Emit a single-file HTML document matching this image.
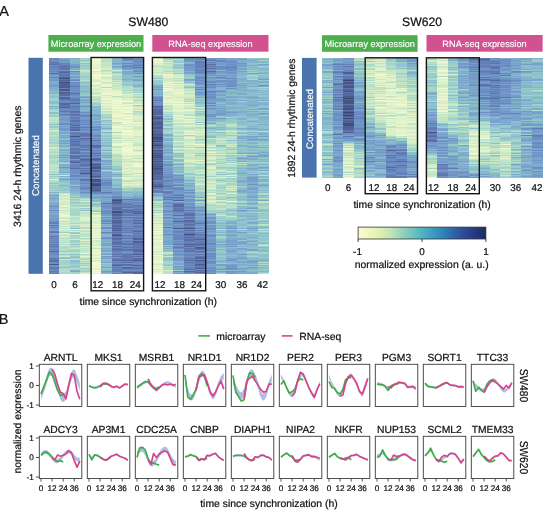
<!DOCTYPE html>
<html><head><meta charset="utf-8">
<style>
html,body{margin:0;padding:0;background:#fff;}
body{width:550px;height:518px;position:relative;overflow:hidden;font-family:"Liberation Sans",sans-serif;text-rendering:geometricPrecision;}
.hm{position:absolute;}
.hmc{position:absolute;filter:blur(0.45px);}
svg{position:absolute;left:0;top:0;filter:blur(0.3px);}
text{font-family:"Liberation Sans",sans-serif;fill:#111;stroke:#111;stroke-width:0.22px;text-rendering:geometricPrecision;}
.gn{font-size:10.3px;text-anchor:middle;}
.tk{font-size:8.2px;}
.ax{font-size:9.9px;text-anchor:middle;}
.ttl{font-size:10.4px;}
.bar{font-size:9.2px;fill:#fff;stroke:#fff;stroke-width:0.15px;text-anchor:middle;}
</style></head><body>
<div class="hmc" style="left:48.80px;top:57.80px;width:94.50px;height:216px">
<div class="hm" style="left:0.00px;top:0;width:10.80px;height:216px;background:linear-gradient(#6683bd 0 1px,#6988c1 0 2px,#6f92c5 0 3px,#6988c1 0 4px,#6079b1 0 5px,#627bb4 0 6px,#5a6fa6 0 7px,#6e91c5 0 8px,#6683bd 0 9px,#637eb7 0 10px,#6d8ec3 0 11px,#6581ba 0 12px,#7093c6 0 13px,#6784be 0 14px,#7094c6 0 15px,#5a6fa6 0 16px,#6e91c5 0 17px,#7aa5cc 0 18px,#769fcb 0 19px,#6581ba 0 20px,#79a3cc 0 21px,#7298c8 0 22px,#7094c6 0 23px,#7ba7cc 0 24px,#84b4cc 0 25px,#79a3cc 0 26px,#7daacc 0 27px,#7196c7 0 28px,#78a2cc 0 29px,#7eabcc 0 31px,#82b1cc 0 32px,#84b5cc 0 33px,#86b8cc 0 34px,#87b9cc 0 35px,#81b0cc 0 36px,#9bcdca 0 37px,#97cbcb 0 38px,#8cc1cc 0 39px,#97cbcb 0 40px,#96cacb 0 41px,#aad8c8 0 42px,#94c8cb 0 43px,#8ec4cc 0 44px,#88bbcc 0 45px,#89bdcc 0 46px,#a1d1c9 0 47px,#abd8c8 0 48px,#80aecc 0 49px,#92c7cb 0 50px,#87b9cc 0 51px,#a8d6c8 0 52px,#a7d6c8 0 53px,#b3dec7 0 54px,#8bc0cc 0 55px,#89bdcc 0 56px,#b3dec6 0 57px,#9ecfca 0 58px,#96cacb 0 59px,#cce9c7 0 60px,#c0e4c6 0 61px,#bde3c6 0 62px,#b4dec6 0 63px,#c9e8c7 0 64px,#addac7 0 65px,#a7d5c8 0 66px,#94c8cb 0 67px,#abd8c8 0 68px,#9accca 0 69px,#94c8cb 0 70px,#b5e0c6 0 71px,#aedbc7 0 72px,#cbe9c7 0 73px,#d1ebc7 0 74px,#a9d7c8 0 75px,#afdbc7 0 76px,#aad8c8 0 77px,#bfe4c6 0 78px,#b8e1c6 0 79px,#aad8c8 0 80px,#addac7 0 81px,#aedac7 0 82px,#a2d2c9 0 83px,#b5dfc6 0 84px,#9dcfca 0 85px,#a3d3c9 0 86px,#bae2c6 0 87px,#b0dbc7 0 88px,#aad7c8 0 89px,#dbefc8 0 90px,#cfeac7 0 91px,#b2ddc7 0 92px,#c2e5c7 0 93px,#b8e1c6 0 94px,#addac7 0 95px,#bfe4c6 0 96px,#bde3c6 0 97px,#a8d6c8 0 98px,#a3d3c9 0 99px,#a6d5c8 0 100px,#aedac7 0 101px,#b9e1c6 0 102px,#b1ddc7 0 103px,#a9d7c8 0 105px,#afdbc7 0 106px,#b6e0c6 0 107px,#cae8c7 0 108px,#bfe4c6 0 109px,#b8e1c6 0 110px,#bbe2c6 0 111px,#b8e1c6 0 112px,#c7e7c7 0 113px,#b3dec6 0 114px,#acd9c7 0 115px,#bee3c6 0 116px,#88bbcc 0 117px,#c3e5c7 0 118px,#9accca 0 119px,#bde3c6 0 120px,#a8d7c8 0 121px,#ddf0c8 0 122px,#bbe2c6 0 123px,#acd9c8 0 124px,#a9d7c8 0 125px,#8ec4cc 0 126px,#aedac7 0 127px,#97cbcb 0 128px,#a1d1c9 0 129px,#97cacb 0 130px,#98cbca 0 131px,#a5d4c9 0 132px,#94c8cb 0 133px,#acd9c7 0 134px,#81afcc 0 135px,#9ed0ca 0 136px,#8abdcc 0 137px,#759dca 0 138px,#86b7cc 0 139px,#7fadcc 0 140px,#79a4cc 0 141px,#81b0cc 0 142px,#82b2cc 0 143px,#89bdcc 0 144px,#80aecc 0 145px,#78a3cc 0 146px,#85b5cc 0 147px,#7094c6 0 148px,#7297c7 0 149px,#7aa4cc 0 150px,#78a2cc 0 151px,#81afcc 0 152px,#6987c1 0 153px,#7eaccc 0 154px,#769eca 0 155px,#7daacc 0 156px,#7fadcc 0 157px,#739ac8 0 158px,#779fcb 0 159px,#79a3cc 0 160px,#78a1cc 0 161px,#7399c8 0 162px,#749bc9 0 163px,#6e90c4 0 164px,#647eb7 0 165px,#637eb7 0 166px,#79a3cc 0 167px,#5f77af 0 168px,#7195c7 0 169px,#6887c0 0 170px,#7094c6 0 171px,#769fcb 0 173px,#647fb8 0 174px,#5e76ae 0 175px,#78a2cc 0 176px,#749bc9 0 177px,#7196c7 0 178px,#5f78b0 0 179px,#6b8cc2 0 180px,#6682bc 0 181px,#6a89c1 0 182px,#6988c1 0 183px,#6b8bc2 0 184px,#647fb8 0 185px,#7398c8 0 186px,#5e75ad 0 187px,#6988c1 0 188px,#6079b1 0 189px,#6a8ac2 0 190px,#6e90c4 0 191px,#647fb8 0 192px,#6b8bc2 0 193px,#5769a0 0 194px,#6784be 0 195px,#6d8fc4 0 196px,#6988c1 0 197px,#6f93c6 0 198px,#7196c7 0 199px,#6f92c5 0 200px,#6079b1 0 202px,#5d73ab 0 203px,#586ca2 0 204px,#6d8ec4 0 205px,#6b8cc2 0 206px,#4b598a 0 207px,#7094c6 0 208px,#6e91c5 0 209px,#6079b1 0 210px,#637db6 0 211px,#6581ba 0 212px,#6f93c5 0 213px,#5f77af 0 214px,#6886c0 0 215px,#637eb7 0 216px)"></div>
<div class="hm" style="left:10.50px;top:0;width:10.80px;height:216px;background:linear-gradient(#7faecc 0 1px,#749bc9 0 2px,#6f92c5 0 3px,#749bc9 0 4px,#749cc9 0 5px,#6580ba 0 6px,#6988c1 0 7px,#6079b1 0 8px,#5c72a9 0 9px,#617bb3 0 10px,#5d73aa 0 11px,#617ab2 0 12px,#6f93c6 0 13px,#5a6fa6 0 14px,#57699f 0 15px,#5f78b0 0 16px,#637eb7 0 17px,#5b6fa6 0 18px,#6581ba 0 19px,#54659a 0 20px,#44517f 0 21px,#5c72a9 0 22px,#536398 0 23px,#5a6ea5 0 24px,#455281 0 25px,#505f93 0 26px,#4e5c90 0 27px,#536297 0 28px,#505f93 0 29px,#4d5b8e 0 30px,#6581ba 0 31px,#475585 0 32px,#4c5b8d 0 33px,#6682bb 0 34px,#4d5b8d 0 35px,#586ba1 0 36px,#56689e 0 37px,#596da3 0 38px,#6987c0 0 39px,#57699f 0 40px,#4f5e92 0 41px,#5f78b0 0 42px,#647fb8 0 43px,#6d8fc4 0 44px,#6886c0 0 45px,#55669b 0 46px,#56689e 0 47px,#5d73aa 0 48px,#5f77af 0 49px,#526196 0 50px,#6886c0 0 51px,#6c8dc3 0 52px,#6887c0 0 53px,#6078b0 0 54px,#6e90c4 0 55px,#6f92c5 0 56px,#6480b9 0 57px,#6b8ac2 0 58px,#78a1cc 0 59px,#769eca 0 60px,#749bc9 0 61px,#7297c7 0 62px,#759dca 0 63px,#78a1cc 0 64px,#79a4cc 0 65px,#6f92c5 0 66px,#6886c0 0 67px,#80afcc 0 68px,#759dca 0 69px,#7daacc 0 70px,#7399c8 0 71px,#7196c7 0 72px,#739ac8 0 73px,#86b7cc 0 74px,#78a2cc 0 75px,#7ba6cc 0 76px,#8dc2cc 0 77px,#78a1cc 0 78px,#7eaccc 0 79px,#79a4cc 0 80px,#88bacc 0 81px,#90c5cc 0 82px,#78a2cc 0 83px,#7aa5cc 0 84px,#82b2cc 0 85px,#769fcb 0 86px,#89bccc 0 87px,#82b1cc 0 88px,#79a4cc 0 89px,#8fc5cc 0 90px,#93c7cb 0 91px,#86b7cc 0 92px,#78a2cc 0 93px,#8cc1cc 0 94px,#81b0cc 0 95px,#86b7cc 0 96px,#86b8cc 0 97px,#7196c7 0 98px,#89bccc 0 99px,#7298c8 0 100px,#8abecc 0 101px,#83b3cc 0 102px,#84b5cc 0 103px,#79a3cc 0 104px,#9bcdca 0 105px,#a8d6c8 0 106px,#7eabcc 0 107px,#80aecc 0 108px,#85b6cc 0 109px,#6f92c5 0 110px,#80afcc 0 111px,#88bacc 0 112px,#85b7cc 0 113px,#86b8cc 0 114px,#7ba6cc 0 115px,#9dcfca 0 116px,#88bbcc 0 117px,#cbe9c7 0 118px,#7fadcc 0 119px,#99ccca 0 120px,#87b9cc 0 121px,#77a0cb 0 122px,#89bccc 0 123px,#8cc1cc 0 124px,#93c8cb 0 125px,#9bcdca 0 126px,#97cbcb 0 127px,#86b8cc 0 128px,#92c7cb 0 129px,#94c8cb 0 130px,#9bcdca 0 131px,#92c6cb 0 132px,#95c9cb 0 133px,#a7d5c8 0 134px,#99ccca 0 135px,#c1e5c7 0 136px,#e4f3c9 0 137px,#bfe4c6 0 138px,#d1ebc7 0 139px,#e3f2c8 0 140px,#c8e7c7 0 141px,#d0ebc7 0 142px,#e5f3ca 0 143px,#d1ebc7 0 144px,#def0c8 0 145px,#c9e8c7 0 146px,#d5edc7 0 147px,#ddf0c8 0 148px,#edf7cf 0 149px,#c6e7c7 0 150px,#dbefc8 0 151px,#e4f3ca 0 152px,#c5e6c7 0 153px,#dbefc8 0 154px,#d8eec8 0 155px,#e5f3ca 0 156px,#e3f2c8 0 157px,#f2f9d3 0 158px,#eef7d0 0 159px,#d9eec8 0 160px,#c1e5c7 0 161px,#e9f5cc 0 162px,#e3f2c9 0 163px,#bce2c6 0 164px,#dff1c8 0 165px,#c5e6c7 0 166px,#cbe9c7 0 167px,#ddf0c8 0 168px,#c4e6c7 0 169px,#dff1c8 0 170px,#c8e7c7 0 171px,#e5f3ca 0 172px,#c6e6c7 0 174px,#9ed0ca 0 175px,#e3f3c9 0 176px,#d5edc7 0 177px,#b9e1c6 0 178px,#e0f1c8 0 179px,#c0e4c6 0 180px,#b8e1c6 0 181px,#cce9c7 0 182px,#bde3c6 0 183px,#d4ecc7 0 184px,#acd9c7 0 185px,#def0c8 0 186px,#b4dfc6 0 187px,#ceeac7 0 188px,#bae1c6 0 189px,#abd8c8 0 190px,#b4dfc6 0 191px,#b8e1c6 0 192px,#abd8c8 0 193px,#97cacb 0 194px,#c1e5c7 0 195px,#bae2c6 0 196px,#9bcdca 0 197px,#b6e0c6 0 198px,#d2ebc7 0 199px,#92c7cb 0 200px,#87bacc 0 201px,#cde9c7 0 202px,#a4d3c9 0 203px,#acd9c7 0 204px,#9bcdca 0 205px,#a7d5c8 0 206px,#a7d6c8 0 207px,#addac7 0 208px,#abd8c8 0 209px,#8bbfcc 0 210px,#afdbc7 0 211px,#b6e0c6 0 212px,#b1ddc7 0 213px,#b9e1c6 0 214px,#a7d6c8 0 215px,#aedac7 0 216px)"></div>
<div class="hm" style="left:21.00px;top:0;width:10.80px;height:216px;background:linear-gradient(#7eabcc 0 1px,#85b6cc 0 2px,#89bccc 0 3px,#84b4cc 0 4px,#82b1cc 0 5px,#84b5cc 0 6px,#78a2cc 0 7px,#759dca 0 8px,#7094c6 0 9px,#6e91c5 0 10px,#80aecc 0 11px,#7da9cc 0 12px,#9dceca 0 13px,#6988c1 0 14px,#7da9cc 0 15px,#769fcb 0 16px,#79a3cc 0 17px,#89bccc 0 18px,#759cca 0 19px,#769eca 0 20px,#82b1cc 0 21px,#7197c7 0 22px,#6a89c1 0 23px,#85b6cc 0 24px,#6c8dc3 0 25px,#6f92c5 0 26px,#6f93c5 0 27px,#6885bf 0 28px,#637eb7 0 29px,#6d8ec3 0 30px,#6a8ac2 0 31px,#7399c8 0 32px,#6988c1 0 33px,#7297c7 0 34px,#6a8ac2 0 35px,#5a6fa6 0 36px,#6886c0 0 37px,#6d8fc4 0 38px,#7398c8 0 39px,#6b8bc2 0 40px,#6989c1 0 41px,#5e75ad 0 42px,#617bb3 0 43px,#6785bf 0 44px,#6683bc 0 45px,#54659a 0 46px,#6f92c5 0 47px,#6b8bc2 0 48px,#5d74ab 0 49px,#6785bf 0 50px,#6581ba 0 51px,#6988c1 0 52px,#6b8bc2 0 53px,#5b6fa6 0 54px,#5e75ac 0 55px,#6a8ac2 0 56px,#5a6ea5 0 57px,#6079b1 0 58px,#6b8bc2 0 59px,#617ab3 0 60px,#637eb7 0 61px,#6886c0 0 62px,#5d73ab 0 63px,#5b70a8 0 64px,#6b8cc2 0 65px,#6079b1 0 66px,#6581ba 0 67px,#54659b 0 68px,#6b8bc2 0 69px,#56679d 0 70px,#627bb4 0 71px,#586aa1 0 72px,#54659b 0 73px,#7da9cc 0 74px,#647fb8 0 75px,#6078b0 0 76px,#6784be 0 77px,#647fb8 0 78px,#485687 0 79px,#6079b1 0 80px,#6e90c4 0 81px,#586ba1 0 82px,#6a8ac2 0 83px,#54659a 0 84px,#6580ba 0 85px,#5e75ad 0 86px,#5c72a9 0 87px,#5b71a8 0 88px,#6a89c1 0 89px,#6d8fc4 0 90px,#5e76ad 0 91px,#5d74ab 0 92px,#6682bb 0 93px,#617ab2 0 94px,#5e75ad 0 95px,#586ba2 0 96px,#77a0cb 0 97px,#6078b0 0 98px,#596da4 0 99px,#5e76ae 0 100px,#5c71a9 0 101px,#759dca 0 102px,#6480b9 0 103px,#5e75ad 0 104px,#526297 0 105px,#6f93c6 0 106px,#6784be 0 107px,#6885bf 0 108px,#647fb8 0 109px,#6988c1 0 110px,#596da4 0 111px,#7095c6 0 112px,#6d8ec4 0 113px,#6f93c5 0 114px,#6b8cc2 0 115px,#7297c7 0 116px,#739ac9 0 117px,#6887c0 0 118px,#6886c0 0 119px,#77a0cb 0 120px,#7399c8 0 121px,#6c8ec3 0 122px,#7ca8cc 0 123px,#78a2cc 0 124px,#769fcb 0 125px,#77a1cb 0 126px,#7fadcc 0 127px,#8fc5cc 0 128px,#759cca 0 129px,#7ba7cc 0 130px,#7eaccc 0 131px,#84b5cc 0 132px,#7daacc 0 133px,#85b5cc 0 135px,#8abecc 0 136px,#8fc5cc 0 137px,#96c9cb 0 138px,#a4d3c9 0 139px,#8abdcc 0 140px,#b6e0c6 0 141px,#93c8cb 0 142px,#a6d5c8 0 143px,#afdbc7 0 144px,#94c8cb 0 145px,#9ed0ca 0 146px,#aedac7 0 147px,#a3d3c9 0 148px,#a8d6c8 0 149px,#c2e5c7 0 150px,#b2ddc7 0 151px,#add9c7 0 152px,#a4d3c9 0 153px,#abd8c8 0 154px,#a8d6c8 0 155px,#a6d4c8 0 156px,#a5d4c8 0 157px,#abd8c8 0 158px,#d0ebc7 0 159px,#bae2c6 0 160px,#b3dec6 0 161px,#c5e6c7 0 162px,#bae2c6 0 163px,#ceeac7 0 164px,#b5dfc6 0 165px,#abd8c8 0 166px,#d4ecc7 0 167px,#b7e1c6 0 168px,#aedac7 0 169px,#b2ddc7 0 170px,#8bbfcc 0 171px,#ebf6ce 0 172px,#addac7 0 173px,#def0c8 0 174px,#9bcdca 0 175px,#8ec4cc 0 176px,#dcefc8 0 177px,#a4d4c9 0 178px,#a7d6c8 0 179px,#b2ddc7 0 180px,#9fd0c9 0 181px,#d6edc7 0 182px,#a0d1c9 0 183px,#9dceca 0 184px,#a6d5c8 0 185px,#bae1c6 0 186px,#8ec4cc 0 187px,#bde3c6 0 188px,#a1d2c9 0 189px,#b5e0c6 0 190px,#d2ebc7 0 191px,#a5d4c9 0 192px,#a3d3c9 0 193px,#96cacb 0 194px,#c1e5c7 0 195px,#b1dcc7 0 196px,#96c9cb 0 197px,#a8d6c8 0 198px,#95c9cb 0 199px,#8cc1cc 0 200px,#a6d5c8 0 201px,#bae2c6 0 202px,#89bccc 0 203px,#8cc1cc 0 204px,#8dc3cc 0 205px,#96c9cb 0 206px,#9fd0c9 0 207px,#9accca 0 208px,#90c5cc 0 209px,#9cceca 0 210px,#afdbc7 0 211px,#a9d7c8 0 212px,#83b4cc 0 213px,#7ba7cc 0 214px,#a2d2c9 0 215px,#a7d5c8 0 216px)"></div>
<div class="hm" style="left:31.50px;top:0;width:10.80px;height:216px;background:linear-gradient(#a0d1c9 0 1px,#abd8c8 0 2px,#8ec3cc 0 3px,#a5d4c9 0 4px,#bae2c6 0 5px,#8dc2cc 0 6px,#a2d2c9 0 7px,#99cbca 0 8px,#98cbcb 0 9px,#a2d2c9 0 10px,#96cacb 0 11px,#a8d6c8 0 12px,#cbe9c7 0 13px,#bde3c6 0 14px,#afdbc7 0 15px,#a6d5c8 0 16px,#a9d7c8 0 17px,#a7d5c8 0 18px,#97cacb 0 19px,#9bcdca 0 20px,#a4d3c9 0 22px,#b7e0c6 0 23px,#9ecfca 0 24px,#8dc2cc 0 25px,#8cc1cc 0 26px,#9cceca 0 27px,#8cc1cc 0 28px,#86b8cc 0 29px,#8bbfcc 0 30px,#8abecc 0 31px,#8bc0cc 0 32px,#8cc1cc 0 33px,#80aecc 0 34px,#8ec3cc 0 35px,#8cc2cc 0 36px,#97cacb 0 37px,#9acdca 0 38px,#7daacc 0 39px,#759cc9 0 40px,#8abfcc 0 41px,#80aecc 0 42px,#78a2cc 0 43px,#82b1cc 0 44px,#77a0cb 0 45px,#87b9cc 0 46px,#8dc2cc 0 47px,#7ba7cc 0 48px,#7298c8 0 49px,#7faccc 0 50px,#82b2cc 0 51px,#7faecc 0 52px,#87b9cc 0 53px,#7faccc 0 54px,#6c8ec3 0 55px,#79a4cc 0 56px,#7297c7 0 57px,#6480b9 0 58px,#6b8cc3 0 59px,#749cc9 0 61px,#7195c7 0 62px,#6886c0 0 63px,#7195c7 0 64px,#6b8cc2 0 65px,#7196c7 0 66px,#6886c0 0 67px,#769eca 0 68px,#6f92c5 0 69px,#617bb3 0 70px,#7196c7 0 71px,#6988c1 0 72px,#6e90c4 0 73px,#749bc9 0 74px,#6989c1 0 75px,#647fb8 0 76px,#5a6ea5 0 77px,#5e76ad 0 78px,#6179b2 0 79px,#7297c7 0 80px,#55669b 0 81px,#6581ba 0 82px,#617bb3 0 83px,#6d8fc4 0 84px,#6581bb 0 85px,#6d8ec4 0 86px,#6b8bc2 0 87px,#5d73aa 0 88px,#627bb4 0 89px,#617ab2 0 90px,#7196c7 0 91px,#5a6fa5 0 92px,#6785be 0 93px,#77a0cb 0 94px,#6683bd 0 95px,#6784bd 0 96px,#6f92c5 0 97px,#6078b0 0 98px,#5e75ad 0 99px,#6c8ec3 0 100px,#627cb5 0 101px,#526196 0 102px,#5b70a7 0 103px,#5f76ae 0 104px,#637eb6 0 105px,#6480b9 0 106px,#5e75ac 0 107px,#5b6fa6 0 108px,#6682bc 0 109px,#7195c6 0 110px,#5c71a8 0 111px,#6a8ac2 0 112px,#6079b1 0 113px,#6784be 0 114px,#6078b0 0 115px,#4d5b8e 0 116px,#647fb8 0 117px,#6c8ec3 0 118px,#6885bf 0 119px,#759eca 0 120px,#7195c6 0 121px,#596da4 0 122px,#617ab2 0 123px,#6e91c5 0 124px,#7196c7 0 125px,#6785bf 0 126px,#749bc9 0 127px,#7195c7 0 128px,#6f92c5 0 129px,#6886c0 0 130px,#6480b9 0 131px,#6f93c6 0 132px,#769eca 0 133px,#78a2cc 0 134px,#6b8cc2 0 135px,#749bc9 0 136px,#87bacc 0 137px,#81afcc 0 138px,#85b6cc 0 139px,#8bc0cc 0 140px,#abd8c8 0 141px,#c0e4c6 0 142px,#aad7c8 0 143px,#def1c8 0 144px,#a3d2c9 0 145px,#a5d4c8 0 146px,#c4e6c7 0 147px,#9acdca 0 148px,#a9d7c8 0 149px,#d5edc7 0 150px,#98cbca 0 151px,#b2ddc7 0 152px,#8cc0cc 0 153px,#d5edc7 0 154px,#bee3c6 0 156px,#c5e6c7 0 157px,#c6e7c7 0 158px,#cce9c7 0 159px,#e6f4ca 0 160px,#dbefc8 0 161px,#e7f4cc 0 162px,#d7edc7 0 163px,#d0eac7 0 164px,#bee3c6 0 165px,#bbe2c6 0 166px,#d9eec8 0 167px,#dbefc8 0 168px,#d6edc7 0 169px,#b5dfc6 0 170px,#b4dfc6 0 171px,#def0c8 0 172px,#c8e7c7 0 173px,#b9e1c6 0 174px,#d0ebc7 0 175px,#cae8c7 0 176px,#b3dec6 0 177px,#c5e6c7 0 178px,#bbe2c6 0 179px,#dcf0c8 0 180px,#b1dcc7 0 181px,#c4e6c7 0 182px,#e4f3c9 0 183px,#b0dcc7 0 184px,#d0ebc7 0 185px,#b3dec6 0 186px,#bfe4c6 0 187px,#d4ecc7 0 188px,#bbe2c6 0 189px,#d0ebc7 0 190px,#c2e5c7 0 191px,#cce9c7 0 192px,#b9e1c6 0 193px,#c2e5c7 0 194px,#cfeac7 0 195px,#f0f8d2 0 196px,#add9c7 0 197px,#cce9c7 0 198px,#e7f4cb 0 199px,#cdeac7 0 200px,#b0dcc7 0 201px,#a9d7c8 0 202px,#c9e8c7 0 203px,#abd8c8 0 204px,#c1e4c6 0 205px,#9cceca 0 206px,#b8e1c6 0 207px,#a3d3c9 0 208px,#c7e7c7 0 209px,#c1e4c6 0 210px,#9ecfca 0 211px,#a9d7c8 0 212px,#abd8c8 0 213px,#9ecfca 0 214px,#c1e5c7 0 215px,#d9efc8 0 216px)"></div>
<div class="hm" style="left:42.00px;top:0;width:10.80px;height:216px;background:linear-gradient(#f4fad4 0 1px,#f2f9d3 0 2px,#f4fad4 0 3px,#ebf6ce 0 4px,#eff8d1 0 5px,#f1f9d2 0 6px,#eaf5cd 0 7px,#eef7d0 0 8px,#e9f5cd 0 9px,#e7f4cb 0 10px,#e4f3ca 0 11px,#f1f9d2 0 12px,#f4fad4 0 13px,#d7eec8 0 14px,#e8f5cc 0 15px,#dff1c8 0 16px,#f4fad4 0 17px,#f2f9d3 0 18px,#ecf6ce 0 19px,#f4fad4 0 20px,#ebf6ce 0 21px,#e2f2c8 0 22px,#d7eec8 0 23px,#d6edc7 0 24px,#ecf6cf 0 25px,#eff8d0 0 26px,#e3f2c8 0 27px,#c7e7c7 0 28px,#dcefc8 0 29px,#e8f5cc 0 30px,#d8eec8 0 31px,#d7eec8 0 32px,#d5edc7 0 33px,#e2f2c8 0 34px,#c9e8c7 0 35px,#bfe4c6 0 36px,#daefc8 0 37px,#eaf6cd 0 38px,#c8e7c7 0 39px,#b4dec6 0 40px,#c7e7c7 0 41px,#aad7c8 0 42px,#bde3c6 0 43px,#bee3c6 0 44px,#b3dec6 0 45px,#9bcdca 0 46px,#9ecfca 0 47px,#aad8c8 0 48px,#83b4cc 0 49px,#88bbcc 0 50px,#89bccc 0 51px,#8cc1cc 0 52px,#84b4cc 0 53px,#8abdcc 0 54px,#86b8cc 0 55px,#8bc0cc 0 56px,#79a4cc 0 57px,#769eca 0 58px,#7daacc 0 59px,#82b2cc 0 60px,#7eaccc 0 61px,#7eabcc 0 62px,#8abdcc 0 63px,#759dca 0 64px,#7eabcc 0 65px,#81b0cc 0 66px,#769fcb 0 67px,#83b3cc 0 68px,#7399c8 0 69px,#6c8cc3 0 70px,#77a1cb 0 71px,#6988c1 0 72px,#6f93c5 0 73px,#7aa6cc 0 74px,#779fcb 0 75px,#749bc9 0 77px,#6785bf 0 78px,#6c8cc3 0 79px,#7aa4cc 0 80px,#6988c1 0 81px,#749bc9 0 82px,#5c72a9 0 83px,#7093c6 0 84px,#6c8dc3 0 86px,#6f93c5 0 87px,#55669b 0 88px,#596ea4 0 89px,#5d73ab 0 90px,#6987c0 0 91px,#7196c7 0 92px,#6581ba 0 93px,#6e90c4 0 94px,#6b8cc3 0 95px,#5a6ea5 0 96px,#6c8dc3 0 97px,#617bb3 0 98px,#6886bf 0 99px,#7094c6 0 100px,#586ba1 0 101px,#4e5d90 0 102px,#5b70a7 0 103px,#617ab2 0 104px,#7399c8 0 105px,#5b70a7 0 106px,#4b598b 0 107px,#586ba1 0 108px,#56679d 0 109px,#485687 0 110px,#495788 0 111px,#6078b0 0 112px,#55669c 0 113px,#526196 0 114px,#6784be 0 115px,#5c73aa 0 116px,#5e76ae 0 117px,#5b71a8 0 118px,#4b598a 0 119px,#647fb8 0 120px,#6a89c1 0 121px,#445180 0 122px,#4b598a 0 123px,#404d7a 0 124px,#5d74ac 0 125px,#475584 0 126px,#3c4974 0 127px,#3b4872 0 128px,#56689e 0 129px,#526196 0 130px,#576aa0 0 131px,#526195 0 132px,#505f92 0 133px,#5a6fa6 0 134px,#6987c1 0 135px,#6886c0 0 136px,#7daacc 0 137px,#7ca9cc 0 138px,#81afcc 0 139px,#739ac9 0 140px,#7daacc 0 141px,#8cc1cc 0 142px,#83b3cc 0 143px,#8bbfcc 0 144px,#aad8c8 0 145px,#95c9cb 0 146px,#8cc1cc 0 147px,#8dc2cc 0 148px,#9fd0ca 0 149px,#bae2c6 0 150px,#c3e5c7 0 151px,#b5dfc6 0 152px,#a4d4c9 0 153px,#96c9cb 0 154px,#e0f1c8 0 155px,#bde3c6 0 156px,#c8e7c7 0 157px,#e9f5cd 0 158px,#ecf6cf 0 159px,#d7eec8 0 160px,#d9eec8 0 161px,#e4f3c9 0 162px,#d4ecc7 0 163px,#e4f3c9 0 164px,#d2ebc7 0 165px,#e3f2c9 0 166px,#eef7d0 0 167px,#e2f2c8 0 168px,#ebf6ce 0 169px,#e2f2c8 0 170px,#c8e7c7 0 171px,#f0f8d1 0 172px,#e5f3ca 0 173px,#e7f4cb 0 174px,#e8f5cc 0 175px,#e4f3c9 0 176px,#f1f9d2 0 177px,#dbefc8 0 178px,#ecf6cf 0 179px,#edf7cf 0 180px,#c9e8c7 0 181px,#eef7d0 0 182px,#d1ebc7 0 183px,#d8eec8 0 184px,#ceeac7 0 185px,#f1f8d2 0 186px,#c6e6c7 0 187px,#e0f1c8 0 188px,#e6f4cb 0 189px,#ebf6ce 0 190px,#c4e6c7 0 191px,#e5f3ca 0 192px,#ecf6ce 0 193px,#ecf6cf 0 194px,#ebf6ce 0 195px,#ecf6cf 0 196px,#e6f4cb 0 197px,#ddf0c8 0 198px,#f0f8d1 0 199px,#ebf6ce 0 200px,#d1ebc7 0 201px,#eff8d1 0 202px,#d7eec8 0 203px,#dcf0c8 0 204px,#f4fad4 0 206px,#f0f8d1 0 207px,#f4fad4 0 208px,#eaf6cd 0 209px,#f4fad4 0 210px,#e4f3c9 0 211px,#def1c8 0 212px,#f4fad4 0 213px,#e9f5cd 0 214px,#f4fad4 0 215px,#e7f4cb 0 216px)"></div>
<div class="hm" style="left:52.50px;top:0;width:10.80px;height:216px;background:linear-gradient(#c6e6c7 0 1px,#b8e1c6 0 2px,#b9e1c6 0 3px,#b3dec6 0 4px,#cae8c7 0 5px,#bfe4c6 0 6px,#c0e4c6 0 7px,#b9e1c6 0 8px,#cdeac7 0 9px,#bfe4c6 0 10px,#e3f3c9 0 11px,#cfeac7 0 12px,#b4dfc6 0 13px,#c3e5c7 0 14px,#dff1c8 0 15px,#c4e6c7 0 16px,#e7f4cb 0 17px,#edf7cf 0 18px,#e4f3ca 0 19px,#cce9c7 0 20px,#ceeac7 0 21px,#dbefc8 0 22px,#e4f3c9 0 23px,#e9f5cd 0 24px,#c0e4c6 0 25px,#d5edc7 0 26px,#eaf5cd 0 27px,#ebf6ce 0 28px,#eaf6cd 0 29px,#acd9c8 0 30px,#edf7cf 0 31px,#e5f3ca 0 32px,#e2f2c8 0 33px,#e5f3ca 0 34px,#e4f3ca 0 35px,#eff8d0 0 36px,#eff8d1 0 37px,#d3ecc7 0 38px,#edf7cf 0 39px,#d1ebc7 0 40px,#f4fad4 0 41px,#e6f4cb 0 42px,#dff1c8 0 43px,#e0f1c8 0 44px,#ecf7cf 0 45px,#d1ebc7 0 46px,#e6f4cb 0 47px,#e7f4cb 0 48px,#d0ebc7 0 49px,#e4f3c9 0 50px,#d4ecc7 0 51px,#c4e6c7 0 52px,#edf7cf 0 53px,#bae2c6 0 54px,#cae8c7 0 55px,#cde9c7 0 56px,#b1ddc7 0 57px,#a0d0c9 0 58px,#b0dcc7 0 59px,#99ccca 0 60px,#b0dcc7 0 61px,#b9e1c6 0 62px,#8abecc 0 63px,#a0d0c9 0 64px,#93c7cb 0 65px,#acd9c8 0 66px,#87b9cc 0 67px,#a0d0c9 0 68px,#93c7cb 0 69px,#8fc5cc 0 70px,#7eabcc 0 71px,#95c9cb 0 72px,#acd9c8 0 73px,#b9e1c6 0 74px,#82b1cc 0 75px,#a0d0c9 0 76px,#a8d6c8 0 77px,#97cacb 0 78px,#8ec4cc 0 79px,#a2d2c9 0 80px,#91c6cc 0 81px,#95c9cb 0 82px,#8dc2cc 0 83px,#99ccca 0 84px,#8bbfcc 0 85px,#90c5cc 0 86px,#94c8cb 0 87px,#84b5cc 0 89px,#a8d6c8 0 90px,#9ecfca 0 91px,#98cbca 0 92px,#7fadcc 0 93px,#addac7 0 94px,#93c7cb 0 95px,#87bacc 0 96px,#93c7cb 0 97px,#78a2cc 0 98px,#89bccc 0 99px,#7eabcc 0 100px,#95c9cb 0 101px,#98cbcb 0 102px,#79a3cc 0 103px,#7ba7cc 0 104px,#82b1cc 0 105px,#84b4cc 0 106px,#7aa6cc 0 107px,#8ec4cc 0 108px,#7eabcc 0 109px,#84b4cc 0 110px,#749cc9 0 111px,#82b2cc 0 112px,#a0d1c9 0 113px,#8cc1cc 0 114px,#759eca 0 115px,#80aecc 0 116px,#7aa5cc 0 117px,#7da9cc 0 118px,#79a3cc 0 119px,#83b3cc 0 120px,#7aa5cc 0 121px,#749bc9 0 122px,#6988c1 0 123px,#7399c8 0 124px,#6885bf 0 125px,#6987c0 0 126px,#6988c1 0 127px,#6c8dc3 0 128px,#749cc9 0 129px,#7399c8 0 130px,#749ac9 0 131px,#79a4cc 0 132px,#7298c8 0 133px,#769fcb 0 134px,#617ab2 0 135px,#6f92c5 0 136px,#77a1cc 0 137px,#85b5cc 0 138px,#749ac9 0 139px,#7399c8 0 140px,#7ca8cc 0 141px,#7aa4cc 0 142px,#7eabcc 0 143px,#769eca 0 145px,#5d73aa 0 146px,#7195c7 0 147px,#7297c7 0 148px,#6988c1 0 149px,#6f92c5 0 150px,#7094c6 0 151px,#769fcb 0 152px,#7093c6 0 153px,#6886c0 0 154px,#6e91c5 0 155px,#6887c0 0 156px,#77a0cb 0 157px,#749bc9 0 158px,#86b8cc 0 159px,#7093c6 0 160px,#7ca9cc 0 161px,#749cc9 0 162px,#6e90c4 0 163px,#6987c1 0 164px,#79a4cc 0 165px,#6a89c1 0 166px,#82b2cc 0 167px,#7eabcc 0 168px,#84b4cc 0 169px,#6d90c4 0 170px,#6988c1 0 171px,#88bbcc 0 172px,#7ba7cc 0 173px,#82b1cc 0 174px,#6682bc 0 175px,#77a1cb 0 176px,#7fadcc 0 177px,#87b9cc 0 178px,#82b2cc 0 179px,#7298c8 0 180px,#6c8dc3 0 181px,#7eaccc 0 182px,#83b3cc 0 183px,#7ba7cc 0 184px,#8abdcc 0 185px,#769fcb 0 186px,#7ca8cc 0 187px,#78a1cc 0 188px,#89bdcc 0 189px,#8abecc 0 190px,#7aa5cc 0 191px,#82b1cc 0 192px,#769fcb 0 193px,#7ca8cc 0 194px,#90c6cc 0 195px,#7fadcc 0 196px,#769eca 0 197px,#9acdca 0 198px,#749bc9 0 199px,#81b0cc 0 200px,#759dca 0 201px,#8fc5cc 0 202px,#82b1cc 0 203px,#88bbcc 0 204px,#78a1cc 0 205px,#98cbca 0 206px,#87b9cc 0 207px,#8fc5cc 0 208px,#88bbcc 0 209px,#79a4cc 0 210px,#8fc4cc 0 211px,#89bccc 0 212px,#86b8cc 0 213px,#7196c7 0 214px,#7daacc 0 215px,#88bbcc 0 216px)"></div>
<div class="hm" style="left:63.00px;top:0;width:10.80px;height:216px;background:linear-gradient(#88bbcc 0 1px,#84b5cc 0 2px,#86b8cc 0 3px,#81b0cc 0 4px,#88bbcc 0 5px,#77a1cc 0 6px,#80aecc 0 7px,#91c6cc 0 8px,#77a0cb 0 9px,#82b2cc 0 10px,#8dc2cc 0 11px,#a2d2c9 0 12px,#cbe8c7 0 13px,#acd9c7 0 14px,#8fc5cc 0 15px,#aedac7 0 16px,#cce9c7 0 17px,#b6e0c6 0 18px,#b4dfc6 0 19px,#b0dcc7 0 20px,#aedac7 0 21px,#a6d5c8 0 22px,#cae8c7 0 23px,#b4dfc6 0 24px,#d4ecc7 0 25px,#b9e1c6 0 26px,#cfeac7 0 27px,#c0e4c6 0 29px,#cfeac7 0 30px,#cae8c7 0 31px,#d0ebc7 0 32px,#def0c8 0 33px,#e6f4cb 0 34px,#e7f4cb 0 35px,#e8f5cc 0 37px,#e9f5cd 0 38px,#b9e1c6 0 39px,#d8eec8 0 40px,#e4f3ca 0 41px,#eef7d0 0 43px,#f2f9d2 0 44px,#e9f5cd 0 45px,#eff8d0 0 46px,#e5f3ca 0 47px,#f0f8d1 0 48px,#e3f2c8 0 49px,#f4fad4 0 50px,#e8f5cc 0 51px,#e8f4cc 0 52px,#edf7cf 0 53px,#e2f2c8 0 54px,#e5f3ca 0 55px,#e4f3c9 0 56px,#f1f9d2 0 57px,#eaf6cd 0 58px,#f4fad4 0 59px,#e3f2c9 0 60px,#d9eec8 0 61px,#e6f4ca 0 62px,#eaf5cd 0 63px,#eaf6ce 0 64px,#c8e7c7 0 65px,#c6e7c7 0 66px,#d9eec8 0 67px,#daefc8 0 68px,#f3f9d3 0 69px,#f0f8d1 0 70px,#dff1c8 0 71px,#e7f4cb 0 72px,#ecf7cf 0 73px,#e9f5cc 0 74px,#a8d6c8 0 75px,#e8f5cc 0 76px,#e4f3c9 0 77px,#d0ebc7 0 78px,#d4ecc7 0 79px,#c8e7c7 0 80px,#b7e0c6 0 81px,#e6f4cb 0 82px,#cae8c7 0 83px,#d9eec8 0 84px,#cde9c7 0 85px,#e7f4cb 0 86px,#eff8d0 0 87px,#e9f5cd 0 88px,#bfe4c6 0 89px,#c7e7c7 0 90px,#dbefc8 0 91px,#edf7cf 0 92px,#cce9c7 0 93px,#e4f3ca 0 94px,#e3f3c9 0 95px,#d1ebc7 0 96px,#c3e5c7 0 97px,#addac7 0 98px,#bce3c6 0 99px,#b5dfc6 0 100px,#c3e5c7 0 101px,#b1ddc7 0 102px,#b3dec6 0 103px,#a1d1c9 0 104px,#b6e0c6 0 105px,#b4dfc6 0 106px,#a9d7c8 0 107px,#b9e1c6 0 108px,#8ec4cc 0 109px,#9dceca 0 110px,#98cbca 0 111px,#89bccc 0 112px,#97cacb 0 113px,#bee3c6 0 114px,#94c8cb 0 115px,#90c5cc 0 116px,#7da9cc 0 117px,#8abecc 0 118px,#85b5cc 0 119px,#aedac7 0 120px,#a3d3c9 0 121px,#89bccc 0 122px,#85b6cc 0 123px,#98cbca 0 124px,#8fc5cc 0 125px,#8fc4cc 0 126px,#88bbcc 0 127px,#83b2cc 0 128px,#8abdcc 0 129px,#90c6cc 0 130px,#77a0cb 0 131px,#759dca 0 132px,#81b0cc 0 133px,#769eca 0 134px,#7297c7 0 135px,#7197c7 0 136px,#7196c7 0 137px,#77a0cb 0 138px,#6c8dc3 0 139px,#627cb5 0 140px,#7094c6 0 141px,#4f5e91 0 142px,#424f7d 0 143px,#56689e 0 144px,#4f5d91 0 145px,#55669b 0 146px,#5e75ad 0 147px,#617ab2 0 148px,#6581ba 0 149px,#576aa0 0 150px,#5a6ea5 0 151px,#56689e 0 152px,#637db6 0 153px,#414e7b 0 154px,#445281 0 155px,#596ca3 0 156px,#526196 0 157px,#536398 0 158px,#5f77af 0 159px,#5a6fa6 0 160px,#546499 0 161px,#637db6 0 162px,#55669c 0 163px,#536398 0 164px,#505f93 0 165px,#596da4 0 166px,#5e75ad 0 167px,#596ca3 0 168px,#54649a 0 169px,#6079b1 0 170px,#516094 0 171px,#5b70a7 0 172px,#505f93 0 173px,#647fb8 0 174px,#5d73ab 0 175px,#647eb7 0 176px,#54659b 0 177px,#485687 0 178px,#5f76ae 0 179px,#627cb4 0 180px,#56689e 0 181px,#5b6fa6 0 182px,#6682bc 0 183px,#5e75ad 0 184px,#5a6ea5 0 185px,#586ca2 0 186px,#5e75ac 0 187px,#6b8bc2 0 188px,#56679d 0 189px,#6a89c1 0 190px,#5d74ab 0 191px,#596da4 0 192px,#6078b0 0 193px,#6784be 0 195px,#6989c1 0 196px,#5c72a9 0 197px,#6c8dc3 0 198px,#5c72aa 0 199px,#749bc9 0 200px,#6079b1 0 201px,#617ab2 0 202px,#56679d 0 203px,#6c8ec3 0 204px,#6079b1 0 205px,#6d8fc4 0 206px,#5c72aa 0 207px,#505f93 0 208px,#6c8ec3 0 209px,#5d73ab 0 210px,#6b8bc2 0 211px,#5f77af 0 212px,#6480b9 0 213px,#627cb5 0 214px,#7094c6 0 215px,#6784bd 0 216px)"></div>
<div class="hm" style="left:73.50px;top:0;width:10.80px;height:216px;background:linear-gradient(#6988c1 0 1px,#6885bf 0 2px,#6c8ec3 0 3px,#82b2cc 0 4px,#7ba7cc 0 5px,#6b8cc2 0 6px,#7aa6cc 0 7px,#6c8dc3 0 8px,#6581ba 0 9px,#7195c6 0 10px,#6f92c5 0 11px,#7ca8cc 0 12px,#8dc2cc 0 13px,#7aa5cc 0 14px,#7ca9cc 0 15px,#7ca8cc 0 16px,#80afcc 0 17px,#8bc0cc 0 18px,#88bbcc 0 19px,#87bacc 0 20px,#8bbfcc 0 21px,#7da9cc 0 22px,#88bbcc 0 23px,#93c8cb 0 24px,#96c9cb 0 25px,#a2d2c9 0 26px,#8ec4cc 0 27px,#97cacb 0 28px,#b9e1c6 0 29px,#aedac7 0 30px,#b5dfc6 0 31px,#bee3c6 0 32px,#a5d4c8 0 33px,#d2ebc7 0 34px,#b4dfc6 0 35px,#c3e5c7 0 36px,#e3f2c9 0 37px,#d3ecc7 0 39px,#bde3c6 0 40px,#e2f2c8 0 41px,#d1ebc7 0 42px,#ebf6ce 0 43px,#eef7d0 0 44px,#d3ecc7 0 45px,#c4e6c7 0 46px,#e9f5cd 0 48px,#d5edc7 0 49px,#f4fad4 0 50px,#ecf6ce 0 51px,#e3f3c9 0 52px,#e9f5cd 0 53px,#eef7d0 0 54px,#f4fad4 0 55px,#d1ebc7 0 56px,#e3f3c9 0 57px,#eff8d1 0 58px,#e8f5cc 0 59px,#e7f4cb 0 60px,#f4fad4 0 61px,#e3f2c9 0 62px,#e5f3ca 0 63px,#f4fad4 0 64px,#e7f4cb 0 65px,#f4fad4 0 66px,#d4ecc7 0 67px,#edf7cf 0 68px,#d6edc7 0 69px,#edf7cf 0 70px,#e4f3ca 0 71px,#dcefc8 0 72px,#f4fad4 0 74px,#ebf6ce 0 75px,#ecf6cf 0 76px,#f4fad4 0 77px,#e1f2c8 0 78px,#dff1c8 0 79px,#e7f4cb 0 80px,#cfeac7 0 81px,#e9f5cc 0 82px,#cae8c7 0 83px,#e9f5cd 0 84px,#dcefc8 0 85px,#f3fad4 0 86px,#eaf6cd 0 87px,#e3f3c9 0 88px,#e7f4cb 0 89px,#e9f5cc 0 90px,#eff8d0 0 91px,#edf7cf 0 92px,#f3fad4 0 93px,#f0f8d1 0 94px,#eaf6cd 0 95px,#e6f4cb 0 96px,#f1f9d2 0 97px,#def0c8 0 98px,#d5edc7 0 99px,#e6f4cb 0 101px,#c7e7c7 0 102px,#d1ebc7 0 103px,#c9e8c7 0 104px,#d3ecc7 0 105px,#e6f4cb 0 106px,#dcf0c8 0 107px,#cde9c7 0 108px,#e9f5cd 0 109px,#dcf0c8 0 110px,#ceeac7 0 111px,#ddf0c8 0 112px,#e8f4cc 0 113px,#ceeac7 0 114px,#e2f2c8 0 115px,#d2ebc7 0 116px,#bde3c6 0 117px,#d7edc7 0 118px,#c2e5c7 0 119px,#ebf6ce 0 120px,#eaf6cd 0 121px,#ddf0c8 0 122px,#c4e6c7 0 123px,#b3dec6 0 124px,#e5f3ca 0 125px,#ceeac7 0 126px,#e2f2c8 0 127px,#d9eec8 0 128px,#cfeac7 0 129px,#b0dcc7 0 130px,#abd8c8 0 131px,#95c9cb 0 132px,#acd9c8 0 133px,#8bbfcc 0 134px,#84b4cc 0 135px,#90c6cc 0 136px,#88bbcc 0 137px,#8bbfcc 0 138px,#88bacc 0 139px,#79a4cc 0 140px,#7fadcc 0 141px,#6078b0 0 142px,#7297c7 0 143px,#6c8dc3 0 144px,#6e91c5 0 145px,#6682bb 0 146px,#5e75ad 0 147px,#6b8bc2 0 148px,#5f77af 0 149px,#6078b0 0 150px,#7094c6 0 151px,#627cb5 0 152px,#576aa0 0 153px,#6079b1 0 154px,#596da4 0 155px,#6989c1 0 156px,#627cb4 0 157px,#5f77af 0 158px,#749cc9 0 159px,#5d73aa 0 160px,#6d8fc4 0 161px,#7398c8 0 162px,#617bb3 0 163px,#6b8bc2 0 164px,#637eb7 0 165px,#6d8fc4 0 166px,#6b8bc2 0 167px,#6f92c5 0 168px,#647fb8 0 169px,#6f92c5 0 170px,#5d73ab 0 171px,#7093c6 0 172px,#6079b1 0 173px,#6b8bc2 0 174px,#617bb3 0 175px,#7399c8 0 176px,#779fcb 0 177px,#6078b0 0 178px,#6c8ec3 0 179px,#6886c0 0 180px,#5d74ac 0 181px,#7298c8 0 182px,#6b8bc2 0 183px,#647fb8 0 184px,#6988c1 0 185px,#627cb5 0 186px,#5a6fa6 0 187px,#6e90c4 0 188px,#6987c1 0 189px,#5d74ab 0 190px,#6987c0 0 191px,#5b70a7 0 192px,#5e75ad 0 193px,#6f93c5 0 194px,#7094c6 0 195px,#6887c0 0 196px,#5d74ab 0 197px,#5f77af 0 199px,#5f76ae 0 200px,#617ab2 0 201px,#617ab3 0 202px,#55669c 0 203px,#6988c1 0 204px,#586ba2 0 205px,#7197c7 0 206px,#596ca3 0 207px,#5d73ab 0 208px,#7399c8 0 209px,#526297 0 210px,#5b70a7 0 211px,#627cb4 0 212px,#7094c6 0 213px,#6079b1 0 214px,#546499 0 215px,#6a8ac2 0 216px)"></div>
<div class="hm" style="left:84.00px;top:0;width:10.80px;height:216px;background:linear-gradient(#7da9cc 0 1px,#6886c0 0 2px,#6e90c4 0 3px,#6987c0 0 4px,#6e90c4 0 5px,#7195c7 0 6px,#6d90c4 0 7px,#617ab3 0 8px,#7399c8 0 9px,#5c72a9 0 10px,#7196c7 0 11px,#77a1cc 0 12px,#7297c7 0 13px,#6d8ec4 0 14px,#79a4cc 0 15px,#6e90c4 0 16px,#8dc2cc 0 17px,#87bacc 0 18px,#759dca 0 19px,#83b2cc 0 20px,#8cc1cc 0 21px,#7eabcc 0 22px,#79a3cc 0 23px,#87b9cc 0 24px,#9dcfca 0 25px,#8cc1cc 0 26px,#8dc2cc 0 27px,#84b4cc 0 28px,#81b0cc 0 29px,#99ccca 0 30px,#abd8c8 0 31px,#a6d5c8 0 32px,#92c7cb 0 33px,#bae2c6 0 34px,#94c8cb 0 35px,#e2f2c8 0 36px,#abd8c8 0 37px,#cae8c7 0 38px,#b3dec6 0 39px,#a4d3c9 0 40px,#d7eec8 0 41px,#bde3c6 0 42px,#b8e1c6 0 43px,#c3e5c7 0 44px,#d4ecc7 0 45px,#cbe9c7 0 46px,#ebf6ce 0 47px,#9bcdca 0 48px,#cbe9c7 0 49px,#d3ecc7 0 50px,#e1f2c8 0 51px,#bae2c6 0 52px,#e1f2c8 0 53px,#acd9c8 0 54px,#b7e0c6 0 55px,#c5e6c7 0 56px,#b5dfc6 0 57px,#e0f1c8 0 58px,#d4ecc7 0 59px,#e3f2c9 0 60px,#e2f2c8 0 61px,#d5edc7 0 62px,#d7edc7 0 63px,#c0e4c6 0 64px,#f4fad4 0 65px,#e2f2c8 0 66px,#d8eec8 0 67px,#e6f4ca 0 68px,#d6edc7 0 69px,#cae8c7 0 70px,#c8e7c7 0 71px,#d9eec8 0 72px,#dbefc8 0 73px,#e2f2c8 0 74px,#eaf6cd 0 75px,#e2f2c8 0 76px,#ecf6ce 0 77px,#e4f3c9 0 78px,#cde9c7 0 79px,#d6edc7 0 80px,#d5edc7 0 81px,#e4f3c9 0 82px,#d0ebc7 0 83px,#e3f3c9 0 84px,#ceeac7 0 85px,#c9e8c7 0 86px,#c6e6c7 0 87px,#b9e1c6 0 88px,#e2f2c8 0 89px,#dff1c8 0 90px,#edf7cf 0 91px,#dbefc8 0 92px,#b2ddc7 0 93px,#def0c8 0 94px,#f1f9d2 0 95px,#e7f4cb 0 96px,#eff8d0 0 97px,#c9e8c7 0 98px,#dbefc8 0 99px,#dcefc8 0 100px,#bde3c6 0 101px,#e6f4ca 0 102px,#e8f5cc 0 103px,#b4dfc6 0 104px,#e1f1c8 0 105px,#e9f5cd 0 106px,#eef7d0 0 107px,#edf7d0 0 108px,#f4fad4 0 109px,#d9eec8 0 110px,#d5ecc7 0 111px,#d1ebc7 0 112px,#e6f4cb 0 115px,#bce2c6 0 116px,#e8f5cc 0 117px,#dff1c8 0 118px,#cfeac7 0 119px,#d7eec8 0 120px,#e3f3c9 0 121px,#c9e8c7 0 122px,#bee3c6 0 123px,#d1ebc7 0 124px,#dbefc8 0 125px,#d7eec8 0 126px,#e3f3c9 0 127px,#cfeac7 0 129px,#b6e0c6 0 130px,#96cacb 0 131px,#90c5cc 0 132px,#9fd0c9 0 133px,#8bc0cc 0 134px,#87bacc 0 135px,#86b8cc 0 136px,#8abdcc 0 137px,#80aecc 0 138px,#7eabcc 0 139px,#78a3cc 0 140px,#7094c6 0 141px,#6a89c1 0 142px,#6784bd 0 143px,#7297c7 0 144px,#6c8cc3 0 145px,#6989c1 0 146px,#7094c6 0 147px,#5d73aa 0 148px,#637eb7 0 149px,#6683bc 0 150px,#6a8ac2 0 151px,#596da4 0 152px,#6988c1 0 153px,#516094 0 154px,#5f76ae 0 155px,#4c5a8d 0 156px,#6988c1 0 157px,#627cb5 0 158px,#6f92c5 0 159px,#627cb5 0 160px,#5f77b0 0 161px,#6c8cc3 0 162px,#586ba1 0 163px,#6581ba 0 164px,#637db6 0 165px,#56689e 0 166px,#6c8cc3 0 167px,#6784be 0 168px,#5f78b0 0 169px,#627cb5 0 170px,#6887c0 0 171px,#6c8cc3 0 172px,#5f77af 0 173px,#576aa0 0 174px,#6987c0 0 175px,#5e76ae 0 176px,#6886c0 0 177px,#6078b1 0 178px,#6581ba 0 179px,#5e75ad 0 180px,#56689e 0 181px,#515f94 0 182px,#6885bf 0 183px,#4f5d91 0 184px,#54649a 0 185px,#5b70a7 0 186px,#5e74ac 0 187px,#5e75ac 0 188px,#5f76ae 0 189px,#5f77af 0 190px,#637eb7 0 191px,#586ca2 0 192px,#56689e 0 193px,#54659b 0 194px,#6988c1 0 195px,#5e75ad 0 196px,#526095 0 197px,#6c8dc3 0 198px,#586ba1 0 199px,#7095c6 0 200px,#576aa0 0 201px,#596da3 0 202px,#4d5c8f 0 203px,#637db6 0 204px,#6682bc 0 205px,#6c8dc3 0 206px,#6988c1 0 207px,#54649a 0 208px,#6785be 0 209px,#627cb4 0 210px,#596ca3 0 211px,#6987c1 0 212px,#6c8dc3 0 213px,#6079b1 0 214px,#526297 0 215px,#56689e 0 216px)"></div>
</div>
<div class="hmc" style="left:152.40px;top:57.80px;width:116.05px;height:216px">
<div class="hm" style="left:0.00px;top:0;width:10.85px;height:216px;background:linear-gradient(#edf7cf 0 1px,#f4fad4 0 2px,#e8f5cc 0 4px,#e6f4cb 0 5px,#ddf0c8 0 7px,#c7e7c7 0 8px,#bee3c6 0 9px,#cce9c7 0 10px,#d3ecc7 0 11px,#d4ecc7 0 12px,#cce9c7 0 13px,#d8eec8 0 14px,#c5e6c7 0 15px,#cbe8c7 0 16px,#e2f2c8 0 17px,#b7e0c6 0 18px,#b5dfc6 0 19px,#acd9c8 0 20px,#94c8cb 0 21px,#bde3c6 0 22px,#9fd0c9 0 23px,#a0d1c9 0 24px,#8dc3cc 0 25px,#a7d6c8 0 26px,#8cc1cc 0 27px,#84b5cc 0 28px,#7ba7cc 0 29px,#78a2cc 0 30px,#82b2cc 0 31px,#749bc9 0 32px,#84b5cc 0 33px,#86b8cc 0 34px,#80aecc 0 35px,#83b4cc 0 36px,#7aa5cc 0 37px,#89bccc 0 38px,#749ac9 0 39px,#6987c0 0 40px,#6887c0 0 41px,#6d8fc4 0 42px,#5e75ad 0 43px,#739ac8 0 44px,#6a8ac2 0 45px,#7195c6 0 46px,#7195c7 0 47px,#6a89c1 0 48px,#526196 0 49px,#5b70a7 0 50px,#627bb4 0 51px,#536398 0 52px,#586ba2 0 53px,#55669c 0 54px,#536399 0 55px,#55669c 0 56px,#55659b 0 57px,#637eb7 0 58px,#55659b 0 59px,#4d5b8e 0 60px,#424f7d 0 61px,#576aa0 0 62px,#5a6fa5 0 63px,#586ba1 0 64px,#4c5a8c 0 65px,#4f5d91 0 66px,#505f93 0 67px,#55659b 0 68px,#576aa0 0 69px,#495789 0 70px,#4d5c8f 0 71px,#5b70a7 0 72px,#57699f 0 73px,#536398 0 74px,#586ca2 0 75px,#546499 0 76px,#4c5a8c 0 77px,#4f5e91 0 78px,#516095 0 79px,#3b4772 0 80px,#475484 0 81px,#445180 0 82px,#526297 0 83px,#3d4a75 0 84px,#5d74ac 0 85px,#536398 0 86px,#505f93 0 87px,#3e4b77 0 88px,#56679d 0 89px,#55679c 0 90px,#586ba1 0 91px,#6682bc 0 92px,#485686 0 93px,#54659b 0 94px,#576aa0 0 95px,#495788 0 96px,#516095 0 97px,#495788 0 98px,#4c5a8c 0 99px,#455382 0 100px,#57699f 0 101px,#505e92 0 102px,#586ba2 0 103px,#455382 0 104px,#5a6fa6 0 105px,#526095 0 106px,#4f5d91 0 107px,#546499 0 108px,#475585 0 109px,#516095 0 110px,#414d7a 0 111px,#4f5d91 0 112px,#4e5d90 0 113px,#576aa0 0 114px,#4d5c8f 0 115px,#505f93 0 116px,#56689e 0 117px,#586ba2 0 118px,#536398 0 119px,#5c73aa 0 120px,#4f5d91 0 121px,#5c71a8 0 122px,#637db6 0 123px,#6480b9 0 124px,#5b70a7 0 125px,#5e75ac 0 126px,#586ba1 0 127px,#516095 0 128px,#4c5b8d 0 129px,#5d74ac 0 130px,#617ab2 0 131px,#6f93c5 0 132px,#6480b9 0 133px,#627bb4 0 134px,#637db6 0 135px,#89bccc 0 136px,#7ba6cc 0 137px,#7ba7cc 0 138px,#86b7cc 0 139px,#a0d0c9 0 140px,#98cbcb 0 141px,#8bbfcc 0 142px,#8abdcc 0 143px,#c0e4c6 0 144px,#bde3c6 0 145px,#99ccca 0 146px,#c1e5c7 0 147px,#95c9cb 0 148px,#b2ddc7 0 149px,#a7d5c8 0 150px,#c8e7c7 0 151px,#c4e6c7 0 152px,#9ccdca 0 153px,#d3ecc7 0 154px,#a1d1c9 0 155px,#ddf0c8 0 157px,#c8e7c7 0 158px,#d8eec8 0 159px,#c3e5c7 0 160px,#cbe8c7 0 161px,#daefc8 0 162px,#d4ecc7 0 164px,#edf7cf 0 165px,#bce2c6 0 166px,#e3f3c9 0 167px,#e0f1c8 0 168px,#e8f5cc 0 169px,#ddf0c8 0 170px,#e1f1c8 0 171px,#eff8d0 0 172px,#cfeac7 0 173px,#f4fad4 0 174px,#e1f2c8 0 175px,#f2f9d3 0 176px,#e7f4cc 0 177px,#c7e7c7 0 178px,#eef7d0 0 179px,#e6f4ca 0 180px,#e7f4cc 0 181px,#d9eec8 0 182px,#edf7cf 0 184px,#d9eec8 0 185px,#e9f5cd 0 186px,#dbefc8 0 187px,#e1f1c8 0 188px,#e9f5cd 0 190px,#e4f3c9 0 191px,#def0c8 0 192px,#e9f5cc 0 193px,#d3ecc7 0 194px,#cfeac7 0 195px,#edf7d0 0 196px,#c5e6c7 0 197px,#f4fad4 0 198px,#daefc8 0 199px,#edf7cf 0 200px,#def1c8 0 201px,#e6f4ca 0 202px,#e5f4ca 0 203px,#f2f9d3 0 204px,#e8f5cc 0 205px,#ddf0c8 0 206px,#d0ebc7 0 207px,#e3f2c9 0 208px,#ecf7cf 0 209px,#e6f4ca 0 210px,#ebf6ce 0 211px,#cce9c7 0 212px,#e7f4cb 0 213px,#def0c8 0 214px,#e9f5cd 0 215px,#eff8d1 0 216px)"></div>
<div class="hm" style="left:10.55px;top:0;width:10.85px;height:216px;background:linear-gradient(#a3d2c9 0 1px,#a6d5c8 0 2px,#cbe9c7 0 3px,#acd9c7 0 4px,#d7eec8 0 5px,#b5e0c6 0 6px,#cae8c7 0 7px,#c9e8c7 0 8px,#b6e0c6 0 9px,#c0e4c6 0 10px,#b6e0c6 0 11px,#d9eec8 0 12px,#bde3c6 0 13px,#afdbc7 0 14px,#cbe9c7 0 15px,#c5e6c7 0 16px,#e8f5cc 0 17px,#e5f3ca 0 18px,#ecf6ce 0 19px,#e0f1c8 0 20px,#daefc8 0 21px,#cae8c7 0 22px,#cde9c7 0 23px,#d9eec8 0 24px,#e4f3c9 0 25px,#e3f3c9 0 26px,#e8f5cc 0 27px,#d5edc7 0 28px,#f1f9d2 0 29px,#d2ebc7 0 30px,#f3f9d3 0 31px,#ecf6ce 0 32px,#e7f4cb 0 33px,#eaf5cd 0 34px,#c8e7c7 0 35px,#e5f3ca 0 36px,#d1ebc7 0 37px,#dbefc8 0 38px,#eaf5cd 0 39px,#d6edc7 0 41px,#e5f4ca 0 42px,#e1f2c8 0 43px,#ecf6cf 0 44px,#e1f2c8 0 45px,#daefc8 0 46px,#e5f3ca 0 47px,#c6e7c7 0 48px,#b9e1c6 0 49px,#d1ebc7 0 50px,#c2e5c7 0 51px,#b9e1c6 0 52px,#d8eec8 0 53px,#d2ebc7 0 54px,#a9d7c8 0 55px,#c4e6c7 0 56px,#9bcdca 0 57px,#bbe2c6 0 58px,#8bc0cc 0 59px,#bde3c6 0 60px,#8cc2cc 0 61px,#8abecc 0 62px,#addac7 0 63px,#8cc1cc 0 64px,#aedac7 0 65px,#b9e1c6 0 66px,#88bbcc 0 67px,#9bcdca 0 68px,#a4d3c9 0 69px,#bde3c6 0 70px,#8cc1cc 0 71px,#94c8cb 0 72px,#a5d4c8 0 73px,#a7d6c8 0 74px,#aad7c8 0 75px,#9dceca 0 76px,#82b1cc 0 77px,#7ba7cc 0 78px,#8bc0cc 0 79px,#95c9cb 0 80px,#87bacc 0 81px,#81afcc 0 82px,#7fadcc 0 83px,#98cbcb 0 84px,#87bacc 0 85px,#86b8cc 0 86px,#82b2cc 0 87px,#78a2cc 0 88px,#7eabcc 0 89px,#78a1cc 0 90px,#8ec4cc 0 91px,#77a0cb 0 92px,#80afcc 0 93px,#82b2cc 0 94px,#77a0cb 0 95px,#81b0cc 0 96px,#88bbcc 0 97px,#86b7cc 0 98px,#79a3cc 0 99px,#7da9cc 0 101px,#759cc9 0 102px,#8cc0cc 0 103px,#759dca 0 104px,#79a3cc 0 105px,#7aa5cc 0 106px,#6e90c4 0 107px,#6a89c1 0 108px,#7ba6cc 0 109px,#77a1cb 0 110px,#739ac8 0 111px,#749bc9 0 112px,#739ac9 0 113px,#79a4cc 0 114px,#6d8fc4 0 115px,#7ba6cc 0 116px,#6988c1 0 117px,#7298c8 0 118px,#6b8bc2 0 119px,#6683bc 0 120px,#749bc9 0 121px,#6f92c5 0 122px,#6987c1 0 123px,#6682bc 0 124px,#759eca 0 125px,#6b8bc2 0 126px,#7196c7 0 127px,#6683bc 0 128px,#627cb4 0 129px,#6a8ac2 0 132px,#7eabcc 0 133px,#637eb7 0 134px,#6078b0 0 135px,#6989c1 0 136px,#6f93c6 0 137px,#7297c7 0 138px,#6d8fc4 0 139px,#6078b0 0 140px,#6e91c5 0 141px,#627bb4 0 142px,#79a4cc 0 143px,#78a3cc 0 144px,#7094c6 0 145px,#6e91c5 0 146px,#79a3cc 0 147px,#7399c8 0 148px,#6988c1 0 149px,#77a0cb 0 150px,#769fcb 0 151px,#7aa6cc 0 152px,#6e91c5 0 153px,#6d8ec3 0 154px,#7094c6 0 155px,#83b3cc 0 156px,#6a89c1 0 157px,#77a0cb 0 158px,#81b0cc 0 159px,#6a89c1 0 160px,#7195c7 0 161px,#81b0cc 0 162px,#78a1cc 0 163px,#759dca 0 164px,#78a2cc 0 165px,#7297c7 0 166px,#749ac9 0 168px,#82b2cc 0 169px,#6079b1 0 170px,#7aa6cc 0 171px,#80afcc 0 172px,#749cc9 0 173px,#77a1cc 0 174px,#79a4cc 0 175px,#7ca8cc 0 176px,#6c8cc3 0 177px,#769fcb 0 178px,#86b7cc 0 179px,#78a2cc 0 180px,#80afcc 0 181px,#7fadcc 0 182px,#7ba7cc 0 183px,#759dca 0 184px,#7ca8cc 0 185px,#79a3cc 0 186px,#78a1cc 0 187px,#96cacb 0 188px,#79a4cc 0 189px,#8bc0cc 0 190px,#7eabcc 0 191px,#8fc5cc 0 192px,#88bacc 0 193px,#8bbfcc 0 194px,#ceeac7 0 195px,#bce2c6 0 196px,#a8d6c8 0 197px,#8dc3cc 0 198px,#c5e6c7 0 199px,#9accca 0 200px,#88bbcc 0 201px,#92c7cb 0 202px,#8cc1cc 0 203px,#b0dcc7 0 204px,#a3d3c9 0 205px,#a9d7c8 0 206px,#9acdca 0 207px,#92c7cb 0 208px,#b4dfc6 0 209px,#acd9c7 0 210px,#b0dcc7 0 211px,#aad8c8 0 212px,#ddf0c8 0 213px,#bce2c6 0 214px,#bae1c6 0 215px,#c0e4c6 0 216px)"></div>
<div class="hm" style="left:21.10px;top:0;width:10.85px;height:216px;background:linear-gradient(#94c8cb 0 1px,#b6e0c6 0 2px,#98cbcb 0 3px,#9accca 0 4px,#90c6cc 0 5px,#bce2c6 0 6px,#9accca 0 7px,#96c9cb 0 8px,#94c8cb 0 9px,#91c6cc 0 10px,#95c9cb 0 11px,#bae1c6 0 12px,#acd9c8 0 13px,#abd8c8 0 14px,#b9e1c6 0 15px,#98cbcb 0 16px,#d3ecc7 0 17px,#def0c8 0 18px,#d5edc7 0 19px,#e0f1c8 0 20px,#bde3c6 0 21px,#ceeac7 0 22px,#b8e1c6 0 23px,#d3ecc7 0 24px,#dff1c8 0 25px,#c2e5c7 0 26px,#e6f4ca 0 27px,#d7edc7 0 28px,#dcf0c8 0 29px,#d5edc7 0 30px,#d1ebc7 0 31px,#e9f5cc 0 32px,#def1c8 0 33px,#e3f2c8 0 34px,#e9f5cd 0 36px,#e5f3ca 0 37px,#e1f2c8 0 38px,#def1c8 0 39px,#cde9c7 0 40px,#e3f2c9 0 42px,#d2ecc7 0 43px,#ecf6cf 0 44px,#e9f5cd 0 45px,#d7eec8 0 46px,#f0f8d1 0 47px,#e4f3c9 0 48px,#e5f3ca 0 50px,#d6edc7 0 51px,#e4f3ca 0 52px,#e6f4cb 0 53px,#e8f5cc 0 54px,#d0ebc7 0 55px,#dff1c8 0 56px,#c2e5c7 0 57px,#eff8d1 0 58px,#def0c8 0 59px,#d5edc7 0 60px,#e9f5cd 0 61px,#d6edc7 0 62px,#cae8c7 0 63px,#cfeac7 0 64px,#e4f3c9 0 65px,#c4e6c7 0 66px,#b6e0c6 0 67px,#e3f2c9 0 68px,#c1e5c7 0 69px,#c2e5c7 0 70px,#b7e0c6 0 71px,#c6e6c7 0 72px,#c7e7c7 0 73px,#d3ecc7 0 74px,#abd8c8 0 75px,#bee3c6 0 76px,#d3ecc7 0 77px,#bbe2c6 0 78px,#a6d5c8 0 79px,#c3e5c7 0 80px,#b4dfc6 0 81px,#b0dcc7 0 82px,#b3dec7 0 83px,#e0f1c8 0 84px,#b5dfc6 0 85px,#b3dec6 0 86px,#c4e6c7 0 87px,#bee3c6 0 88px,#9fd0c9 0 89px,#b6e0c6 0 90px,#d1ebc7 0 91px,#c5e6c7 0 92px,#a5d4c8 0 93px,#d0ebc7 0 94px,#bfe4c6 0 95px,#88bbcc 0 96px,#9ecfca 0 97px,#8ec3cc 0 98px,#8fc5cc 0 99px,#9fd0c9 0 100px,#bfe4c6 0 101px,#8cc0cc 0 102px,#8bc0cc 0 103px,#8cc1cc 0 104px,#bde3c6 0 105px,#88bbcc 0 106px,#80aecc 0 107px,#97cbcb 0 108px,#93c7cb 0 109px,#83b3cc 0 110px,#89bccc 0 111px,#85b6cc 0 112px,#92c7cb 0 113px,#84b5cc 0 114px,#88bbcc 0 115px,#9accca 0 116px,#87bacc 0 117px,#6d8fc4 0 118px,#78a2cc 0 119px,#77a0cb 0 120px,#759cc9 0 121px,#6b8bc2 0 122px,#6f93c6 0 123px,#769fcb 0 124px,#7298c8 0 125px,#81afcc 0 126px,#7297c7 0 127px,#6988c1 0 128px,#81b0cc 0 129px,#6e90c4 0 130px,#6988c1 0 131px,#6784be 0 132px,#739ac9 0 133px,#7297c7 0 134px,#759dca 0 135px,#749bc9 0 136px,#6c8dc3 0 137px,#5f76ae 0 138px,#759cc9 0 139px,#5e76ae 0 140px,#6a8ac2 0 141px,#6e90c4 0 142px,#516095 0 143px,#86b8cc 0 144px,#6e90c4 0 145px,#6785bf 0 146px,#55669c 0 147px,#586ba2 0 148px,#56689e 0 149px,#6580ba 0 150px,#5e76ad 0 151px,#5e75ad 0 152px,#5a6ea5 0 153px,#637eb7 0 154px,#6b8bc2 0 155px,#6b8cc2 0 156px,#7196c7 0 157px,#586ba1 0 158px,#749ac9 0 159px,#78a2cc 0 160px,#647fb8 0 161px,#6d8fc4 0 162px,#6988c1 0 163px,#576aa0 0 164px,#6988c1 0 165px,#6987c1 0 166px,#759eca 0 167px,#6d8fc4 0 168px,#7095c6 0 169px,#6a89c1 0 170px,#4f5d91 0 171px,#7399c8 0 172px,#7095c6 0 173px,#6581bb 0 174px,#6784be 0 175px,#6e90c4 0 176px,#6a8ac2 0 177px,#6683bd 0 178px,#6c8cc3 0 179px,#6581bb 0 180px,#6784be 0 181px,#6683bd 0 182px,#749ac9 0 183px,#6c8cc3 0 184px,#7297c7 0 185px,#6b8bc2 0 186px,#617bb3 0 187px,#77a0cb 0 188px,#6a8ac2 0 189px,#5e75ad 0 190px,#6987c1 0 191px,#77a0cb 0 192px,#7297c7 0 193px,#6c8dc3 0 194px,#77a0cb 0 195px,#759cca 0 196px,#6a89c1 0 197px,#749bc9 0 198px,#80afcc 0 199px,#749bc9 0 200px,#7297c7 0 201px,#7298c8 0 202px,#759cca 0 203px,#85b6cc 0 204px,#80afcc 0 205px,#7daacc 0 206px,#7da9cc 0 207px,#89bccc 0 208px,#7298c8 0 209px,#7ba7cc 0 210px,#7aa5cc 0 211px,#759cca 0 212px,#9bcdca 0 213px,#6b8bc2 0 214px,#7fadcc 0 215px,#759dca 0 216px)"></div>
<div class="hm" style="left:31.65px;top:0;width:10.85px;height:216px;background:linear-gradient(#749bc9 0 1px,#6d8ec4 0 2px,#7195c7 0 3px,#7298c8 0 4px,#84b5cc 0 5px,#80aecc 0 6px,#7196c7 0 7px,#6b8bc2 0 8px,#77a0cb 0 9px,#7399c8 0 10px,#759dca 0 11px,#749bc9 0 12px,#769fcb 0 13px,#83b3cc 0 14px,#77a0cb 0 15px,#7daacc 0 16px,#8abecc 0 17px,#96cacb 0 18px,#95c9cb 0 19px,#9bcdca 0 21px,#77a1cc 0 22px,#7da9cc 0 23px,#94c8cb 0 24px,#88bbcc 0 25px,#a3d3c9 0 26px,#cfeac7 0 27px,#b1dcc7 0 28px,#9fd0ca 0 29px,#8cc1cc 0 30px,#b5dfc6 0 31px,#cce9c7 0 32px,#c0e4c6 0 33px,#cfeac7 0 34px,#d2ecc7 0 35px,#c1e5c7 0 36px,#cae8c7 0 37px,#d6edc7 0 38px,#d5edc7 0 39px,#c9e8c7 0 40px,#c6e7c7 0 41px,#acd9c8 0 42px,#c8e7c7 0 43px,#aedac7 0 44px,#e4f3ca 0 45px,#bee3c6 0 46px,#e9f5cd 0 47px,#d6edc7 0 48px,#d1ebc7 0 49px,#d0ebc7 0 50px,#bce2c6 0 51px,#dff1c8 0 52px,#eaf6ce 0 53px,#d2ebc7 0 54px,#cae8c7 0 55px,#daefc8 0 56px,#b9e1c6 0 57px,#b4dec6 0 58px,#e7f4cb 0 59px,#d8eec8 0 60px,#bde3c6 0 61px,#ecf7cf 0 62px,#d4ecc7 0 63px,#e2f2c8 0 64px,#eaf5cd 0 65px,#c0e4c6 0 66px,#c5e6c7 0 67px,#e6f4cb 0 68px,#d6edc7 0 69px,#c5e6c7 0 70px,#b9e1c6 0 71px,#c3e5c7 0 72px,#d9eec8 0 73px,#ecf6cf 0 74px,#d6edc7 0 75px,#d4ecc7 0 76px,#f3fad3 0 77px,#a4d3c9 0 78px,#ceeac7 0 79px,#e2f2c8 0 80px,#e7f4cb 0 81px,#c7e7c7 0 82px,#c2e5c7 0 83px,#d4ecc7 0 84px,#d2ebc7 0 85px,#daefc8 0 86px,#e4f3ca 0 87px,#c5e6c7 0 88px,#d2ebc7 0 89px,#bde3c6 0 90px,#dff1c8 0 91px,#d0ebc7 0 92px,#bfe4c6 0 93px,#c4e6c7 0 94px,#c3e5c7 0 95px,#c0e4c6 0 96px,#daefc8 0 97px,#ceeac7 0 99px,#c1e4c6 0 100px,#c5e6c7 0 101px,#ceeac7 0 102px,#e2f2c8 0 103px,#def0c8 0 104px,#c9e8c7 0 105px,#b7e1c6 0 106px,#b4dfc6 0 107px,#d8eec8 0 108px,#c6e7c7 0 109px,#acd9c7 0 110px,#b7e1c6 0 111px,#acd9c7 0 112px,#b9e1c6 0 113px,#b7e0c6 0 114px,#bbe2c6 0 115px,#98cbca 0 116px,#92c7cb 0 117px,#b8e1c6 0 118px,#a8d6c8 0 119px,#99ccca 0 120px,#97cbcb 0 121px,#98cbca 0 122px,#7eabcc 0 123px,#8dc3cc 0 124px,#98cbcb 0 125px,#7eabcc 0 126px,#87b9cc 0 127px,#7eabcc 0 128px,#81b0cc 0 129px,#87b9cc 0 130px,#86b7cc 0 131px,#7eaccc 0 132px,#7094c6 0 133px,#83b3cc 0 134px,#6c8cc3 0 135px,#77a0cb 0 136px,#84b5cc 0 137px,#769fcb 0 138px,#7298c8 0 139px,#78a1cc 0 140px,#85b7cc 0 141px,#6e91c5 0 142px,#7298c8 0 143px,#739ac9 0 144px,#80aecc 0 145px,#6e90c4 0 146px,#7196c7 0 147px,#769eca 0 148px,#6f93c6 0 149px,#6988c1 0 150px,#6e91c5 0 151px,#749bc9 0 152px,#5f77ae 0 153px,#7399c8 0 154px,#6581ba 0 155px,#627cb5 0 156px,#57699f 0 157px,#5c72a9 0 158px,#6a89c1 0 159px,#617bb4 0 160px,#5d74ab 0 161px,#6f93c5 0 162px,#55659b 0 163px,#596da3 0 164px,#617ab2 0 165px,#6682bc 0 166px,#5b70a7 0 167px,#5e75ad 0 168px,#6c8dc3 0 169px,#596da3 0 170px,#4c5a8c 0 171px,#6b8bc2 0 172px,#596ea4 0 173px,#6a8ac2 0 174px,#6480b9 0 175px,#5e75ac 0 176px,#445180 0 177px,#5c71a8 0 178px,#637eb7 0 179px,#5a6ea4 0 180px,#617ab3 0 181px,#5a6fa6 0 183px,#6480b9 0 184px,#6784be 0 185px,#637eb7 0 186px,#4f5d91 0 187px,#637eb7 0 188px,#536297 0 189px,#6d8fc4 0 190px,#5d73aa 0 191px,#6580ba 0 192px,#6079b1 0 193px,#5d73ab 0 194px,#6f92c5 0 195px,#6a8ac2 0 197px,#6581ba 0 198px,#6d8fc4 0 199px,#6d8ec3 0 200px,#5d74ac 0 201px,#6886bf 0 202px,#55669c 0 203px,#6d8fc4 0 204px,#5e76ad 0 205px,#6886c0 0 206px,#6b8cc3 0 207px,#627db5 0 208px,#6f93c5 0 209px,#6480b9 0 210px,#6683bc 0 211px,#586ba2 0 212px,#7094c6 0 213px,#54659a 0 214px,#6480b9 0 215px,#7298c8 0 216px)"></div>
<div class="hm" style="left:42.20px;top:0;width:10.85px;height:216px;background:linear-gradient(#78a2cc 0 1px,#6078b1 0 2px,#769eca 0 3px,#637db6 0 4px,#627db5 0 5px,#6582bb 0 7px,#6887c0 0 8px,#627bb4 0 9px,#6988c1 0 10px,#6a8ac2 0 11px,#6a89c1 0 12px,#6480b9 0 13px,#6a89c1 0 14px,#647fb9 0 15px,#7094c6 0 16px,#759cca 0 17px,#7ba7cc 0 18px,#7196c7 0 19px,#6b8cc3 0 20px,#6d8ec3 0 21px,#739ac8 0 22px,#6b8ac2 0 23px,#749cc9 0 24px,#6e90c4 0 25px,#6f92c5 0 26px,#7297c7 0 27px,#82b2cc 0 28px,#7eabcc 0 29px,#6e91c5 0 30px,#7ba6cc 0 31px,#6b8cc3 0 32px,#7ca7cc 0 33px,#7eaccc 0 34px,#6e91c5 0 35px,#77a0cb 0 36px,#7298c8 0 37px,#81b0cc 0 38px,#88bbcc 0 39px,#7ba7cc 0 40px,#96cacb 0 41px,#8cc1cc 0 42px,#8dc2cc 0 43px,#96c9cb 0 44px,#85b5cc 0 45px,#8dc2cc 0 46px,#9bcdca 0 47px,#a1d1c9 0 48px,#8ec4cc 0 49px,#d6edc7 0 50px,#a5d4c9 0 51px,#a7d5c8 0 52px,#cae8c7 0 53px,#97cacb 0 54px,#a6d5c8 0 55px,#93c7cb 0 56px,#95c9cb 0 57px,#a3d3c9 0 58px,#b2dec7 0 59px,#cfeac7 0 60px,#b3dec6 0 61px,#c2e5c7 0 62px,#b6e0c6 0 63px,#cbe9c7 0 64px,#90c5cc 0 65px,#ddf0c8 0 66px,#a1d1c9 0 67px,#d8eec8 0 68px,#d1ebc7 0 69px,#b0dcc7 0 70px,#b7e0c6 0 71px,#d4ecc7 0 72px,#cbe9c7 0 73px,#dbefc8 0 74px,#e3f3c9 0 75px,#c5e6c7 0 76px,#dff1c8 0 77px,#c9e8c7 0 78px,#b2ddc7 0 79px,#bce3c6 0 80px,#c6e7c7 0 81px,#9bcdca 0 82px,#afdbc7 0 83px,#c9e8c7 0 84px,#bae2c6 0 85px,#c0e4c6 0 86px,#eaf6ce 0 87px,#d4ecc7 0 89px,#9cceca 0 90px,#d5edc7 0 91px,#cce9c7 0 92px,#c5e6c7 0 93px,#bfe4c6 0 94px,#c3e5c7 0 95px,#9dcfca 0 96px,#bee3c6 0 97px,#9accca 0 98px,#bfe4c6 0 99px,#bce2c6 0 100px,#c6e7c7 0 101px,#bfe4c6 0 102px,#dff1c8 0 103px,#c2e5c7 0 104px,#d7edc7 0 105px,#cfeac7 0 106px,#a4d3c9 0 107px,#bbe2c6 0 108px,#b2ddc7 0 109px,#aad8c8 0 110px,#a5d4c8 0 111px,#b2ddc7 0 112px,#d5edc7 0 113px,#b3dec7 0 114px,#c6e7c7 0 115px,#cbe9c7 0 116px,#a1d1c9 0 117px,#a3d2c9 0 118px,#c7e7c7 0 119px,#abd8c8 0 120px,#b6e0c6 0 121px,#c9e8c7 0 122px,#b2ddc7 0 124px,#b5e0c6 0 125px,#c4e6c7 0 126px,#d4ecc7 0 127px,#bae1c6 0 128px,#b0dcc7 0 129px,#acd9c7 0 130px,#a9d7c8 0 131px,#a3d2c9 0 132px,#bbe2c6 0 133px,#a8d6c8 0 134px,#93c7cb 0 135px,#90c5cc 0 136px,#9ecfca 0 137px,#93c8cb 0 139px,#7aa5cc 0 140px,#b5e0c6 0 141px,#8dc2cc 0 142px,#7399c8 0 143px,#9cceca 0 144px,#b1ddc7 0 145px,#89bdcc 0 146px,#9bcdca 0 147px,#8dc2cc 0 148px,#85b6cc 0 149px,#7399c8 0 150px,#7ba7cc 0 151px,#7aa5cc 0 152px,#6d8fc4 0 153px,#769fcb 0 154px,#80afcc 0 155px,#769fcb 0 156px,#7298c8 0 157px,#749cc9 0 158px,#80aecc 0 159px,#749bc9 0 160px,#77a0cb 0 161px,#7ba6cc 0 162px,#7195c7 0 163px,#6f93c5 0 164px,#6d8ec4 0 165px,#5f77af 0 166px,#7297c7 0 167px,#6f93c6 0 168px,#769fcb 0 169px,#7298c8 0 170px,#6683bd 0 171px,#79a4cc 0 172px,#647fb8 0 173px,#759dca 0 174px,#6683bc 0 175px,#6d8fc4 0 176px,#5e76ae 0 177px,#6682bc 0 178px,#6988c1 0 179px,#627cb5 0 180px,#617ab2 0 181px,#54649a 0 182px,#6682bb 0 183px,#617ab3 0 184px,#617ab2 0 185px,#5f76ae 0 186px,#54659b 0 187px,#6078b0 0 188px,#6989c1 0 189px,#4c5a8c 0 190px,#505f93 0 191px,#5f76ae 0 192px,#6a8ac2 0 193px,#5d73ab 0 194px,#637eb6 0 195px,#759dca 0 196px,#5e75ac 0 197px,#6f91c5 0 198px,#6078b0 0 199px,#596da4 0 200px,#516095 0 201px,#6988c1 0 202px,#4c5b8d 0 203px,#5a6fa6 0 204px,#627bb4 0 205px,#5e76ad 0 206px,#4d5b8e 0 207px,#5a6fa6 0 208px,#617bb3 0 209px,#5c72aa 0 210px,#4f5d91 0 211px,#6f92c5 0 212px,#586ca2 0 213px,#6079b1 0 214px,#55669c 0 215px,#6c8dc3 0 216px)"></div>
<div class="hm" style="left:52.75px;top:0;width:10.85px;height:216px;background:linear-gradient(#6f92c5 0 1px,#6a8ac2 0 2px,#627cb4 0 3px,#749bc9 0 4px,#6885bf 0 5px,#6e91c5 0 6px,#5b70a7 0 7px,#6b8bc2 0 8px,#637eb6 0 9px,#6b8cc2 0 10px,#5b70a7 0 11px,#6d8fc4 0 12px,#7094c6 0 13px,#586ba1 0 14px,#6a89c1 0 15px,#6683bc 0 16px,#77a0cb 0 17px,#7297c7 0 18px,#83b2cc 0 19px,#7094c6 0 20px,#7399c8 0 21px,#7aa6cc 0 22px,#78a1cc 0 23px,#6a8ac2 0 24px,#6c8ec3 0 25px,#79a3cc 0 26px,#6582bb 0 27px,#7093c6 0 28px,#7195c7 0 29px,#6b8bc2 0 30px,#7aa4cc 0 31px,#7eaccc 0 32px,#769eca 0 33px,#6987c1 0 34px,#6886c0 0 35px,#7aa5cc 0 36px,#6a89c1 0 37px,#7398c8 0 38px,#6e91c5 0 39px,#6c8dc3 0 40px,#7093c6 0 41px,#769eca 0 42px,#759cca 0 43px,#7aa4cc 0 44px,#739ac8 0 45px,#6a89c1 0 46px,#84b4cc 0 47px,#6a8ac2 0 48px,#7aa5cc 0 49px,#7eabcc 0 50px,#7195c7 0 51px,#759dca 0 52px,#81afcc 0 53px,#7eaccc 0 54px,#7faccc 0 55px,#84b4cc 0 56px,#6e90c4 0 57px,#7298c8 0 58px,#6f93c5 0 59px,#7faecc 0 60px,#7ba7cc 0 61px,#7eaccc 0 62px,#7eabcc 0 63px,#8ec4cc 0 64px,#8abdcc 0 65px,#7aa5cc 0 66px,#9ecfca 0 67px,#b4dfc6 0 68px,#abd9c8 0 69px,#89bdcc 0 70px,#82b1cc 0 71px,#97cacb 0 72px,#99ccca 0 73px,#aad7c8 0 74px,#90c6cc 0 75px,#a8d6c8 0 76px,#a5d4c9 0 77px,#98cbca 0 78px,#8bbfcc 0 79px,#87b9cc 0 80px,#c7e7c7 0 81px,#a2d2c9 0 82px,#a6d5c8 0 83px,#a1d1c9 0 84px,#a4d3c9 0 85px,#acd9c8 0 86px,#bfe4c6 0 87px,#cbe8c7 0 88px,#def0c8 0 89px,#a9d7c8 0 90px,#c5e6c7 0 91px,#e2f2c8 0 92px,#afdbc7 0 93px,#ceeac7 0 94px,#ebf6ce 0 95px,#b4dfc6 0 96px,#e4f3ca 0 97px,#acd9c8 0 98px,#d4ecc7 0 99px,#daefc8 0 100px,#e3f3c9 0 101px,#cbe8c7 0 102px,#b9e1c6 0 103px,#cfeac7 0 104px,#e9f5cc 0 105px,#aad8c8 0 106px,#a5d4c9 0 107px,#bfe4c6 0 108px,#ddf0c8 0 109px,#daefc8 0 110px,#def0c8 0 111px,#c6e6c7 0 112px,#c0e4c6 0 113px,#e0f1c8 0 114px,#cde9c7 0 115px,#d3ecc7 0 116px,#c5e6c7 0 117px,#cbe9c7 0 118px,#9fd0c9 0 119px,#e1f2c8 0 120px,#c3e5c7 0 121px,#b4dec6 0 122px,#c8e7c7 0 124px,#e1f2c8 0 125px,#b8e1c6 0 126px,#d4ecc7 0 127px,#d3ecc7 0 128px,#cce9c7 0 129px,#d9eec8 0 130px,#daefc8 0 131px,#d1ebc7 0 132px,#acd9c7 0 133px,#cbe9c7 0 134px,#b3dec6 0 135px,#e3f2c8 0 136px,#e9f5cc 0 137px,#afdbc7 0 138px,#d3ecc7 0 139px,#e0f1c8 0 140px,#d1ebc7 0 141px,#bee3c6 0 142px,#dcf0c8 0 143px,#e7f4cb 0 144px,#cce9c7 0 145px,#d3ecc7 0 146px,#afdbc7 0 147px,#a9d7c8 0 148px,#b3dec7 0 149px,#b5dfc6 0 150px,#afdbc7 0 151px,#bde3c6 0 152px,#9ecfca 0 153px,#a1d1c9 0 154px,#a8d6c8 0 155px,#89bccc 0 156px,#759cc9 0 157px,#88bacc 0 158px,#84b5cc 0 159px,#759cca 0 160px,#7196c7 0 161px,#7faccc 0 162px,#7ca8cc 0 163px,#6e91c5 0 164px,#7195c7 0 165px,#6f93c5 0 166px,#84b4cc 0 167px,#7399c8 0 168px,#7196c7 0 169px,#749cc9 0 170px,#6d8fc4 0 171px,#6d90c4 0 172px,#7eabcc 0 173px,#7399c8 0 174px,#78a2cc 0 175px,#82b1cc 0 176px,#7298c8 0 177px,#6a89c1 0 178px,#7195c7 0 179px,#77a1cc 0 180px,#77a1cb 0 181px,#739ac8 0 182px,#7094c6 0 183px,#7196c7 0 184px,#77a0cb 0 185px,#6480b9 0 186px,#6d90c4 0 187px,#749bc9 0 188px,#7195c7 0 189px,#749cc9 0 190px,#6f92c5 0 191px,#7093c6 0 192px,#6b8bc2 0 193px,#759dca 0 194px,#80aecc 0 195px,#6784be 0 196px,#6e91c5 0 197px,#6d8fc4 0 198px,#6a8ac2 0 199px,#7094c6 0 200px,#6b8cc2 0 201px,#77a0cb 0 202px,#759dca 0 203px,#6b8cc2 0 204px,#6a8ac2 0 205px,#6e91c5 0 206px,#77a1cb 0 207px,#78a2cc 0 209px,#7297c7 0 210px,#6b8bc2 0 211px,#769eca 0 212px,#6a89c1 0 213px,#6e91c5 0 214px,#7298c8 0 215px,#6b8ac2 0 216px)"></div>
<div class="hm" style="left:63.30px;top:0;width:10.85px;height:216px;background:linear-gradient(#6f92c5 0 1px,#749cc9 0 2px,#6b8cc3 0 3px,#637eb7 0 4px,#7ca8cc 0 5px,#7398c8 0 6px,#749bc9 0 7px,#7eabcc 0 8px,#6a89c1 0 9px,#6c8cc3 0 10px,#6a89c1 0 11px,#6e90c4 0 12px,#88bacc 0 13px,#6f93c6 0 14px,#759dca 0 15px,#79a3cc 0 16px,#81b0cc 0 17px,#7399c8 0 18px,#78a1cc 0 19px,#6886c0 0 20px,#7094c6 0 21px,#84b4cc 0 22px,#6d8fc4 0 23px,#6e91c5 0 24px,#749bc9 0 25px,#7eabcc 0 26px,#6c8dc3 0 27px,#7aa5cc 0 28px,#759dca 0 29px,#82b2cc 0 30px,#84b5cc 0 31px,#89bccc 0 32px,#7196c7 0 33px,#7095c6 0 34px,#79a4cc 0 35px,#84b4cc 0 36px,#7ba7cc 0 37px,#7aa4cc 0 38px,#89bdcc 0 39px,#7fadcc 0 40px,#7eaccc 0 41px,#749cc9 0 42px,#78a3cc 0 43px,#7daacc 0 44px,#86b8cc 0 45px,#8dc2cc 0 46px,#81b0cc 0 47px,#85b7cc 0 48px,#7eabcc 0 49px,#83b3cc 0 50px,#779fcb 0 51px,#84b4cc 0 52px,#769eca 0 53px,#79a3cc 0 54px,#769fcb 0 55px,#759dca 0 56px,#7297c7 0 57px,#7ba7cc 0 58px,#94c8cb 0 59px,#8fc5cc 0 60px,#749bc9 0 61px,#86b8cc 0 62px,#87b9cc 0 63px,#8dc3cc 0 64px,#a1d1c9 0 65px,#a2d2c9 0 66px,#98cbca 0 67px,#96c9cb 0 68px,#a1d2c9 0 69px,#86b8cc 0 70px,#8ec4cc 0 71px,#86b7cc 0 72px,#a8d6c8 0 73px,#cae8c7 0 74px,#89bdcc 0 75px,#a7d5c8 0 76px,#9ecfca 0 77px,#a2d2c9 0 78px,#addac7 0 79px,#aedbc7 0 80px,#c7e7c7 0 81px,#c8e7c7 0 82px,#b9e1c6 0 83px,#bbe2c6 0 84px,#cae8c7 0 85px,#b4dec6 0 86px,#bde3c6 0 87px,#8dc2cc 0 88px,#91c6cc 0 89px,#b3dec6 0 90px,#b6e0c6 0 91px,#bfe4c6 0 92px,#a9d7c8 0 93px,#c5e6c7 0 94px,#c1e5c7 0 95px,#addac7 0 96px,#dbefc8 0 97px,#a3d3c9 0 98px,#b7e0c6 0 99px,#cbe9c7 0 100px,#bae2c6 0 101px,#a8d6c8 0 102px,#c1e5c7 0 103px,#a6d5c8 0 104px,#b1ddc7 0 105px,#9fd0c9 0 106px,#c2e5c7 0 107px,#b8e1c6 0 108px,#b4dfc6 0 109px,#96cacb 0 110px,#a7d6c8 0 111px,#addac7 0 112px,#dcefc8 0 113px,#c2e5c7 0 114px,#9cceca 0 115px,#bee3c6 0 116px,#8bbfcc 0 117px,#cbe9c7 0 118px,#b2ddc7 0 119px,#ddf0c8 0 120px,#b1ddc7 0 121px,#addac7 0 122px,#8dc3cc 0 123px,#addac7 0 124px,#b8e1c6 0 125px,#cfeac7 0 126px,#b6e0c6 0 127px,#a2d2c9 0 128px,#abd8c8 0 129px,#a0d0c9 0 130px,#a4d3c9 0 131px,#b7e0c6 0 132px,#a6d5c8 0 133px,#afdbc7 0 134px,#bee3c6 0 135px,#97cacb 0 136px,#b3dec6 0 137px,#cce9c7 0 138px,#b0dcc7 0 139px,#abd8c8 0 140px,#a8d6c8 0 141px,#9bcdca 0 142px,#dff1c8 0 143px,#c0e4c6 0 144px,#a5d4c9 0 145px,#c5e6c7 0 146px,#d5edc7 0 147px,#b0dcc7 0 148px,#b4dec6 0 149px,#abd9c8 0 150px,#c8e7c7 0 151px,#c3e5c7 0 152px,#a1d1c9 0 153px,#a6d5c8 0 154px,#92c7cb 0 155px,#aad8c8 0 156px,#b6e0c6 0 157px,#cfeac7 0 158px,#a2d2c9 0 159px,#a1d2c9 0 160px,#92c7cb 0 161px,#acd9c7 0 162px,#89bccc 0 163px,#a5d4c8 0 164px,#8abdcc 0 165px,#87b9cc 0 166px,#95c9cb 0 167px,#83b4cc 0 168px,#92c7cb 0 169px,#8abfcc 0 170px,#82b1cc 0 171px,#bbe2c6 0 172px,#8cc1cc 0 173px,#96cacb 0 174px,#82b1cc 0 175px,#a5d4c9 0 176px,#85b6cc 0 178px,#a6d4c8 0 179px,#a3d2c9 0 180px,#9dcfca 0 181px,#8abecc 0 182px,#8bbfcc 0 183px,#7fadcc 0 184px,#80aecc 0 185px,#95c9cb 0 186px,#77a0cb 0 187px,#88bbcc 0 188px,#83b3cc 0 189px,#87bacc 0 190px,#9cceca 0 191px,#84b5cc 0 192px,#97cacb 0 193px,#96cacb 0 194px,#97cacb 0 195px,#8fc4cc 0 196px,#87bacc 0 197px,#92c7cb 0 198px,#9dcfca 0 199px,#8dc2cc 0 200px,#8bbfcc 0 201px,#96cacb 0 202px,#82b1cc 0 203px,#7faccc 0 204px,#8cc1cc 0 205px,#9dcfca 0 206px,#78a2cc 0 207px,#739ac9 0 208px,#8ec4cc 0 209px,#83b4cc 0 210px,#82b1cc 0 211px,#7094c6 0 212px,#8ec4cc 0 213px,#79a3cc 0 214px,#84b4cc 0 215px,#a5d4c9 0 216px)"></div>
<div class="hm" style="left:73.85px;top:0;width:10.85px;height:216px;background:linear-gradient(#7aa6cc 0 1px,#79a3cc 0 2px,#6f93c6 0 3px,#7297c7 0 4px,#6987c0 0 5px,#749cc9 0 6px,#6d8ec4 0 7px,#7195c6 0 8px,#6f91c5 0 9px,#6079b1 0 10px,#7094c6 0 11px,#6987c1 0 12px,#6f93c6 0 13px,#759dca 0 14px,#6e90c4 0 15px,#759dca 0 16px,#79a3cc 0 17px,#79a4cc 0 18px,#78a1cc 0 19px,#7ba6cc 0 20px,#6a8ac2 0 21px,#78a2cc 0 22px,#7095c6 0 23px,#6d90c4 0 24px,#7298c8 0 25px,#7093c6 0 26px,#7195c6 0 27px,#6c8dc3 0 28px,#6c8cc3 0 29px,#82b1cc 0 30px,#6e91c5 0 31px,#7daacc 0 32px,#8cc1cc 0 33px,#82b1cc 0 34px,#86b8cc 0 35px,#7ba7cc 0 36px,#8cc1cc 0 37px,#8abecc 0 38px,#7da9cc 0 39px,#78a1cc 0 40px,#89bccc 0 41px,#80aecc 0 42px,#7eaccc 0 43px,#84b5cc 0 44px,#7fadcc 0 45px,#7da9cc 0 46px,#80aecc 0 47px,#92c7cb 0 48px,#85b7cc 0 49px,#83b2cc 0 50px,#82b2cc 0 51px,#86b8cc 0 52px,#8bbfcc 0 53px,#7ca8cc 0 54px,#749cc9 0 55px,#80aecc 0 58px,#88bacc 0 59px,#acd9c7 0 60px,#85b5cc 0 61px,#94c8cb 0 62px,#9accca 0 63px,#90c5cc 0 64px,#9bcdca 0 65px,#a6d5c8 0 66px,#b7e0c6 0 67px,#cce9c7 0 68px,#acd9c8 0 69px,#a4d3c9 0 70px,#93c8cb 0 71px,#9ecfca 0 72px,#bce3c6 0 73px,#d0ebc7 0 74px,#b6e0c6 0 75px,#afdbc7 0 76px,#c4e6c7 0 77px,#94c8cb 0 78px,#b7e1c6 0 79px,#c8e7c7 0 80px,#acd9c8 0 81px,#c8e7c7 0 82px,#89bdcc 0 83px,#bae2c6 0 84px,#abd8c8 0 85px,#afdbc7 0 86px,#cbe8c7 0 87px,#c6e7c7 0 88px,#cbe9c7 0 89px,#9fd0c9 0 90px,#afdbc7 0 91px,#92c7cb 0 92px,#c6e7c7 0 93px,#b6e0c6 0 94px,#b4dec6 0 95px,#9cceca 0 96px,#c5e6c7 0 97px,#9acdca 0 98px,#9fd0c9 0 99px,#a9d7c8 0 100px,#97cbcb 0 101px,#b0dcc7 0 102px,#97cacb 0 103px,#b6e0c6 0 104px,#9bcdca 0 105px,#e4f3ca 0 106px,#aad8c8 0 107px,#c0e4c6 0 108px,#b9e1c6 0 109px,#9accca 0 110px,#9bcdca 0 111px,#b4dec6 0 112px,#9fd0c9 0 113px,#ceeac7 0 114px,#c2e5c7 0 115px,#9bcdca 0 116px,#a2d2c9 0 117px,#e0f1c8 0 118px,#a3d3c9 0 119px,#d2ebc7 0 120px,#9fd0c9 0 121px,#9acdca 0 122px,#b3dec6 0 123px,#96cacb 0 124px,#bee3c6 0 125px,#a2d2c9 0 126px,#a7d6c8 0 127px,#b0dcc7 0 128px,#cdeac7 0 129px,#b5dfc6 0 130px,#d7eec8 0 131px,#bce2c6 0 132px,#ceeac7 0 133px,#9accca 0 134px,#b4dec6 0 135px,#dcf0c8 0 136px,#abd8c8 0 137px,#aedbc7 0 138px,#bbe2c6 0 139px,#8bbfcc 0 140px,#a7d6c8 0 141px,#aedac7 0 142px,#b0dcc7 0 143px,#edf7cf 0 144px,#b1dcc7 0 145px,#9ecfca 0 146px,#b6e0c6 0 147px,#c4e6c7 0 148px,#afdbc7 0 149px,#c3e5c7 0 150px,#a7d5c8 0 151px,#9ecfca 0 152px,#84b5cc 0 153px,#9fd0c9 0 154px,#a7d5c8 0 155px,#99ccca 0 156px,#8dc3cc 0 157px,#a5d4c9 0 158px,#c4e6c7 0 159px,#a7d5c8 0 160px,#9fd0c9 0 161px,#a3d3c9 0 162px,#8cc0cc 0 163px,#81b0cc 0 165px,#7eabcc 0 166px,#8dc3cc 0 167px,#80afcc 0 168px,#7ca8cc 0 169px,#79a4cc 0 170px,#7298c8 0 171px,#91c6cc 0 172px,#80aecc 0 173px,#78a1cc 0 174px,#7ca9cc 0 175px,#83b2cc 0 176px,#82b2cc 0 177px,#749ac9 0 178px,#83b4cc 0 179px,#87b9cc 0 180px,#7ca7cc 0 181px,#81b0cc 0 182px,#779fcb 0 183px,#7aa6cc 0 184px,#78a1cc 0 185px,#80aecc 0 186px,#7196c7 0 187px,#87b9cc 0 188px,#7196c7 0 189px,#8bbfcc 0 190px,#7fadcc 0 191px,#80afcc 0 192px,#769fcb 0 193px,#7aa4cc 0 194px,#7eabcc 0 195px,#85b7cc 0 196px,#81afcc 0 197px,#8bbfcc 0 198px,#84b4cc 0 199px,#87b9cc 0 200px,#769eca 0 201px,#77a0cb 0 202px,#7095c6 0 203px,#81b0cc 0 204px,#83b3cc 0 205px,#8bbfcc 0 206px,#79a3cc 0 207px,#749bc9 0 208px,#7195c7 0 209px,#759eca 0 210px,#6d8ec3 0 211px,#6f92c5 0 212px,#8ec4cc 0 213px,#6f92c5 0 214px,#749bc9 0 216px)"></div>
<div class="hm" style="left:84.40px;top:0;width:10.85px;height:216px;background:linear-gradient(#7eabcc 0 1px,#739ac8 0 2px,#82b1cc 0 3px,#7eaccc 0 4px,#80afcc 0 5px,#7094c6 0 6px,#7aa6cc 0 7px,#749bc9 0 8px,#78a3cc 0 9px,#83b3cc 0 10px,#7aa5cc 0 11px,#77a1cb 0 12px,#8bbfcc 0 13px,#769eca 0 14px,#83b3cc 0 15px,#85b6cc 0 16px,#84b4cc 0 17px,#88bbcc 0 18px,#8cc1cc 0 19px,#93c7cb 0 20px,#7faccc 0 21px,#7eaccc 0 22px,#83b3cc 0 23px,#82b1cc 0 24px,#8ec4cc 0 25px,#7ca9cc 0 26px,#81afcc 0 27px,#79a3cc 0 28px,#86b8cc 0 29px,#7daacc 0 30px,#84b5cc 0 31px,#7ca9cc 0 32px,#82b2cc 0 34px,#88bbcc 0 35px,#7ca8cc 0 37px,#8dc3cc 0 38px,#81b1cc 0 39px,#7eabcc 0 40px,#89bdcc 0 41px,#93c8cb 0 42px,#759dca 0 43px,#aad8c8 0 44px,#84b4cc 0 45px,#85b6cc 0 46px,#84b5cc 0 47px,#8cc1cc 0 48px,#87bacc 0 49px,#85b6cc 0 50px,#81b0cc 0 51px,#8cc2cc 0 52px,#87b9cc 0 53px,#81afcc 0 54px,#7ca8cc 0 55px,#89bccc 0 56px,#83b2cc 0 57px,#8abecc 0 58px,#91c6cb 0 59px,#8cc1cc 0 60px,#83b4cc 0 61px,#7fadcc 0 62px,#91c6cc 0 63px,#8dc2cc 0 64px,#85b6cc 0 65px,#90c6cc 0 66px,#87b9cc 0 67px,#99cbca 0 68px,#a3d3c9 0 69px,#9cceca 0 70px,#7eabcc 0 71px,#8abecc 0 72px,#9dceca 0 73px,#b5dfc6 0 74px,#8bc0cc 0 75px,#86b8cc 0 76px,#a9d7c8 0 77px,#96c9cb 0 78px,#7fadcc 0 79px,#80aecc 0 80px,#7eaccc 0 81px,#93c8cb 0 82px,#82b1cc 0 83px,#95c9cb 0 84px,#87b8cc 0 85px,#8fc5cc 0 86px,#95c9cb 0 87px,#7ca8cc 0 88px,#86b8cc 0 89px,#8dc3cc 0 90px,#99ccca 0 91px,#8dc2cc 0 92px,#8ec4cc 0 93px,#95c9cb 0 94px,#88bacc 0 95px,#7aa5cc 0 96px,#b7e0c6 0 97px,#93c8cb 0 98px,#9bcdca 0 99px,#85b6cc 0 100px,#759dca 0 101px,#88bacc 0 102px,#8abecc 0 103px,#7daacc 0 104px,#b8e1c6 0 105px,#90c5cc 0 106px,#b7e0c6 0 107px,#8abecc 0 108px,#99ccca 0 109px,#8dc2cc 0 110px,#83b3cc 0 111px,#97cacb 0 112px,#87b9cc 0 113px,#8dc2cc 0 114px,#89bccc 0 115px,#779fcb 0 116px,#8bbfcc 0 117px,#88bacc 0 118px,#90c5cc 0 119px,#86b8cc 0 120px,#87b9cc 0 121px,#89bccc 0 122px,#7fadcc 0 123px,#7ba6cc 0 124px,#7fadcc 0 125px,#8cc2cc 0 126px,#8dc2cc 0 127px,#81afcc 0 128px,#a6d5c8 0 129px,#95c9cb 0 130px,#87b9cc 0 131px,#88bbcc 0 132px,#7aa4cc 0 133px,#7ba7cc 0 134px,#83b3cc 0 135px,#88bbcc 0 136px,#a7d5c8 0 137px,#94c8cb 0 138px,#8cc0cc 0 139px,#8cc1cc 0 140px,#8fc5cc 0 141px,#87b9cc 0 142px,#91c6cc 0 143px,#aad8c8 0 144px,#b4dec6 0 145px,#82b2cc 0 146px,#9cceca 0 147px,#a8d6c8 0 148px,#88bbcc 0 149px,#8dc2cc 0 150px,#83b3cc 0 151px,#96cacb 0 152px,#7297c7 0 153px,#85b6cc 0 154px,#8dc3cc 0 155px,#8cc0cc 0 156px,#8fc5cc 0 157px,#85b5cc 0 158px,#84b5cc 0 159px,#94c8cb 0 161px,#8abecc 0 162px,#81b0cc 0 163px,#9accca 0 164px,#8dc3cc 0 166px,#8cc0cc 0 167px,#87b9cc 0 168px,#95c9cb 0 169px,#94c8cb 0 170px,#7fadcc 0 171px,#bce2c6 0 172px,#7fadcc 0 173px,#93c7cb 0 174px,#769eca 0 175px,#85b7cc 0 176px,#8cc2cc 0 177px,#85b6cc 0 178px,#89bdcc 0 179px,#8bc0cc 0 180px,#81afcc 0 181px,#7aa6cc 0 182px,#93c8cb 0 183px,#7eabcc 0 184px,#7298c8 0 185px,#7ca7cc 0 186px,#7daacc 0 187px,#8dc2cc 0 188px,#85b6cc 0 189px,#92c7cb 0 190px,#769fcb 0 191px,#7daacc 0 192px,#86b8cc 0 193px,#8bbfcc 0 194px,#8abecc 0 195px,#8bbfcc 0 196px,#7195c7 0 197px,#88bbcc 0 198px,#83b3cc 0 199px,#7ca8cc 0 200px,#769eca 0 201px,#7eaccc 0 202px,#8ec3cc 0 203px,#77a0cb 0 204px,#7aa5cc 0 205px,#88bacc 0 206px,#7daacc 0 207px,#81b1cc 0 208px,#8bbfcc 0 209px,#86b8cc 0 210px,#77a0cb 0 211px,#7ba6cc 0 212px,#85b6cc 0 213px,#749ac9 0 214px,#7aa5cc 0 215px,#80aecc 0 216px)"></div>
<div class="hm" style="left:94.95px;top:0;width:10.85px;height:216px;background:linear-gradient(#96cacb 0 1px,#82b2cc 0 2px,#80aecc 0 3px,#85b6cc 0 4px,#82b1cc 0 5px,#8fc5cc 0 6px,#8ec4cc 0 7px,#7ca9cc 0 8px,#8bbfcc 0 9px,#86b8cc 0 10px,#8abdcc 0 11px,#88bbcc 0 12px,#96cacb 0 13px,#8bbfcc 0 14px,#9fd0c9 0 15px,#769fcb 0 16px,#8ec4cc 0 17px,#b1ddc7 0 18px,#9acdca 0 19px,#9bcdca 0 20px,#8fc5cc 0 21px,#afdbc7 0 22px,#81b1cc 0 23px,#7ca9cc 0 24px,#8abdcc 0 25px,#80afcc 0 26px,#86b7cc 0 27px,#8dc2cc 0 28px,#7ba7cc 0 29px,#97cacb 0 30px,#92c6cb 0 31px,#8fc4cc 0 32px,#7eabcc 0 33px,#87bacc 0 34px,#87b9cc 0 35px,#8ec4cc 0 36px,#89bccc 0 37px,#8bc0cc 0 38px,#83b3cc 0 39px,#77a0cb 0 40px,#84b5cc 0 41px,#87b8cc 0 42px,#87bacc 0 43px,#7fadcc 0 44px,#86b7cc 0 45px,#82b2cc 0 46px,#7fadcc 0 47px,#7ba6cc 0 48px,#83b3cc 0 49px,#8cc0cc 0 50px,#8bc0cc 0 51px,#7eabcc 0 52px,#94c8cb 0 53px,#7ba7cc 0 54px,#8cc1cc 0 55px,#83b3cc 0 56px,#7eabcc 0 57px,#85b5cc 0 58px,#85b6cc 0 59px,#89bccc 0 60px,#90c5cc 0 61px,#98cbca 0 62px,#8abecc 0 63px,#7ca8cc 0 64px,#8cc1cc 0 65px,#95c9cb 0 66px,#88bbcc 0 67px,#8fc5cc 0 68px,#82b2cc 0 69px,#8bbfcc 0 70px,#7ca8cc 0 71px,#83b3cc 0 72px,#94c8cb 0 73px,#a2d2c9 0 74px,#87b9cc 0 75px,#92c7cb 0 76px,#86b8cc 0 77px,#96cacb 0 78px,#78a2cc 0 79px,#7fadcc 0 80px,#80aecc 0 81px,#77a1cb 0 82px,#7aa6cc 0 83px,#97cacb 0 84px,#84b4cc 0 85px,#80aecc 0 86px,#96c9cb 0 87px,#8bbfcc 0 88px,#7eabcc 0 89px,#7fadcc 0 90px,#94c8cb 0 91px,#8abecc 0 92px,#87b9cc 0 93px,#95c9cb 0 94px,#87b9cc 0 95px,#78a2cc 0 96px,#a2d2c9 0 97px,#82b2cc 0 98px,#769eca 0 99px,#83b3cc 0 100px,#83b2cc 0 101px,#7ba7cc 0 102px,#8ec4cc 0 103px,#8cc0cc 0 104px,#9ecfca 0 105px,#99ccca 0 106px,#7fadcc 0 107px,#7daacc 0 108px,#8cc1cc 0 109px,#87b9cc 0 110px,#7ba6cc 0 111px,#80aecc 0 112px,#86b7cc 0 113px,#98cbca 0 114px,#86b8cc 0 115px,#a0d1c9 0 116px,#78a1cc 0 117px,#8abecc 0 118px,#7faccc 0 119px,#769eca 0 120px,#759dca 0 121px,#769fcb 0 123px,#78a1cc 0 124px,#80afcc 0 125px,#7da9cc 0 126px,#6f92c5 0 127px,#83b3cc 0 128px,#84b5cc 0 129px,#7ba7cc 0 130px,#759dca 0 131px,#77a1cb 0 132px,#84b5cc 0 133px,#7eabcc 0 134px,#7aa5cc 0 135px,#89bdcc 0 136px,#81b0cc 0 137px,#86b8cc 0 138px,#78a2cc 0 139px,#79a4cc 0 140px,#89bccc 0 141px,#7faccc 0 142px,#7da9cc 0 143px,#94c8cb 0 144px,#8bbfcc 0 145px,#79a3cc 0 146px,#86b8cc 0 147px,#99ccca 0 148px,#91c6cc 0 149px,#7eaccc 0 150px,#759dca 0 151px,#9bcdca 0 152px,#83b3cc 0 153px,#8bc0cc 0 154px,#a1d1c9 0 155px,#86b8cc 0 156px,#8bbfcc 0 157px,#88bacc 0 158px,#81afcc 0 159px,#8ec4cc 0 160px,#7fadcc 0 161px,#87bacc 0 162px,#92c7cb 0 163px,#8cc1cc 0 164px,#79a4cc 0 165px,#7eaccc 0 166px,#92c7cb 0 167px,#9cceca 0 168px,#84b5cc 0 169px,#84b4cc 0 170px,#749cc9 0 171px,#89bccc 0 172px,#80aecc 0 173px,#8fc5cc 0 174px,#88bbcc 0 175px,#9dcfca 0 176px,#88bbcc 0 177px,#85b6cc 0 178px,#86b8cc 0 179px,#81b0cc 0 180px,#86b7cc 0 181px,#92c7cb 0 182px,#85b6cc 0 183px,#78a2cc 0 184px,#90c5cc 0 185px,#89bccc 0 186px,#7ca8cc 0 187px,#8bbfcc 0 188px,#83b3cc 0 189px,#8dc2cc 0 190px,#8bc0cc 0 191px,#79a3cc 0 192px,#7aa5cc 0 193px,#99ccca 0 194px,#bbe2c6 0 195px,#8bc0cc 0 196px,#8dc2cc 0 197px,#94c8cb 0 198px,#a6d4c8 0 199px,#8bbfcc 0 200px,#83b4cc 0 201px,#8abdcc 0 202px,#79a4cc 0 203px,#769eca 0 204px,#7aa4cc 0 205px,#81afcc 0 206px,#87b9cc 0 207px,#7aa5cc 0 208px,#8abdcc 0 209px,#769eca 0 210px,#7ca9cc 0 211px,#86b8cc 0 212px,#88bbcc 0 213px,#86b8cc 0 214px,#7eaccc 0 215px,#7aa5cc 0 216px)"></div>
<div class="hm" style="left:105.50px;top:0;width:10.85px;height:216px;background:linear-gradient(#8ec4cc 0 1px,#83b2cc 0 2px,#a3d3c9 0 3px,#82b2cc 0 4px,#85b7cc 0 5px,#98cbcb 0 6px,#769fcb 0 7px,#87b9cc 0 8px,#9acdca 0 9px,#9accca 0 10px,#80aecc 0 11px,#8bbfcc 0 12px,#86b7cc 0 13px,#98cbcb 0 14px,#88bacc 0 15px,#7eabcc 0 16px,#9bcdca 0 17px,#89bdcc 0 18px,#90c5cc 0 19px,#87b9cc 0 20px,#84b5cc 0 21px,#759dca 0 22px,#93c8cb 0 23px,#83b4cc 0 24px,#7ba6cc 0 25px,#92c7cb 0 26px,#89bdcc 0 27px,#6f92c5 0 28px,#7ca7cc 0 29px,#a9d7c8 0 30px,#8cc0cc 0 31px,#a2d2c9 0 32px,#85b7cc 0 33px,#8ec3cc 0 34px,#89bccc 0 35px,#8dc2cc 0 36px,#85b7cc 0 37px,#8ec4cc 0 38px,#92c7cb 0 39px,#83b3cc 0 40px,#85b7cc 0 41px,#8cc2cc 0 42px,#7aa5cc 0 43px,#a5d4c9 0 44px,#82b1cc 0 45px,#84b4cc 0 46px,#7fadcc 0 47px,#8cc2cc 0 48px,#8cc0cc 0 49px,#9accca 0 50px,#739ac8 0 51px,#80aecc 0 52px,#9acdca 0 53px,#85b6cc 0 54px,#8bc0cc 0 55px,#759dca 0 56px,#7ca8cc 0 57px,#9dceca 0 58px,#83b3cc 0 59px,#82b2cc 0 60px,#83b3cc 0 61px,#84b4cc 0 62px,#88bbcc 0 63px,#89bccc 0 64px,#88bacc 0 65px,#8ec4cc 0 66px,#7eabcc 0 67px,#8dc2cc 0 68px,#8cc1cc 0 69px,#8bc0cc 0 70px,#8abdcc 0 71px,#82b1cc 0 72px,#87b9cc 0 73px,#bbe2c6 0 74px,#8abecc 0 75px,#7eabcc 0 76px,#83b3cc 0 77px,#8abdcc 0 78px,#77a0cb 0 79px,#91c6cc 0 80px,#8ec3cc 0 81px,#759dca 0 82px,#85b7cc 0 83px,#87bacc 0 84px,#9acdca 0 85px,#90c5cc 0 86px,#a2d2c9 0 87px,#84b5cc 0 88px,#9bcdca 0 89px,#7da9cc 0 90px,#98cbca 0 91px,#93c7cb 0 92px,#8bc0cc 0 93px,#89bdcc 0 94px,#7ca8cc 0 95px,#89bccc 0 96px,#80aecc 0 97px,#759dca 0 98px,#7ba7cc 0 99px,#87bacc 0 100px,#9cceca 0 101px,#81b0cc 0 102px,#8dc2cc 0 103px,#83b3cc 0 104px,#a9d7c8 0 105px,#8ec4cc 0 106px,#83b4cc 0 107px,#95c9cb 0 108px,#8abfcc 0 109px,#77a1cb 0 110px,#82b1cc 0 111px,#95c9cb 0 112px,#7aa5cc 0 113px,#acd9c8 0 114px,#98cbcb 0 115px,#88bbcc 0 116px,#8bbfcc 0 117px,#b6e0c6 0 118px,#84b5cc 0 119px,#8abdcc 0 120px,#9ecfca 0 121px,#7daacc 0 122px,#84b5cc 0 123px,#7fadcc 0 124px,#a4d4c9 0 125px,#8ec4cc 0 126px,#80aecc 0 127px,#7ba6cc 0 128px,#84b5cc 0 129px,#8fc5cc 0 130px,#8cc1cc 0 131px,#9dceca 0 132px,#84b4cc 0 133px,#9bcdca 0 134px,#88bbcc 0 135px,#b4dfc6 0 136px,#b1dcc7 0 137px,#83b4cc 0 138px,#95c9cb 0 139px,#8dc2cc 0 140px,#bde3c6 0 141px,#94c8cb 0 142px,#78a3cc 0 143px,#c2e5c7 0 144px,#c7e7c7 0 145px,#97cacb 0 146px,#9cceca 0 147px,#98cbcb 0 148px,#aedac7 0 149px,#a8d6c8 0 151px,#8fc5cc 0 152px,#89bdcc 0 153px,#8abdcc 0 154px,#acd9c8 0 155px,#8dc3cc 0 156px,#9fd0c9 0 157px,#95c9cb 0 158px,#9acdca 0 159px,#99ccca 0 160px,#94c9cb 0 161px,#bae2c6 0 162px,#95c9cb 0 163px,#88bacc 0 164px,#9acdca 0 165px,#8dc3cc 0 166px,#c0e4c6 0 167px,#aedbc7 0 168px,#92c7cb 0 169px,#84b5cc 0 170px,#93c8cb 0 171px,#c6e7c7 0 172px,#94c8cb 0 173px,#bbe2c6 0 174px,#96c9cb 0 175px,#87b9cc 0 176px,#90c5cc 0 178px,#8abdcc 0 179px,#9bcdca 0 180px,#8cc1cc 0 181px,#92c7cb 0 182px,#8fc5cc 0 183px,#a3d3c9 0 184px,#88bacc 0 185px,#8bc0cc 0 186px,#a7d6c8 0 187px,#cce9c7 0 188px,#9dcfca 0 189px,#85b6cc 0 190px,#93c7cb 0 191px,#88bbcc 0 192px,#8bbfcc 0 193px,#86b8cc 0 194px,#a8d6c8 0 195px,#a6d5c8 0 196px,#8abecc 0 197px,#8ec4cc 0 199px,#95c9cb 0 200px,#8ec4cc 0 201px,#81b0cc 0 202px,#84b4cc 0 203px,#88bacc 0 204px,#b7e0c6 0 205px,#89bccc 0 206px,#afdbc7 0 207px,#84b5cc 0 208px,#9dceca 0 209px,#85b6cc 0 210px,#8dc2cc 0 211px,#91c6cc 0 212px,#95c9cb 0 213px,#83b3cc 0 214px,#98cbcb 0 215px,#b8e1c6 0 216px)"></div>
</div>
<div class="hmc" style="left:322.20px;top:57.60px;width:95.31px;height:120px">
<div class="hm" style="left:0.00px;top:0;width:10.89px;height:120px;background:linear-gradient(#8bc0cc 0 1px,#7ca8cc 0 2px,#8cc1cc 0 3px,#81b0cc 0 4px,#8bbfcc 0 5px,#8ec4cc 0 6px,#769fcb 0 7px,#769eca 0 8px,#83b3cc 0 9px,#86b8cc 0 10px,#7daacc 0 11px,#97cbcb 0 12px,#9ecfca 0 13px,#7ba7cc 0 14px,#7fadcc 0 15px,#8cc1cc 0 16px,#9fd0c9 0 17px,#8dc3cc 0 18px,#a4d3c9 0 19px,#92c7cb 0 20px,#8bbfcc 0 21px,#afdbc7 0 22px,#82b2cc 0 23px,#85b7cc 0 24px,#7fadcc 0 25px,#9cceca 0 26px,#a1d2c9 0 27px,#8bbfcc 0 28px,#99ccca 0 29px,#749cc9 0 30px,#9dceca 0 31px,#93c7cb 0 32px,#8bbfcc 0 33px,#87bacc 0 34px,#7ca7cc 0 35px,#9accca 0 36px,#85b6cc 0 37px,#8ec4cc 0 38px,#a1d1c9 0 39px,#86b7cc 0 40px,#a7d6c8 0 41px,#7ca8cc 0 42px,#93c8cb 0 43px,#88bbcc 0 44px,#80aecc 0 45px,#8cc1cc 0 46px,#a7d5c8 0 47px,#8bc0cc 0 48px,#9bcdca 0 49px,#86b8cc 0 50px,#87bacc 0 51px,#95c9cb 0 52px,#9ecfca 0 53px,#80afcc 0 54px,#9acdca 0 55px,#77a0cb 0 56px,#8bc0cc 0 57px,#8abecc 0 58px,#95c9cb 0 59px,#80aecc 0 61px,#80afcc 0 62px,#86b7cc 0 63px,#8ec4cc 0 64px,#7eaccc 0 65px,#86b8cc 0 66px,#82b1cc 0 67px,#8ec4cc 0 68px,#8bbfcc 0 69px,#89bccc 0 70px,#88bbcc 0 71px,#a3d2c9 0 72px,#82b1cc 0 73px,#b6e0c6 0 74px,#b0dcc7 0 75px,#a0d1c9 0 76px,#82b1cc 0 77px,#80afcc 0 78px,#93c8cb 0 79px,#8dc2cc 0 80px,#90c6cc 0 81px,#b0dcc7 0 82px,#8dc2cc 0 83px,#8bbfcc 0 84px,#83b4cc 0 85px,#a2d2c9 0 86px,#c5e6c7 0 87px,#a3d3c9 0 88px,#8abdcc 0 89px,#8ec3cc 0 90px,#9ecfca 0 91px,#95c9cb 0 92px,#93c7cb 0 93px,#b7e0c6 0 94px,#8dc3cc 0 95px,#89bdcc 0 96px,#93c8cb 0 97px,#7fadcc 0 98px,#a4d4c9 0 99px,#bde3c6 0 100px,#b0dbc7 0 101px,#7ba7cc 0 102px,#a3d3c9 0 103px,#89bdcc 0 104px,#9accca 0 105px,#8dc2cc 0 106px,#7298c8 0 107px,#9ecfca 0 109px,#99cbca 0 110px,#8abecc 0 111px,#90c5cc 0 112px,#b0dcc7 0 113px,#87b9cc 0 114px,#88bbcc 0 115px,#91c6cc 0 116px,#8ec4cc 0 117px,#a1d2c9 0 118px,#a9d7c8 0 119px,#94c8cb 0 120px)"></div>
<div class="hm" style="left:10.59px;top:0;width:10.89px;height:120px;background:linear-gradient(#82b1cc 0 1px,#7aa6cc 0 2px,#7196c7 0 3px,#80aecc 0 4px,#7eabcc 0 5px,#7094c6 0 6px,#637db6 0 7px,#769fcb 0 8px,#6785bf 0 9px,#759cca 0 10px,#6d8ec4 0 11px,#6c8ec3 0 12px,#7eabcc 0 13px,#6683bc 0 14px,#6079b1 0 15px,#6e90c4 0 16px,#7398c8 0 17px,#7eabcc 0 18px,#6580b9 0 19px,#7093c6 0 20px,#769eca 0 21px,#6988c1 0 22px,#769eca 0 23px,#749ac9 0 24px,#7ba7cc 0 25px,#6078b1 0 26px,#5c72a9 0 27px,#6b8cc2 0 28px,#6e91c5 0 29px,#6c8dc3 0 30px,#7196c7 0 31px,#6a89c1 0 32px,#6079b1 0 33px,#7298c8 0 34px,#6682bc 0 35px,#77a0cb 0 36px,#6079b1 0 37px,#6f92c5 0 38px,#7297c7 0 39px,#5a6fa6 0 40px,#6f92c5 0 41px,#6078b0 0 42px,#627cb5 0 43px,#6580b9 0 44px,#7297c7 0 45px,#6987c0 0 46px,#7094c6 0 47px,#6f93c5 0 48px,#617bb3 0 49px,#749cc9 0 50px,#6480b9 0 51px,#637eb7 0 52px,#82b1cc 0 53px,#7298c8 0 55px,#6f92c5 0 56px,#6785bf 0 57px,#6e91c5 0 58px,#6d90c4 0 59px,#759dca 0 60px,#6d8fc4 0 62px,#6b8bc2 0 63px,#78a2cc 0 64px,#7399c8 0 65px,#769fcb 0 66px,#6e90c4 0 67px,#83b4cc 0 68px,#6f93c5 0 69px,#6d8ec4 0 70px,#6f93c5 0 71px,#769eca 0 72px,#7eabcc 0 73px,#83b2cc 0 74px,#80aecc 0 75px,#6c8dc3 0 76px,#6078b0 0 77px,#7ba7cc 0 78px,#7aa5cc 0 79px,#7195c6 0 80px,#7094c6 0 81px,#81afcc 0 82px,#7fadcc 0 83px,#7094c6 0 84px,#85b6cc 0 85px,#6a8ac2 0 86px,#7faecc 0 87px,#7197c7 0 88px,#739ac8 0 89px,#78a3cc 0 90px,#7faccc 0 91px,#7ba7cc 0 92px,#6c8dc3 0 93px,#7faccc 0 94px,#78a2cc 0 96px,#82b2cc 0 97px,#78a2cc 0 98px,#769fcb 0 99px,#6c8ec3 0 100px,#7094c6 0 101px,#759dca 0 102px,#6d8fc4 0 103px,#6f92c5 0 104px,#7ba6cc 0 105px,#7daacc 0 106px,#80afcc 0 107px,#78a2cc 0 108px,#81b0cc 0 109px,#86b8cc 0 110px,#81b1cc 0 111px,#6f92c5 0 112px,#7fadcc 0 113px,#78a2cc 0 114px,#7ba6cc 0 115px,#82b1cc 0 116px,#749bc9 0 117px,#77a0cb 0 118px,#7aa5cc 0 119px,#7da9cc 0 120px)"></div>
<div class="hm" style="left:21.18px;top:0;width:10.89px;height:120px;background:linear-gradient(#6f92c5 0 1px,#769fcb 0 2px,#739ac8 0 3px,#79a3cc 0 4px,#7095c6 0 5px,#749bc9 0 6px,#6480b9 0 7px,#749bc9 0 8px,#5e75ad 0 9px,#6f92c5 0 10px,#6f93c5 0 11px,#6e90c4 0 12px,#6581ba 0 13px,#6784be 0 14px,#4e5d90 0 15px,#536297 0 16px,#617ab2 0 17px,#6e91c5 0 18px,#5d74ab 0 19px,#5f77af 0 20px,#647fb8 0 21px,#4f5d90 0 22px,#3a4670 0 23px,#596ea4 0 24px,#485687 0 25px,#43507f 0 26px,#5d74ac 0 27px,#4e5c8f 0 28px,#4c5b8d 0 29px,#475585 0 30px,#5e76ad 0 31px,#526196 0 32px,#536398 0 33px,#475585 0 34px,#5d73aa 0 35px,#54659b 0 36px,#56689e 0 38px,#4a588a 0 39px,#505f93 0 40px,#3a4670 0 41px,#54659a 0 42px,#44517f 0 43px,#4a5889 0 44px,#44517f 0 45px,#4a5889 0 46px,#5d74ab 0 47px,#516094 0 48px,#465483 0 49px,#4f5d91 0 50px,#445180 0 51px,#465483 0 52px,#5a6fa5 0 53px,#516095 0 54px,#3a4670 0 55px,#4c5a8c 0 56px,#55659b 0 57px,#3a4670 0 58px,#536297 0 59px,#596da4 0 60px,#3e4b77 0 61px,#586ca2 0 62px,#56679d 0 63px,#475584 0 64px,#596ca3 0 65px,#3a4670 0 66px,#485686 0 67px,#3d4975 0 68px,#55669c 0 69px,#4f5e92 0 70px,#526196 0 71px,#526195 0 72px,#5e75ad 0 73px,#5e76ae 0 74px,#505f94 0 75px,#6d8ec3 0 76px,#7095c6 0 77px,#77a0cb 0 78px,#5f77af 0 79px,#7094c6 0 80px,#7297c7 0 81px,#779fcb 0 82px,#7399c8 0 83px,#86b8cc 0 84px,#8dc2cc 0 85px,#addac7 0 86px,#c9e8c7 0 87px,#b6e0c6 0 88px,#dbefc8 0 89px,#acd9c8 0 90px,#e9f5cd 0 91px,#e2f2c8 0 92px,#bee3c6 0 93px,#e3f2c8 0 94px,#cdeac7 0 95px,#b7e0c6 0 96px,#c9e8c7 0 97px,#bce2c6 0 98px,#e2f2c8 0 99px,#bde3c6 0 100px,#e8f4cc 0 101px,#def1c8 0 102px,#cfeac7 0 103px,#ddf0c8 0 104px,#e5f3ca 0 105px,#e6f4cb 0 106px,#c1e4c6 0 107px,#f4fad4 0 108px,#d1ebc7 0 109px,#c7e7c7 0 110px,#d8eec8 0 111px,#dbefc8 0 112px,#eef7d0 0 113px,#cfeac7 0 114px,#acd9c8 0 115px,#eaf6cd 0 116px,#bde3c6 0 117px,#e6f4cb 0 118px,#def0c8 0 119px,#eaf5cd 0 120px)"></div>
<div class="hm" style="left:31.77px;top:0;width:10.89px;height:120px;background:linear-gradient(#a7d6c8 0 1px,#b3dec6 0 2px,#b9e1c6 0 3px,#89bccc 0 4px,#a4d3c9 0 5px,#92c7cb 0 6px,#8cc1cc 0 8px,#a5d4c9 0 9px,#9fd0c9 0 10px,#87bacc 0 11px,#84b5cc 0 12px,#addac7 0 13px,#91c6cc 0 14px,#9bcdca 0 15px,#85b6cc 0 16px,#91c6cc 0 17px,#95c9cb 0 18px,#98cbca 0 19px,#88bacc 0 20px,#86b8cc 0 21px,#8dc3cc 0 22px,#80aecc 0 23px,#8cc2cc 0 24px,#78a3cc 0 25px,#7aa5cc 0 26px,#89bccc 0 27px,#749bc9 0 28px,#7ba7cc 0 29px,#7fadcc 0 30px,#88bacc 0 31px,#8fc5cc 0 32px,#88bbcc 0 33px,#79a4cc 0 34px,#7195c7 0 35px,#80aecc 0 36px,#7ba6cc 0 37px,#7aa5cc 0 38px,#759cc9 0 39px,#7196c7 0 40px,#7195c7 0 41px,#7094c6 0 42px,#7aa4cc 0 43px,#769fcb 0 44px,#88bbcc 0 45px,#7196c7 0 46px,#79a4cc 0 47px,#7094c6 0 48px,#759eca 0 49px,#7093c6 0 50px,#6886c0 0 51px,#78a2cc 0 52px,#7aa5cc 0 53px,#6d8fc4 0 54px,#6b8cc2 0 55px,#6c8dc3 0 56px,#6581ba 0 57px,#769eca 0 58px,#6988c1 0 59px,#6a8ac2 0 60px,#647fb9 0 61px,#6d8fc4 0 62px,#7195c7 0 63px,#6e91c5 0 64px,#7094c6 0 65px,#78a2cc 0 66px,#6b8cc3 0 67px,#7095c6 0 68px,#7196c7 0 69px,#6f91c5 0 70px,#6581ba 0 71px,#6988c1 0 72px,#6d8fc4 0 73px,#7094c6 0 74px,#6784be 0 75px,#6582bb 0 76px,#6e91c5 0 77px,#6886c0 0 78px,#749bc9 0 79px,#87bacc 0 80px,#7297c7 0 81px,#6b8cc3 0 82px,#7297c7 0 83px,#7ba7cc 0 84px,#88bacc 0 85px,#7aa5cc 0 86px,#9accca 0 87px,#85b7cc 0 88px,#80aecc 0 89px,#88bacc 0 90px,#83b3cc 0 91px,#9cceca 0 92px,#89bccc 0 93px,#a0d1c9 0 94px,#afdbc7 0 95px,#9fd0ca 0 96px,#bde3c6 0 97px,#b0dcc7 0 98px,#a1d1c9 0 99px,#b8e1c6 0 100px,#8dc2cc 0 101px,#b2ddc7 0 103px,#a0d1c9 0 104px,#b8e1c6 0 105px,#acd9c7 0 106px,#add9c7 0 107px,#c3e5c7 0 108px,#dcf0c8 0 109px,#b9e1c6 0 110px,#8abdcc 0 111px,#a6d5c8 0 112px,#b1ddc7 0 113px,#b3dec6 0 114px,#aedac7 0 115px,#a7d6c8 0 116px,#b7e1c6 0 117px,#c0e4c6 0 118px,#b0dcc7 0 119px,#9ecfca 0 120px)"></div>
<div class="hm" style="left:42.36px;top:0;width:10.89px;height:120px;background:linear-gradient(#e2f2c8 0 1px,#b3dec7 0 2px,#d6edc7 0 3px,#9ed0ca 0 4px,#d5edc7 0 5px,#cde9c7 0 6px,#abd9c8 0 7px,#b8e1c6 0 8px,#b3dec6 0 9px,#def0c8 0 10px,#b4dfc6 0 11px,#acd9c7 0 12px,#dbefc8 0 13px,#ceeac7 0 14px,#dcf0c8 0 15px,#b5e0c6 0 16px,#d4ecc7 0 17px,#daefc8 0 18px,#e5f3ca 0 19px,#b2ddc7 0 20px,#b9e1c6 0 21px,#cde9c7 0 22px,#addac7 0 23px,#e2f2c8 0 24px,#b9e1c6 0 25px,#daefc8 0 26px,#b6e0c6 0 27px,#c1e5c7 0 28px,#afdbc7 0 29px,#c6e7c7 0 30px,#c5e6c7 0 31px,#b7e0c6 0 32px,#d9eec8 0 33px,#c3e5c7 0 34px,#ceeac7 0 35px,#b1ddc7 0 36px,#d0ebc7 0 37px,#cfeac7 0 38px,#c8e7c7 0 39px,#a2d2c9 0 40px,#d9eec8 0 41px,#bde3c6 0 42px,#c1e5c7 0 43px,#d4ecc7 0 44px,#cce9c7 0 45px,#b5dfc6 0 46px,#c7e7c7 0 47px,#d8eec8 0 48px,#b3dec6 0 49px,#d1ebc7 0 50px,#aedbc7 0 51px,#8cc1cc 0 52px,#cae8c7 0 53px,#a6d5c8 0 54px,#a9d7c8 0 55px,#90c5cc 0 56px,#a3d3c9 0 57px,#c0e4c6 0 58px,#bee3c6 0 59px,#a9d7c8 0 60px,#99ccca 0 61px,#92c7cb 0 62px,#a6d5c8 0 63px,#8fc5cc 0 64px,#a2d2c9 0 65px,#7daacc 0 66px,#80aecc 0 67px,#94c8cb 0 68px,#87b9cc 0 69px,#739ac8 0 70px,#84b4cc 0 71px,#8abecc 0 72px,#93c8cb 0 73px,#98cbca 0 74px,#7daacc 0 75px,#7da9cc 0 76px,#82b1cc 0 77px,#769eca 0 78px,#6e91c5 0 79px,#7ba7cc 0 80px,#83b3cc 0 81px,#8cc0cc 0 82px,#7297c7 0 83px,#7ca8cc 0 84px,#78a2cc 0 85px,#749ac9 0 86px,#7aa5cc 0 87px,#81b1cc 0 88px,#7daacc 0 89px,#769eca 0 90px,#81b0cc 0 91px,#7298c8 0 92px,#79a4cc 0 93px,#96c9cb 0 94px,#7195c6 0 95px,#83b3cc 0 96px,#86b8cc 0 97px,#7195c7 0 98px,#80aecc 0 99px,#6885bf 0 100px,#759eca 0 101px,#7398c8 0 102px,#7ca7cc 0 103px,#6581bb 0 104px,#77a0cb 0 105px,#82b2cc 0 106px,#6f92c5 0 107px,#8cc1cc 0 108px,#87bacc 0 109px,#7aa5cc 0 110px,#7ba7cc 0 111px,#8fc5cc 0 112px,#7daacc 0 113px,#7ba6cc 0 114px,#97cacb 0 115px,#89bccc 0 116px,#8dc2cc 0 117px,#9bcdca 0 118px,#80aecc 0 119px,#95c9cb 0 120px)"></div>
<div class="hm" style="left:52.95px;top:0;width:10.89px;height:120px;background:linear-gradient(#d0ebc7 0 1px,#c7e7c7 0 2px,#e3f3c9 0 3px,#bce2c6 0 4px,#e4f3c9 0 5px,#bee3c6 0 6px,#d7edc7 0 7px,#dff1c8 0 8px,#b9e1c6 0 9px,#d9eec8 0 10px,#e5f3ca 0 12px,#e3f2c9 0 13px,#b9e1c6 0 14px,#d3ecc7 0 15px,#e3f3c9 0 16px,#f0f8d1 0 17px,#edf7cf 0 18px,#e6f4ca 0 19px,#e0f1c8 0 20px,#e6f4ca 0 21px,#c9e8c7 0 22px,#e7f4cb 0 23px,#e9f5cc 0 24px,#d4ecc7 0 26px,#e6f4cb 0 27px,#c0e4c6 0 28px,#e9f5cd 0 29px,#b6e0c6 0 30px,#bae2c6 0 31px,#bfe4c6 0 32px,#def0c8 0 33px,#b9e1c6 0 34px,#d6edc7 0 35px,#c1e5c7 0 36px,#e2f2c8 0 37px,#dff1c8 0 38px,#d5edc7 0 39px,#e8f5cc 0 40px,#e3f2c9 0 41px,#b8e1c6 0 42px,#f3fad3 0 43px,#ddf0c8 0 44px,#c7e7c7 0 46px,#e3f2c9 0 47px,#c0e4c6 0 48px,#d1ebc7 0 49px,#eef7d0 0 50px,#e3f2c8 0 51px,#dcf0c8 0 52px,#dff1c8 0 53px,#d7eec8 0 54px,#d2ebc7 0 55px,#b0dbc7 0 56px,#eef7d0 0 57px,#bde3c6 0 58px,#c3e5c7 0 59px,#d4ecc7 0 60px,#d0eac7 0 61px,#d5edc7 0 62px,#c6e7c7 0 63px,#c4e6c7 0 64px,#c9e8c7 0 65px,#a1d2c9 0 66px,#a9d7c8 0 67px,#b1ddc7 0 68px,#b2ddc7 0 69px,#b1ddc7 0 70px,#8bc0cc 0 71px,#98cbcb 0 72px,#b9e1c6 0 73px,#a7d5c8 0 74px,#a4d4c9 0 75px,#82b2cc 0 76px,#8abecc 0 77px,#749bc9 0 78px,#88bacc 0 79px,#7eabcc 0 80px,#8cc1cc 0 81px,#89bdcc 0 82px,#7eabcc 0 83px,#7ca9cc 0 84px,#77a1cc 0 85px,#81b0cc 0 86px,#7ba7cc 0 87px,#7297c7 0 88px,#80aecc 0 89px,#7aa5cc 0 90px,#89bdcc 0 91px,#6f92c5 0 92px,#7aa5cc 0 93px,#77a1cb 0 94px,#7398c8 0 95px,#77a0cb 0 96px,#82b2cc 0 97px,#7297c7 0 98px,#7eaccc 0 99px,#86b8cc 0 100px,#82b1cc 0 101px,#769eca 0 102px,#79a4cc 0 103px,#6c8dc3 0 104px,#92c7cb 0 105px,#7aa6cc 0 106px,#84b5cc 0 107px,#759dca 0 108px,#7ca8cc 0 109px,#7ba6cc 0 110px,#7094c6 0 111px,#86b8cc 0 112px,#8cc0cc 0 113px,#8cc1cc 0 114px,#89bccc 0 115px,#82b2cc 0 116px,#77a1cb 0 117px,#7ba7cc 0 118px,#80afcc 0 119px,#8fc5cc 0 120px)"></div>
<div class="hm" style="left:63.54px;top:0;width:10.89px;height:120px;background:linear-gradient(#95c9cb 0 1px,#92c7cb 0 2px,#9bcdca 0 3px,#9ecfca 0 4px,#aedac7 0 5px,#a0d1c9 0 6px,#a3d3c9 0 7px,#a7d6c8 0 8px,#bce3c6 0 9px,#acd9c8 0 10px,#a7d5c8 0 11px,#a9d7c8 0 12px,#cdeac7 0 13px,#c5e6c7 0 14px,#cce9c7 0 16px,#d7eec8 0 17px,#d5edc7 0 18px,#e7f4cb 0 19px,#c2e5c7 0 20px,#e5f3ca 0 21px,#e0f1c8 0 23px,#d1ebc7 0 24px,#bae1c6 0 25px,#e3f2c8 0 26px,#e6f4cb 0 27px,#dcefc8 0 28px,#e1f2c8 0 29px,#dcefc8 0 30px,#bae2c6 0 31px,#edf7cf 0 32px,#e4f3c9 0 33px,#e8f5cc 0 34px,#d6edc7 0 35px,#e5f3ca 0 36px,#dbefc8 0 37px,#edf7cf 0 38px,#bfe4c6 0 39px,#d4ecc7 0 40px,#f2f9d3 0 41px,#d3ecc7 0 42px,#e4f3c9 0 43px,#eff8d1 0 44px,#daefc8 0 45px,#e1f2c8 0 46px,#e3f2c9 0 47px,#e7f4cb 0 48px,#d2ecc7 0 49px,#e4f3c9 0 50px,#d8eec8 0 51px,#e0f1c8 0 52px,#e9f5cd 0 53px,#e2f2c8 0 54px,#d4ecc7 0 55px,#ceeac7 0 56px,#def0c8 0 57px,#b6e0c6 0 58px,#c2e5c7 0 59px,#eff8d1 0 60px,#c9e8c7 0 61px,#e4f3ca 0 62px,#e0f1c8 0 63px,#ebf6ce 0 64px,#c8e7c7 0 65px,#e8f5cc 0 66px,#d3ecc7 0 67px,#ebf6ce 0 68px,#c0e4c6 0 69px,#bde3c6 0 70px,#e1f1c8 0 71px,#d6edc7 0 72px,#d9eec8 0 73px,#e6f4ca 0 74px,#d1ebc7 0 75px,#e4f3c9 0 76px,#d0ebc7 0 77px,#d8eec8 0 78px,#afdbc7 0 79px,#90c5cc 0 80px,#acd9c7 0 81px,#83b3cc 0 82px,#81b0cc 0 83px,#89bccc 0 84px,#84b5cc 0 85px,#87b9cc 0 86px,#7fadcc 0 87px,#6b8bc2 0 88px,#647fb8 0 89px,#6a89c1 0 90px,#769eca 0 91px,#6a8ac2 0 92px,#55679d 0 93px,#6b8cc3 0 94px,#6988c1 0 95px,#7399c8 0 96px,#6f92c5 0 97px,#5d73aa 0 98px,#6d8ec4 0 99px,#5c72aa 0 100px,#6b8bc2 0 101px,#6c8dc3 0 102px,#6b8cc3 0 103px,#6480b9 0 104px,#627bb4 0 105px,#6d8fc4 0 106px,#7195c7 0 107px,#6887c0 0 108px,#6784be 0 109px,#56689e 0 110px,#6b8cc2 0 111px,#5c72aa 0 112px,#6785bf 0 113px,#6480b9 0 114px,#6e90c4 0 115px,#6f92c5 0 116px,#6a8ac2 0 117px,#647fb8 0 118px,#617ab3 0 119px,#637eb7 0 120px)"></div>
<div class="hm" style="left:74.13px;top:0;width:10.89px;height:120px;background:linear-gradient(#759cca 0 1px,#81b0cc 0 2px,#86b8cc 0 3px,#77a0cb 0 4px,#a1d1c9 0 5px,#92c7cb 0 6px,#8dc3cc 0 7px,#97cacb 0 8px,#8ec4cc 0 9px,#a8d6c8 0 10px,#8bc0cc 0 11px,#b6e0c6 0 12px,#bce2c6 0 13px,#b8e1c6 0 15px,#99ccca 0 16px,#abd8c8 0 17px,#bde3c6 0 18px,#a9d7c8 0 19px,#aedac7 0 20px,#c1e4c6 0 21px,#bee3c6 0 22px,#b6e0c6 0 23px,#a7d5c8 0 24px,#cdeac7 0 25px,#c0e4c6 0 26px,#c7e7c7 0 27px,#aad7c8 0 28px,#c0e4c6 0 29px,#b1dcc7 0 30px,#e4f3c9 0 31px,#dbefc8 0 32px,#ebf6ce 0 33px,#d6edc7 0 34px,#a8d6c8 0 35px,#d2ebc7 0 36px,#dcf0c8 0 37px,#dff1c8 0 38px,#e0f1c8 0 39px,#e7f4cb 0 40px,#e9f5cd 0 41px,#e2f2c8 0 42px,#dcefc8 0 43px,#edf7cf 0 44px,#e3f2c8 0 45px,#e3f3c9 0 46px,#f2f9d3 0 47px,#e8f5cc 0 49px,#d9eec8 0 50px,#c6e6c7 0 51px,#d8eec8 0 52px,#e8f5cc 0 53px,#e3f3c9 0 54px,#ecf6ce 0 55px,#e3f2c9 0 56px,#bae2c6 0 57px,#cae8c7 0 58px,#ddf0c8 0 59px,#e8f5cc 0 60px,#ddf0c8 0 61px,#dff1c8 0 62px,#e4f3c9 0 63px,#e3f2c9 0 64px,#ebf6ce 0 65px,#e3f3c9 0 66px,#def0c8 0 67px,#dff1c8 0 68px,#f0f8d1 0 69px,#c9e8c7 0 70px,#d8eec8 0 71px,#e4f3c9 0 72px,#e8f5cc 0 73px,#e9f5cd 0 74px,#e3f2c8 0 75px,#e0f1c8 0 76px,#eaf6cd 0 77px,#ebf6ce 0 78px,#c5e6c7 0 79px,#c9e8c7 0 80px,#97cacb 0 81px,#96c9cb 0 82px,#a2d2c9 0 83px,#78a2cc 0 84px,#87b9cc 0 85px,#7aa5cc 0 86px,#7297c7 0 87px,#6d8fc4 0 88px,#78a2cc 0 89px,#6e91c5 0 90px,#7daacc 0 91px,#6682bb 0 92px,#6078b0 0 93px,#749bc9 0 94px,#6580ba 0 95px,#5b71a8 0 96px,#6682bc 0 97px,#6885bf 0 98px,#6b8bc2 0 99px,#7094c6 0 100px,#7093c6 0 101px,#637db6 0 102px,#6785be 0 103px,#586ba1 0 104px,#6886c0 0 105px,#6b8cc2 0 106px,#6e91c5 0 107px,#5a6ea5 0 108px,#6989c1 0 109px,#6480b9 0 110px,#6a8ac2 0 111px,#7094c6 0 112px,#6886bf 0 113px,#6f92c5 0 114px,#637eb7 0 116px,#6682bc 0 117px,#769eca 0 118px,#5f77af 0 119px,#6079b1 0 120px)"></div>
<div class="hm" style="left:84.72px;top:0;width:10.89px;height:120px;background:linear-gradient(#769fcb 0 1px,#78a2cc 0 2px,#6d8fc4 0 3px,#779fcb 0 4px,#84b5cc 0 5px,#769eca 0 6px,#80afcc 0 7px,#7daacc 0 8px,#83b3cc 0 9px,#8abecc 0 10px,#82b2cc 0 11px,#8fc4cc 0 12px,#afdbc7 0 13px,#8dc3cc 0 14px,#81b0cc 0 15px,#85b6cc 0 16px,#86b7cc 0 17px,#97cacb 0 18px,#8cc1cc 0 19px,#a1d1c9 0 20px,#a9d7c8 0 21px,#9ecfca 0 22px,#b2ddc7 0 23px,#9fd0c9 0 24px,#acd9c7 0 25px,#a1d1c9 0 26px,#bce3c6 0 27px,#a0d1c9 0 28px,#98cbcb 0 29px,#a8d6c8 0 30px,#bfe4c6 0 31px,#b1ddc7 0 32px,#a6d5c8 0 33px,#b7e0c6 0 34px,#c4e6c7 0 35px,#cfeac7 0 36px,#d2ebc7 0 37px,#abd9c8 0 38px,#bce3c6 0 39px,#a8d6c8 0 40px,#afdbc7 0 41px,#b7e0c6 0 42px,#b5dfc6 0 43px,#d9eec8 0 44px,#e3f2c9 0 45px,#b4dfc6 0 46px,#ddf0c8 0 47px,#c4e6c7 0 48px,#e1f1c8 0 49px,#d6edc7 0 50px,#a8d6c8 0 51px,#e0f1c8 0 52px,#dcefc8 0 53px,#b6e0c6 0 54px,#d5edc7 0 55px,#ceeac7 0 56px,#eaf5cd 0 57px,#cae8c7 0 58px,#e3f2c8 0 59px,#d0ebc7 0 60px,#daefc8 0 61px,#e5f3ca 0 62px,#d9eec8 0 63px,#e6f4cb 0 64px,#e7f4cc 0 65px,#c7e7c7 0 66px,#c2e5c7 0 67px,#e6f4cb 0 68px,#dcefc8 0 69px,#ceeac7 0 70px,#cae8c7 0 71px,#daefc8 0 72px,#e7f4cb 0 73px,#e6f4cb 0 74px,#d4ecc7 0 75px,#e0f1c8 0 76px,#e9f5cd 0 77px,#dbefc8 0 78px,#d1ebc7 0 79px,#e8f5cc 0 80px,#e0f1c8 0 81px,#d1ebc7 0 82px,#d2ecc7 0 83px,#dff1c8 0 84px,#d3ecc7 0 85px,#d0ebc7 0 86px,#bae2c6 0 87px,#b1dcc7 0 88px,#c0e4c6 0 89px,#b4dec6 0 90px,#abd8c8 0 91px,#a0d1c9 0 92px,#9bcdca 0 93px,#b4dec6 0 94px,#8dc2cc 0 95px,#89bccc 0 96px,#8bc0cc 0 97px,#769fcb 0 98px,#7eabcc 0 99px,#769fcb 0 100px,#7daacc 0 101px,#79a4cc 0 102px,#7aa4cc 0 103px,#6b8cc2 0 104px,#7093c6 0 105px,#7399c8 0 106px,#7ba6cc 0 107px,#78a2cc 0 108px,#759cc9 0 109px,#7094c6 0 110px,#81b0cc 0 111px,#7aa5cc 0 112px,#84b5cc 0 113px,#739ac9 0 114px,#749bc9 0 115px,#7eabcc 0 116px,#6581ba 0 117px,#7eaccc 0 118px,#637db6 0 119px,#7eaccc 0 120px)"></div>
</div>
<div class="hmc" style="left:426.50px;top:57.60px;width:116.05px;height:120px">
<div class="hm" style="left:0.00px;top:0;width:10.85px;height:120px;background:linear-gradient(#d0eac7 0 1px,#a7d5c8 0 2px,#d4ecc7 0 3px,#cfeac7 0 4px,#aedac7 0 5px,#bde3c6 0 6px,#a6d5c8 0 7px,#c3e5c7 0 8px,#8abecc 0 9px,#96cacb 0 10px,#9cceca 0 11px,#96c9cb 0 12px,#b6e0c6 0 13px,#a3d3c9 0 14px,#b8e1c6 0 15px,#97cacb 0 16px,#98cbcb 0 17px,#9dcfca 0 18px,#95c9cb 0 19px,#94c8cb 0 20px,#a8d6c8 0 21px,#afdbc7 0 22px,#8cc1cc 0 23px,#9accca 0 24px,#89bccc 0 25px,#98cbcb 0 26px,#a9d7c8 0 27px,#88bacc 0 28px,#9bcdca 0 29px,#a7d5c8 0 30px,#a4d3c9 0 31px,#a8d6c8 0 32px,#a9d7c8 0 33px,#9cceca 0 34px,#85b7cc 0 35px,#7aa5cc 0 36px,#82b1cc 0 37px,#9dcfca 0 38px,#86b8cc 0 39px,#8abecc 0 40px,#8ec4cc 0 41px,#97cacb 0 42px,#8dc2cc 0 43px,#b3dec6 0 44px,#7da9cc 0 45px,#8ec4cc 0 47px,#92c7cb 0 48px,#86b8cc 0 49px,#99cbca 0 50px,#86b8cc 0 51px,#7ba6cc 0 52px,#81b1cc 0 53px,#8dc2cc 0 54px,#759cc9 0 55px,#84b4cc 0 56px,#749bc9 0 57px,#759cc9 0 58px,#7eabcc 0 59px,#80aecc 0 60px,#78a2cc 0 61px,#769fcb 0 62px,#7195c6 0 63px,#6e90c4 0 64px,#7195c6 0 65px,#6079b1 0 66px,#6e91c5 0 67px,#6580ba 0 68px,#7095c6 0 69px,#617bb3 0 71px,#6078b0 0 72px,#6e90c4 0 73px,#647fb9 0 74px,#485687 0 75px,#5f77af 0 76px,#647eb7 0 77px,#5d73aa 0 78px,#586ba1 0 79px,#6682bc 0 80px,#6582bb 0 81px,#647fb8 0 82px,#56689d 0 83px,#5f77af 0 84px,#7297c7 0 85px,#7399c8 0 86px,#79a3cc 0 87px,#6e90c4 0 88px,#6f92c5 0 89px,#7aa4cc 0 90px,#749bc9 0 91px,#87bacc 0 92px,#79a3cc 0 93px,#87b9cc 0 94px,#80afcc 0 95px,#89bdcc 0 96px,#95c9cb 0 97px,#a8d6c8 0 98px,#bde3c6 0 99px,#b5dfc6 0 100px,#a2d2c9 0 101px,#9fd0ca 0 102px,#b7e0c6 0 103px,#9ecfca 0 104px,#b4dec6 0 105px,#a5d4c9 0 106px,#d3ecc7 0 107px,#cfeac7 0 108px,#ddf0c8 0 109px,#d2ebc7 0 110px,#a2d2c9 0 111px,#dff1c8 0 112px,#e4f3c9 0 113px,#d4ecc7 0 114px,#bde3c6 0 115px,#d6edc7 0 116px,#b4dec6 0 117px,#cae8c7 0 118px,#ceeac7 0 119px,#eef7d0 0 120px)"></div>
<div class="hm" style="left:10.55px;top:0;width:10.85px;height:120px;background:linear-gradient(#eaf5cd 0 1px,#e9f5cd 0 2px,#c6e7c7 0 3px,#e8f5cc 0 4px,#edf7cf 0 5px,#ddf0c8 0 6px,#d8eec8 0 7px,#e7f4cb 0 8px,#c6e7c7 0 9px,#d0ebc7 0 10px,#daefc8 0 11px,#e7f4cb 0 12px,#eef7d0 0 14px,#d7eec8 0 15px,#d7edc7 0 16px,#eef7d0 0 17px,#e7f4cc 0 18px,#aedbc7 0 19px,#ecf6ce 0 20px,#eef7d0 0 21px,#d7eec8 0 22px,#e3f3c9 0 23px,#e8f4cc 0 24px,#d4ecc7 0 25px,#e1f2c8 0 26px,#d5edc7 0 27px,#cbe9c7 0 28px,#c9e8c7 0 29px,#d6edc7 0 30px,#f4fad4 0 31px,#d0ebc7 0 32px,#f0f8d1 0 33px,#d0ebc7 0 34px,#d8eec8 0 35px,#ebf6ce 0 36px,#e3f2c9 0 37px,#daefc8 0 38px,#ebf6ce 0 39px,#d7eec8 0 40px,#eaf6cd 0 41px,#e8f5cc 0 42px,#e5f3ca 0 43px,#d7eec8 0 44px,#d5edc7 0 45px,#d8eec8 0 46px,#e9f5cd 0 47px,#e2f2c8 0 48px,#def0c8 0 49px,#e3f3c9 0 50px,#edf7cf 0 51px,#d2ebc7 0 52px,#edf7cf 0 53px,#f1f9d2 0 54px,#cae8c7 0 55px,#e3f2c8 0 56px,#c7e7c7 0 57px,#c8e7c7 0 58px,#ceeac7 0 59px,#c1e4c6 0 60px,#bfe4c6 0 61px,#c5e6c7 0 62px,#c8e7c7 0 63px,#b8e1c6 0 65px,#9accca 0 66px,#7eabcc 0 67px,#8dc3cc 0 68px,#90c5cc 0 69px,#9dcfca 0 70px,#7aa5cc 0 71px,#7ba7cc 0 72px,#78a1cc 0 73px,#a9d7c8 0 74px,#7ba6cc 0 75px,#80aecc 0 76px,#749cc9 0 77px,#7eabcc 0 78px,#77a1cb 0 79px,#6987c0 0 80px,#7195c6 0 81px,#87bacc 0 82px,#7399c8 0 83px,#6d8ec4 0 84px,#7aa5cc 0 85px,#7196c7 0 86px,#7ba7cc 0 87px,#7daacc 0 88px,#77a1cc 0 89px,#6d8fc4 0 90px,#739ac8 0 91px,#7ca8cc 0 92px,#6b8bc2 0 93px,#81afcc 0 94px,#739ac8 0 95px,#7196c7 0 96px,#83b3cc 0 97px,#6d8fc4 0 98px,#749cc9 0 99px,#8abecc 0 100px,#78a2cc 0 101px,#77a0cb 0 102px,#78a3cc 0 103px,#759cca 0 104px,#759dca 0 105px,#7eabcc 0 106px,#5d74ab 0 107px,#6785be 0 108px,#6987c1 0 109px,#6784bd 0 110px,#627bb4 0 111px,#6b8bc2 0 112px,#739ac8 0 113px,#7298c8 0 114px,#6886c0 0 115px,#6079b1 0 117px,#5e75ad 0 118px,#6d8fc4 0 120px)"></div>
<div class="hm" style="left:21.10px;top:0;width:10.85px;height:120px;background:linear-gradient(#9accca 0 1px,#81b0cc 0 2px,#80afcc 0 3px,#9cceca 0 4px,#8ec4cc 0 5px,#9bcdca 0 6px,#a1d1c9 0 7px,#99ccca 0 8px,#a7d5c8 0 9px,#89bccc 0 10px,#94c8cb 0 11px,#8ec3cc 0 12px,#a8d6c8 0 13px,#c4e6c7 0 14px,#91c6cc 0 15px,#9dcfca 0 16px,#d9eec8 0 17px,#addac7 0 18px,#99cbca 0 19px,#8cc1cc 0 20px,#b2ddc7 0 21px,#97cbcb 0 22px,#9bcdca 0 23px,#acd9c8 0 24px,#a7d6c8 0 25px,#9accca 0 26px,#a1d1c9 0 27px,#8fc5cc 0 28px,#a9d7c8 0 29px,#b3dec6 0 30px,#96cacb 0 31px,#98cbcb 0 32px,#b4dec6 0 33px,#a9d7c8 0 34px,#97cacb 0 35px,#c5e6c7 0 36px,#a4d4c9 0 37px,#8bc0cc 0 38px,#a9d7c8 0 39px,#acd9c7 0 40px,#8ec4cc 0 41px,#a8d6c8 0 42px,#a3d3c9 0 43px,#bce3c6 0 44px,#a7d6c8 0 45px,#bfe4c6 0 46px,#d2ebc7 0 47px,#c8e7c7 0 48px,#9fd0c9 0 49px,#b5e0c6 0 50px,#98cbca 0 51px,#d4ecc7 0 52px,#c7e7c7 0 53px,#95c9cb 0 54px,#bce2c6 0 55px,#cde9c7 0 56px,#b7e0c6 0 57px,#b8e1c6 0 58px,#b5dfc6 0 59px,#aad8c8 0 60px,#9cceca 0 61px,#a1d1c9 0 62px,#aedac7 0 63px,#c5e6c7 0 64px,#c1e4c6 0 65px,#cce9c7 0 66px,#8ec4cc 0 67px,#a4d3c9 0 68px,#b0dcc7 0 69px,#b2ddc7 0 70px,#8ec4cc 0 71px,#96cacb 0 72px,#addac7 0 73px,#c7e7c7 0 74px,#97cacb 0 75px,#a7d6c8 0 76px,#8fc5cc 0 77px,#84b5cc 0 78px,#82b2cc 0 79px,#8bbfcc 0 80px,#77a0cb 0 81px,#7ba6cc 0 82px,#7399c8 0 83px,#79a4cc 0 84px,#7ba7cc 0 85px,#7daacc 0 86px,#97cacb 0 87px,#8ec4cc 0 88px,#88bacc 0 89px,#7ba7cc 0 90px,#83b2cc 0 91px,#84b4cc 0 92px,#7fadcc 0 93px,#7aa4cc 0 94px,#86b8cc 0 95px,#8cc1cc 0 96px,#96c9cb 0 97px,#7aa5cc 0 98px,#749cc9 0 99px,#759dca 0 100px,#7aa5cc 0 101px,#7196c7 0 102px,#78a2cc 0 103px,#7aa5cc 0 104px,#7eabcc 0 105px,#749ac9 0 106px,#6e90c4 0 107px,#7faecc 0 108px,#81b0cc 0 109px,#7197c7 0 110px,#6078b0 0 111px,#7eabcc 0 112px,#82b1cc 0 113px,#7094c6 0 114px,#6f92c5 0 115px,#769eca 0 116px,#6d8ec4 0 117px,#7094c6 0 118px,#78a2cc 0 119px,#749bc9 0 120px)"></div>
<div class="hm" style="left:31.65px;top:0;width:10.85px;height:120px;background:linear-gradient(#759cca 0 1px,#7195c6 0 2px,#7196c7 0 3px,#7ba6cc 0 4px,#8abecc 0 5px,#7196c7 0 7px,#7faccc 0 8px,#7195c6 0 9px,#739ac8 0 10px,#7ca8cc 0 11px,#93c7cb 0 12px,#87bacc 0 13px,#80aecc 0 14px,#82b2cc 0 15px,#7ba7cc 0 16px,#8dc3cc 0 17px,#81afcc 0 18px,#7298c8 0 19px,#8abecc 0 20px,#759dca 0 21px,#84b4cc 0 22px,#78a2cc 0 23px,#83b4cc 0 24px,#759cca 0 25px,#86b7cc 0 26px,#7daacc 0 27px,#82b1cc 0 28px,#7eaccc 0 30px,#7ca8cc 0 31px,#9bcdca 0 32px,#96c9cb 0 33px,#79a4cc 0 34px,#80aecc 0 35px,#769fcb 0 36px,#94c8cb 0 37px,#89bccc 0 38px,#83b4cc 0 39px,#749bc9 0 40px,#8bbfcc 0 41px,#8abecc 0 42px,#7fadcc 0 43px,#8fc4cc 0 44px,#8fc5cc 0 45px,#7daacc 0 46px,#b4dfc6 0 47px,#9bcdca 0 48px,#80afcc 0 49px,#9bcdca 0 50px,#91c6cb 0 51px,#8dc3cc 0 53px,#8bc0cc 0 54px,#a5d4c9 0 55px,#9fd0ca 0 56px,#88bacc 0 57px,#9fd0c9 0 58px,#abd8c8 0 59px,#9dcfca 0 60px,#8cc1cc 0 61px,#88bbcc 0 62px,#b7e0c6 0 64px,#b4dfc6 0 65px,#a0d1c9 0 66px,#a1d1c9 0 67px,#9fd0ca 0 68px,#dcf0c8 0 69px,#91c6cc 0 70px,#a2d2c9 0 72px,#a6d5c8 0 73px,#b1dcc7 0 74px,#afdbc7 0 75px,#8dc3cc 0 76px,#9dceca 0 77px,#9ecfca 0 78px,#8fc5cc 0 79px,#a9d7c8 0 81px,#97cacb 0 82px,#87b9cc 0 83px,#8cc2cc 0 84px,#99ccca 0 85px,#a1d1c9 0 86px,#b5dfc6 0 87px,#7ba6cc 0 88px,#87b9cc 0 89px,#96cacb 0 90px,#8abecc 0 91px,#8abdcc 0 92px,#8bc0cc 0 93px,#9ecfca 0 94px,#7fadcc 0 95px,#81b0cc 0 96px,#7daacc 0 97px,#7ca8cc 0 98px,#88bbcc 0 99px,#8abecc 0 100px,#89bccc 0 101px,#7eaccc 0 102px,#80afcc 0 103px,#79a3cc 0 104px,#81afcc 0 105px,#8cc1cc 0 106px,#7daacc 0 107px,#86b8cc 0 108px,#7ca8cc 0 109px,#83b2cc 0 110px,#78a2cc 0 111px,#80afcc 0 112px,#80aecc 0 113px,#769fcb 0 114px,#6a89c1 0 115px,#759cc9 0 116px,#77a0cb 0 117px,#759eca 0 118px,#6785bf 0 119px,#7094c6 0 120px)"></div>
<div class="hm" style="left:42.20px;top:0;width:10.85px;height:120px;background:linear-gradient(#6a8ac2 0 1px,#596da3 0 2px,#647fb8 0 3px,#6c8ec3 0 4px,#6784be 0 5px,#769fcb 0 6px,#6c8cc3 0 7px,#7399c8 0 8px,#6b8bc2 0 9px,#637db6 0 10px,#7297c7 0 11px,#647fb8 0 12px,#7da9cc 0 13px,#637eb7 0 14px,#7ba6cc 0 15px,#759cc9 0 16px,#6f93c5 0 17px,#77a0cb 0 18px,#739ac9 0 19px,#749bc9 0 20px,#7195c7 0 21px,#759cca 0 22px,#79a4cc 0 23px,#79a3cc 0 24px,#749ac9 0 25px,#7ba7cc 0 26px,#759dca 0 27px,#6682bc 0 28px,#83b4cc 0 29px,#78a1cc 0 30px,#7da9cc 0 31px,#7ba6cc 0 32px,#79a3cc 0 33px,#7fadcc 0 34px,#77a0cb 0 35px,#78a1cc 0 36px,#7ca8cc 0 37px,#7297c7 0 38px,#7ba7cc 0 39px,#83b3cc 0 40px,#8dc2cc 0 41px,#77a0cb 0 42px,#7faccc 0 43px,#89bdcc 0 44px,#8bbfcc 0 45px,#7eabcc 0 46px,#8abdcc 0 47px,#89bdcc 0 48px,#86b8cc 0 49px,#7fadcc 0 50px,#7ca7cc 0 51px,#81b0cc 0 52px,#8ec3cc 0 53px,#91c6cc 0 54px,#7eabcc 0 55px,#77a1cc 0 56px,#78a1cc 0 57px,#7daacc 0 58px,#86b8cc 0 59px,#8bc0cc 0 60px,#87bacc 0 61px,#82b1cc 0 62px,#94c8cb 0 63px,#83b3cc 0 64px,#95c9cb 0 65px,#acd9c8 0 66px,#a1d1c9 0 67px,#ddf0c8 0 68px,#cde9c7 0 69px,#b9e1c6 0 70px,#89bdcc 0 71px,#c7e7c7 0 72px,#c3e5c7 0 73px,#dff1c8 0 74px,#d7eec8 0 75px,#d6edc7 0 76px,#f4fad4 0 77px,#c9e8c7 0 78px,#b7e0c6 0 79px,#dcefc8 0 80px,#e1f2c8 0 81px,#dcefc8 0 82px,#c9e8c7 0 83px,#e4f3c9 0 84px,#dcefc8 0 85px,#d5edc7 0 86px,#eaf5cd 0 87px,#d1ebc7 0 88px,#d4ecc7 0 89px,#d1ebc7 0 90px,#f0f8d1 0 91px,#e8f5cc 0 92px,#e2f2c8 0 93px,#dbefc8 0 94px,#dff1c8 0 95px,#ebf6ce 0 96px,#f0f8d1 0 97px,#b3dec6 0 98px,#d5edc7 0 99px,#e8f5cc 0 100px,#def0c8 0 101px,#bfe4c6 0 102px,#a5d4c9 0 103px,#95c9cb 0 104px,#c2e5c7 0 105px,#bce3c6 0 106px,#8bbfcc 0 107px,#b8e1c6 0 108px,#8ec4cc 0 110px,#8abfcc 0 111px,#85b6cc 0 112px,#90c5cc 0 113px,#98cbca 0 114px,#9bcdca 0 115px,#81b0cc 0 116px,#7297c7 0 117px,#6e91c5 0 118px,#81b0cc 0 119px,#6b8bc2 0 120px)"></div>
<div class="hm" style="left:52.75px;top:0;width:10.85px;height:120px;background:linear-gradient(#5f77af 0 1px,#54659a 0 2px,#5e75ac 0 3px,#647fb8 0 4px,#6580ba 0 5px,#637db6 0 6px,#6784be 0 7px,#6682bc 0 8px,#627bb4 0 9px,#6a89c1 0 10px,#7094c6 0 11px,#7195c7 0 12px,#6a89c1 0 13px,#6079b1 0 14px,#6581bb 0 15px,#6e91c5 0 16px,#6885bf 0 17px,#7094c6 0 18px,#79a4cc 0 19px,#5d74ab 0 20px,#7298c8 0 21px,#56689e 0 22px,#637eb7 0 23px,#6f91c5 0 24px,#79a3cc 0 25px,#6e90c4 0 26px,#617ab2 0 27px,#596da3 0 28px,#6785bf 0 29px,#7399c8 0 30px,#6f93c6 0 31px,#6f92c5 0 32px,#6988c1 0 33px,#6c8ec3 0 34px,#6785bf 0 35px,#769eca 0 36px,#7297c7 0 37px,#6682bc 0 38px,#79a4cc 0 39px,#647fb8 0 40px,#617ab2 0 41px,#6b8cc3 0 42px,#7aa5cc 0 43px,#6f92c5 0 44px,#82b2cc 0 45px,#6f92c5 0 46px,#80afcc 0 47px,#7094c6 0 48px,#7195c6 0 49px,#7ba7cc 0 50px,#6d8fc4 0 51px,#759dca 0 52px,#88bacc 0 53px,#84b5cc 0 54px,#6c8cc3 0 55px,#81afcc 0 56px,#78a2cc 0 57px,#82b1cc 0 58px,#86b8cc 0 59px,#9dcfca 0 60px,#82b1cc 0 61px,#88bacc 0 62px,#81afcc 0 63px,#9cceca 0 64px,#b4dfc6 0 65px,#b3dec6 0 66px,#9fd0c9 0 67px,#bae2c6 0 68px,#b3dec6 0 69px,#bbe2c6 0 70px,#a5d4c9 0 71px,#b6e0c6 0 72px,#b5e0c6 0 73px,#e2f2c8 0 74px,#cfeac7 0 75px,#d7eec8 0 76px,#d3ecc7 0 77px,#e6f4ca 0 78px,#e2f2c8 0 79px,#e3f3c9 0 80px,#f0f8d2 0 81px,#c6e6c7 0 82px,#c0e4c6 0 83px,#daefc8 0 84px,#a0d0c9 0 85px,#c2e5c7 0 86px,#c4e6c7 0 87px,#b5e0c6 0 88px,#c3e5c7 0 89px,#e7f4cc 0 90px,#ceeac7 0 91px,#d7edc7 0 92px,#e4f3ca 0 93px,#e3f2c9 0 94px,#c7e7c7 0 95px,#b3dec6 0 96px,#cbe9c7 0 97px,#b8e1c6 0 98px,#a3d3c9 0 99px,#bae2c6 0 100px,#a6d5c8 0 101px,#92c7cb 0 102px,#b9e1c6 0 103px,#93c8cb 0 104px,#c7e7c7 0 105px,#b0dcc7 0 106px,#a9d7c8 0 107px,#9bcdca 0 108px,#91c6cc 0 109px,#8dc3cc 0 110px,#81b0cc 0 111px,#8ec4cc 0 112px,#96c9cb 0 113px,#85b6cc 0 114px,#8abecc 0 115px,#86b8cc 0 116px,#769fcb 0 117px,#8dc2cc 0 118px,#759dca 0 119px,#95c9cb 0 120px)"></div>
<div class="hm" style="left:63.30px;top:0;width:10.85px;height:120px;background:linear-gradient(#6a8ac2 0 1px,#7297c7 0 2px,#6c8dc3 0 3px,#5b70a7 0 4px,#6886c0 0 5px,#5d73aa 0 6px,#6d90c4 0 7px,#6c8dc3 0 8px,#5e75ac 0 9px,#5d74ab 0 10px,#5c72a9 0 11px,#7094c6 0 12px,#6683bd 0 13px,#617ab3 0 14px,#6079b1 0 15px,#5d73aa 0 16px,#6b8bc2 0 17px,#749bc9 0 18px,#6d8fc4 0 19px,#6e91c5 0 20px,#6b8bc2 0 21px,#637db6 0 22px,#546499 0 23px,#6a89c1 0 24px,#6785bf 0 25px,#6a89c1 0 26px,#7196c7 0 27px,#5b70a7 0 28px,#6581ba 0 29px,#617ab2 0 30px,#6d8fc4 0 31px,#637db6 0 32px,#6e91c5 0 33px,#617ab2 0 34px,#6987c1 0 35px,#5e75ad 0 36px,#6e91c5 0 37px,#6784be 0 38px,#6582bb 0 39px,#637eb7 0 40px,#5c72aa 0 41px,#6582bb 0 42px,#6d8ec3 0 43px,#6886c0 0 44px,#6e90c4 0 45px,#6988c1 0 46px,#7094c6 0 47px,#6b8bc2 0 48px,#5f77af 0 49px,#7ca9cc 0 50px,#6f92c5 0 51px,#6988c1 0 52px,#77a0cb 0 53px,#6e91c5 0 54px,#6886c0 0 55px,#7ba7cc 0 56px,#7297c7 0 57px,#7195c7 0 58px,#7ca8cc 0 59px,#8dc2cc 0 60px,#7faccc 0 61px,#79a4cc 0 62px,#7ba6cc 0 63px,#749ac9 0 64px,#79a3cc 0 65px,#9acdca 0 66px,#7aa6cc 0 67px,#8dc2cc 0 68px,#88bbcc 0 69px,#9accca 0 70px,#9dceca 0 71px,#9acdca 0 72px,#96cacb 0 73px,#aad8c8 0 74px,#89bccc 0 75px,#9dceca 0 76px,#b7e1c6 0 77px,#b1dcc7 0 78px,#88bbcc 0 79px,#c4e6c7 0 80px,#b1ddc7 0 82px,#b4dfc6 0 83px,#b8e1c6 0 84px,#b0dcc7 0 85px,#8cc1cc 0 86px,#c3e5c7 0 87px,#b5dfc6 0 88px,#addac7 0 89px,#a3d3c9 0 90px,#d4ecc7 0 91px,#c2e5c7 0 92px,#cfeac7 0 93px,#b8e1c6 0 94px,#acd9c7 0 95px,#96cacb 0 96px,#d6edc7 0 97px,#8abecc 0 98px,#a4d3c9 0 99px,#bce2c6 0 100px,#bae2c6 0 101px,#b6e0c6 0 102px,#cbe9c7 0 103px,#a1d1c9 0 104px,#c4e6c7 0 105px,#c2e5c7 0 106px,#a0d1c9 0 107px,#abd9c8 0 108px,#bbe2c6 0 109px,#a4d3c9 0 110px,#a1d1c9 0 111px,#8ec3cc 0 112px,#96cacb 0 113px,#a6d5c8 0 114px,#98cbcb 0 115px,#86b7cc 0 116px,#8dc2cc 0 117px,#83b3cc 0 118px,#85b6cc 0 119px,#8dc3cc 0 120px)"></div>
<div class="hm" style="left:73.85px;top:0;width:10.85px;height:120px;background:linear-gradient(#81afcc 0 1px,#6988c1 0 2px,#6e91c5 0 3px,#6d8fc4 0 4px,#7093c6 0 5px,#6d8fc4 0 6px,#7094c6 0 7px,#6988c1 0 8px,#6d8ec3 0 9px,#769fcb 0 10px,#769eca 0 11px,#6e91c5 0 12px,#7399c8 0 13px,#7daacc 0 14px,#7eabcc 0 15px,#6885bf 0 16px,#759dca 0 17px,#6079b1 0 18px,#7eaccc 0 19px,#7399c8 0 21px,#6d8ec3 0 22px,#6480b9 0 23px,#6784be 0 24px,#769eca 0 25px,#6683bd 0 26px,#7ba6cc 0 27px,#6988c1 0 28px,#6d8fc4 0 29px,#6987c0 0 30px,#77a0cb 0 31px,#6988c1 0 32px,#7197c7 0 33px,#7095c6 0 34px,#7094c6 0 35px,#769fcb 0 36px,#6d8ec3 0 37px,#7195c6 0 38px,#6f91c5 0 39px,#5d74ac 0 40px,#78a2cc 0 41px,#7196c7 0 42px,#6f92c5 0 44px,#7196c7 0 45px,#6683bd 0 46px,#749bc9 0 47px,#80afcc 0 48px,#77a0cb 0 49px,#86b8cc 0 50px,#749bc9 0 51px,#77a0cb 0 52px,#759dca 0 53px,#7297c7 0 54px,#749cc9 0 55px,#6c8cc3 0 56px,#6f92c5 0 57px,#81b0cc 0 58px,#7daacc 0 59px,#7aa5cc 0 60px,#6b8bc2 0 61px,#7da9cc 0 62px,#7daacc 0 63px,#7eaccc 0 64px,#7ba6cc 0 65px,#83b4cc 0 66px,#7ca7cc 0 67px,#95c9cb 0 68px,#98cbcb 0 69px,#93c8cb 0 70px,#81b0cc 0 71px,#92c7cb 0 72px,#93c7cb 0 73px,#9acdca 0 74px,#86b7cc 0 75px,#c7e7c7 0 76px,#b1dcc7 0 77px,#abd8c8 0 78px,#9ed0ca 0 79px,#9bcdca 0 80px,#89bccc 0 81px,#99ccca 0 83px,#b5dfc6 0 84px,#c8e8c7 0 85px,#bbe2c6 0 86px,#eef7d0 0 87px,#b2ddc7 0 88px,#c4e6c7 0 89px,#bde3c6 0 90px,#e7f4cb 0 91px,#e3f2c9 0 92px,#d1ebc7 0 93px,#dbefc8 0 94px,#c7e7c7 0 95px,#cae8c7 0 96px,#d0ebc7 0 97px,#b3dec6 0 98px,#ddf0c8 0 99px,#cfeac7 0 100px,#e3f3c9 0 101px,#d1ebc7 0 102px,#bbe2c6 0 103px,#cfeac7 0 104px,#afdbc7 0 105px,#c2e5c7 0 106px,#aedac7 0 107px,#c0e4c6 0 108px,#b6e0c6 0 109px,#a2d2c9 0 110px,#abd8c8 0 111px,#c1e4c6 0 112px,#c5e6c7 0 113px,#8fc4cc 0 114px,#aedac7 0 115px,#b1dcc7 0 116px,#a7d5c8 0 117px,#c8e7c7 0 118px,#a1d2c9 0 119px,#a6d5c8 0 120px)"></div>
<div class="hm" style="left:84.40px;top:0;width:10.85px;height:120px;background:linear-gradient(#7daacc 0 1px,#7da9cc 0 2px,#769eca 0 4px,#80aecc 0 5px,#77a0cb 0 6px,#7ca9cc 0 7px,#7196c7 0 8px,#7da9cc 0 9px,#7aa5cc 0 10px,#769eca 0 11px,#7ba7cc 0 12px,#89bccc 0 13px,#6886c0 0 14px,#6d8ec3 0 15px,#86b7cc 0 16px,#7eabcc 0 17px,#8abecc 0 18px,#79a3cc 0 19px,#86b7cc 0 20px,#739ac8 0 21px,#759cc9 0 22px,#6b8cc2 0 23px,#7297c7 0 24px,#7ba6cc 0 25px,#7195c7 0 26px,#7faccc 0 27px,#749bc9 0 28px,#7aa6cc 0 29px,#83b3cc 0 30px,#769eca 0 31px,#8dc3cc 0 32px,#7ba7cc 0 33px,#759dca 0 35px,#85b6cc 0 36px,#80aecc 0 37px,#769fcb 0 38px,#7298c8 0 39px,#6a8ac2 0 40px,#8cc0cc 0 41px,#749cc9 0 42px,#7ba6cc 0 43px,#77a1cb 0 44px,#87b9cc 0 45px,#759dca 0 46px,#7aa4cc 0 47px,#7fadcc 0 48px,#7ca8cc 0 49px,#84b5cc 0 50px,#6f93c5 0 51px,#84b5cc 0 52px,#86b8cc 0 53px,#78a2cc 0 55px,#6785bf 0 56px,#7298c8 0 57px,#7eabcc 0 58px,#749bc9 0 59px,#7aa5cc 0 60px,#749cc9 0 61px,#7ca7cc 0 62px,#78a1cc 0 63px,#8bc0cc 0 64px,#8dc2cc 0 65px,#86b8cc 0 66px,#88bbcc 0 67px,#88bacc 0 68px,#7da9cc 0 69px,#7faccc 0 70px,#83b3cc 0 71px,#88bbcc 0 72px,#a7d5c8 0 73px,#b6e0c6 0 74px,#88bbcc 0 75px,#aedac7 0 76px,#95c9cb 0 77px,#8fc4cc 0 78px,#87b9cc 0 79px,#95c9cb 0 80px,#96c9cb 0 81px,#a2d2c9 0 82px,#aedac7 0 83px,#a0d0c9 0 84px,#91c6cc 0 85px,#8dc2cc 0 86px,#96cacb 0 87px,#a9d7c8 0 88px,#aad8c8 0 89px,#92c7cb 0 90px,#b5e0c6 0 91px,#82b2cc 0 92px,#91c6cb 0 93px,#c2e5c7 0 94px,#a3d3c9 0 95px,#81afcc 0 96px,#bde3c6 0 97px,#89bccc 0 98px,#a4d3c9 0 99px,#81b0cc 0 100px,#94c8cb 0 101px,#9acdca 0 102px,#a9d7c8 0 103px,#91c6cb 0 104px,#bde3c6 0 105px,#99ccca 0 106px,#77a0cb 0 107px,#8dc2cc 0 108px,#99cbca 0 109px,#9acdca 0 110px,#85b6cc 0 111px,#99ccca 0 112px,#a6d5c8 0 113px,#82b2cc 0 114px,#8bbfcc 0 115px,#9fd0c9 0 116px,#7ba7cc 0 117px,#96cacb 0 118px,#84b5cc 0 119px,#95c9cb 0 120px)"></div>
<div class="hm" style="left:94.95px;top:0;width:10.85px;height:120px;background:linear-gradient(#79a4cc 0 1px,#7ba7cc 0 2px,#87b9cc 0 3px,#7eabcc 0 4px,#8bbfcc 0 5px,#84b4cc 0 6px,#7399c8 0 7px,#8cc2cc 0 8px,#8abecc 0 9px,#88bbcc 0 10px,#89bccc 0 11px,#7aa5cc 0 12px,#a7d6c8 0 13px,#7297c7 0 14px,#78a1cc 0 15px,#8abecc 0 16px,#8dc3cc 0 17px,#97cacb 0 18px,#87b8cc 0 19px,#85b6cc 0 20px,#81b1cc 0 21px,#83b3cc 0 22px,#77a0cb 0 23px,#8ec3cc 0 24px,#82b1cc 0 25px,#8abdcc 0 26px,#8cc0cc 0 27px,#80afcc 0 28px,#87bacc 0 29px,#81b0cc 0 30px,#97cacb 0 31px,#8dc2cc 0 32px,#90c6cc 0 33px,#97cbcb 0 34px,#8cc1cc 0 35px,#8bc0cc 0 36px,#8bbfcc 0 37px,#a2d2c9 0 38px,#8bc0cc 0 39px,#8cc1cc 0 40px,#94c8cb 0 41px,#84b4cc 0 42px,#7aa6cc 0 43px,#89bccc 0 44px,#8abdcc 0 45px,#84b5cc 0 46px,#81b0cc 0 47px,#9accca 0 48px,#7ba6cc 0 49px,#9bcdca 0 50px,#88bbcc 0 51px,#84b4cc 0 52px,#8cc0cc 0 53px,#7399c8 0 54px,#7ca9cc 0 55px,#80aecc 0 56px,#769eca 0 57px,#81b0cc 0 58px,#8abecc 0 59px,#7eabcc 0 60px,#749cc9 0 61px,#7aa4cc 0 62px,#8fc5cc 0 63px,#769eca 0 64px,#88bacc 0 65px,#7aa5cc 0 66px,#7095c6 0 67px,#7196c7 0 68px,#90c5cc 0 69px,#82b1cc 0 70px,#6d8ec3 0 71px,#739ac8 0 72px,#82b2cc 0 73px,#a8d6c8 0 74px,#749cc9 0 75px,#7eabcc 0 76px,#9dceca 0 77px,#6581ba 0 78px,#8ec4cc 0 79px,#81b1cc 0 80px,#7daacc 0 81px,#7ba7cc 0 82px,#749cc9 0 83px,#81b0cc 0 84px,#88bbcc 0 85px,#84b4cc 0 86px,#a8d6c8 0 87px,#88bbcc 0 88px,#7094c6 0 89px,#87b9cc 0 90px,#8cc0cc 0 91px,#759dca 0 92px,#77a0cb 0 93px,#89bccc 0 94px,#7daacc 0 95px,#81b1cc 0 96px,#92c7cb 0 97px,#759cca 0 98px,#80aecc 0 99px,#769eca 0 100px,#84b5cc 0 101px,#84b4cc 0 102px,#7fadcc 0 103px,#80aecc 0 104px,#88bbcc 0 105px,#8cc1cc 0 106px,#7ba7cc 0 107px,#7eabcc 0 108px,#749bc9 0 109px,#7ba7cc 0 110px,#88bbcc 0 111px,#7aa6cc 0 112px,#7094c6 0 113px,#80aecc 0 114px,#82b2cc 0 115px,#7ca8cc 0 116px,#8dc3cc 0 117px,#7faecc 0 118px,#769eca 0 119px,#8bbfcc 0 120px)"></div>
<div class="hm" style="left:105.50px;top:0;width:10.85px;height:120px;background:linear-gradient(#83b3cc 0 1px,#8dc3cc 0 2px,#a2d2c9 0 3px,#90c6cc 0 4px,#86b7cc 0 5px,#77a1cc 0 6px,#78a2cc 0 7px,#84b5cc 0 8px,#89bccc 0 9px,#8abdcc 0 10px,#7eabcc 0 11px,#8cc2cc 0 12px,#8bc0cc 0 13px,#7da9cc 0 14px,#90c5cc 0 15px,#8cc2cc 0 16px,#8cc1cc 0 17px,#92c7cb 0 18px,#8ec4cc 0 19px,#92c7cb 0 20px,#89bccc 0 21px,#79a4cc 0 22px,#7ba7cc 0 23px,#a5d4c9 0 24px,#88bbcc 0 25px,#87bacc 0 26px,#8cc1cc 0 27px,#92c7cb 0 28px,#8abdcc 0 29px,#85b6cc 0 30px,#99cbca 0 31px,#8cc0cc 0 32px,#b5dfc6 0 33px,#a4d4c9 0 34px,#89bccc 0 35px,#88bbcc 0 36px,#92c7cb 0 37px,#9bcdca 0 38px,#8ec4cc 0 39px,#7fadcc 0 40px,#89bccc 0 41px,#8ec4cc 0 42px,#93c7cb 0 43px,#8abecc 0 44px,#88bbcc 0 45px,#80aecc 0 46px,#9ed0ca 0 47px,#9bcdca 0 48px,#8abdcc 0 49px,#97cacb 0 50px,#7daacc 0 51px,#81b0cc 0 52px,#b1dcc7 0 53px,#7daacc 0 54px,#77a1cb 0 55px,#78a2cc 0 56px,#83b3cc 0 57px,#8abecc 0 58px,#7aa5cc 0 59px,#7fadcc 0 60px,#80aecc 0 61px,#90c6cc 0 62px,#93c8cb 0 63px,#82b1cc 0 64px,#88bbcc 0 65px,#83b3cc 0 66px,#7196c7 0 67px,#759cca 0 68px,#8bbfcc 0 69px,#769fcb 0 70px,#637eb6 0 71px,#6f92c5 0 72px,#78a2cc 0 73px,#7399c8 0 74px,#769fcb 0 75px,#7ba7cc 0 76px,#7399c8 0 77px,#617ab3 0 78px,#6582bb 0 79px,#7093c6 0 80px,#6987c0 0 81px,#7197c7 0 82px,#739ac8 0 83px,#7aa5cc 0 84px,#6d8ec4 0 85px,#6887c0 0 86px,#7298c8 0 87px,#6d8ec3 0 88px,#7094c6 0 89px,#6885bf 0 90px,#77a0cb 0 91px,#7faccc 0 92px,#6683bd 0 93px,#7eabcc 0 94px,#7297c7 0 96px,#7298c8 0 97px,#7094c6 0 98px,#6d8fc4 0 99px,#769fcb 0 100px,#7aa6cc 0 101px,#7aa5cc 0 102px,#739ac9 0 103px,#7ba7cc 0 104px,#749bc9 0 105px,#7ca8cc 0 106px,#7ca9cc 0 107px,#80aecc 0 108px,#7da9cc 0 109px,#6a89c1 0 110px,#6f92c5 0 111px,#7aa4cc 0 112px,#86b7cc 0 113px,#6c8dc3 0 114px,#7ba7cc 0 115px,#79a4cc 0 116px,#77a0cb 0 117px,#7298c8 0 118px,#739ac8 0 119px,#81b0cc 0 120px)"></div>
</div>
<svg width="550" height="518" viewBox="0 0 550 518">
<!-- Panel A labels -->
<text x="-0.8" y="15.5" style="font-size:14.5px">A</text>
<text x="148.3" y="25.5" style="font-size:12.2px" text-anchor="middle">SW480</text>
<text x="422.1" y="25.7" style="font-size:12.2px" text-anchor="middle">SW620</text>
<!-- header bars -->
<rect x="48.4" y="35" width="95.1" height="16.7" fill="#4cae4c"/>
<text x="96" y="46.6" class="bar">Microarray expression</text>
<rect x="152.3" y="35" width="116.2" height="16.7" fill="#d1528f"/>
<text x="210.4" y="46.6" class="bar">RNA-seq expression</text>
<rect x="322" y="35.2" width="95.6" height="16.6" fill="#4cae4c"/>
<text x="369.8" y="46.8" class="bar">Microarray expression</text>
<rect x="426.5" y="35" width="116.1" height="16.7" fill="#d1528f"/>
<text x="484.5" y="46.6" class="bar">RNA-seq expression</text>
<!-- concatenated bars -->
<rect x="28.5" y="57.8" width="14.3" height="216" fill="#4a74ae"/>
<text transform="translate(39,165.5) rotate(-90)" style="font-size:9.8px;fill:#fff;stroke:#fff;stroke-width:0.15px" text-anchor="middle">Concatenated</text>
<text transform="translate(20.6,166.2) rotate(-90)" style="font-size:10.5px" text-anchor="middle">3416 24-h rhythmic genes</text>
<rect x="302" y="57.9" width="14.6" height="119.7" fill="#4a74ae"/>
<text transform="translate(313,119) rotate(-90)" style="font-size:9.6px;fill:#fff;stroke:#fff;stroke-width:0.15px" text-anchor="middle">Concatenated</text>
<text transform="translate(295.1,118.2) rotate(-90)" style="font-size:10.3px" text-anchor="middle">1892 24-h rhythmic genes</text>
<!-- boxes -->
<g fill="none" stroke="#141414" stroke-width="1.4">
<rect x="91.1" y="57.5" width="52.5" height="233.3"/>
<rect x="152.4" y="57.5" width="53.3" height="233.3"/>
<rect x="365.2" y="57.8" width="52.3" height="135.9"/>
<rect x="426.4" y="57.8" width="52.9" height="135.9"/>
</g>
<!-- tick labels SW480 -->
<g class="ax">
<text x="53.9" y="287.6">0</text>
<text x="75" y="287.6">6</text>
<text x="97.7" y="287.6">12</text>
<text x="117.6" y="287.6">18</text>
<text x="135.3" y="287.6">24</text>
<text x="159.9" y="287.6">12</text>
<text x="179.5" y="287.6">18</text>
<text x="196.5" y="287.6">24</text>
<text x="220.8" y="287.6">30</text>
<text x="242" y="287.6">36</text>
<text x="262.5" y="287.6">42</text>
<!-- SW620 -->
<text x="327.8" y="191" >0</text>
<text x="348.6" y="191">6</text>
<text x="374" y="191">12</text>
<text x="391.7" y="191">18</text>
<text x="409" y="191">24</text>
<text x="433.5" y="191">12</text>
<text x="453.1" y="191">18</text>
<text x="470.8" y="191">24</text>
<text x="495.2" y="191">30</text>
<text x="515.7" y="191">36</text>
<text x="537" y="191">42</text>
</g>
<text x="79.5" y="304.6" class="ttl">time since synchronization (h)</text>
<text x="353.4" y="208.3" class="ttl">time since synchronization (h)</text>
<!-- colorbar -->
<defs><linearGradient id="cb" x1="0" x2="1" y1="0" y2="0">
<stop offset="0" stop-color="#fbfbcf"/><stop offset="0.125" stop-color="#e9f4b4"/><stop offset="0.25" stop-color="#c4e6b6"/><stop offset="0.375" stop-color="#86cdbc"/><stop offset="0.5" stop-color="#4db5c3"/><stop offset="0.625" stop-color="#3590bf"/><stop offset="0.75" stop-color="#2f62a6"/><stop offset="0.875" stop-color="#2c3f8c"/><stop offset="1" stop-color="#1d2a5e"/>
</linearGradient></defs>
<rect x="358.1" y="227.1" width="127.8" height="11.9" fill="url(#cb)" stroke="#333" stroke-width="0.8"/>
<g stroke="#333" stroke-width="0.9"><line x1="358.1" x2="358.1" y1="239" y2="242"/><line x1="422" x2="422" y1="239" y2="242"/><line x1="485.9" x2="485.9" y1="239" y2="242"/></g>
<g class="ax"><text x="357.5" y="255">-1</text><text x="422" y="255">0</text><text x="486" y="255">1</text></g>
<text x="421.7" y="268.2" class="ttl" text-anchor="middle">normalized expression (a. u.)</text>
<!-- Panel B -->
<text x="-1.2" y="324.4" style="font-size:14.5px">B</text>
<line x1="198.3" x2="210" y1="335.9" y2="335.9" stroke="#3fae49" stroke-width="1.6"/>
<text x="216.3" y="339.6" class="ttl">microarray</text>
<line x1="281.7" x2="292.6" y1="335.9" y2="335.9" stroke="#d6458c" stroke-width="1.6"/>
<text x="299.2" y="339.6" class="ttl">RNA-seq</text>
<text transform="translate(520.3,385.4) rotate(90) scale(1,1.12)" style="font-size:10.2px" text-anchor="middle">SW480</text>
<text transform="translate(520.3,457.4) rotate(90) scale(1,1.12)" style="font-size:10.2px" text-anchor="middle">SW620</text>
<text transform="translate(20.6,421.5) rotate(-90)" class="ttl" text-anchor="middle">normalized expression</text>
<text x="200.2" y="507.2" class="ttl">time since synchronization (h)</text>
<polygon points="41.0,391.8 41.5,390.5 42.2,388.8 43.0,386.7 43.8,384.6 44.5,382.5 45.2,380.2 45.9,377.9 46.6,375.8 47.3,373.7 47.9,371.7 48.6,369.9 49.3,368.7 50.0,367.9 50.7,367.7 51.4,367.8 52.1,368.2 52.8,369.1 53.5,370.3 54.2,371.8 54.9,373.5 55.6,375.5 56.3,377.8 57.0,380.1 57.6,382.4 58.3,384.8 59.0,387.3 59.7,389.5 60.4,391.3 61.1,392.5 61.8,393.4 62.5,393.9 63.2,394.0 63.9,393.7 64.6,393.1 65.3,392.2 66.0,390.9 66.7,389.1 67.3,386.8 68.0,384.4 68.7,382.0 69.4,379.4 70.1,376.7 70.8,374.2 71.5,372.2 72.2,370.9 72.9,369.9 73.6,369.5 74.3,369.5 75.0,370.2 75.7,371.5 76.3,373.1 77.0,374.9 77.8,377.0 78.6,379.4 79.3,381.7 79.8,383.3 79.8,391.3 79.3,389.7 78.6,387.4 77.8,385.0 77.0,382.9 76.3,381.1 75.7,379.5 75.0,378.2 74.3,377.5 73.6,377.5 72.9,377.9 72.2,378.9 71.5,380.2 70.8,382.2 70.1,384.7 69.4,387.4 68.7,390.0 68.0,392.4 67.3,394.8 66.7,397.1 66.0,398.9 65.3,400.2 64.6,401.1 63.9,401.7 63.2,402.0 62.5,401.8 61.8,401.4 61.1,400.5 60.4,399.3 59.7,397.5 59.0,395.2 58.3,392.8 57.6,390.4 57.0,388.1 56.3,385.8 55.6,383.5 54.9,381.5 54.2,379.8 53.5,378.3 52.8,377.1 52.1,376.2 51.4,375.8 50.7,375.7 50.0,375.9 49.3,376.7 48.6,377.9 47.9,379.7 47.3,381.7 46.6,383.8 45.9,385.9 45.2,388.2 44.5,390.5 43.8,392.6 43.0,394.7 42.2,396.7 41.5,398.5 41.0,399.7" fill="#afbde3"/>
<polyline points="41.0,394.0 43.8,386.9 46.6,379.8 49.3,372.2 52.1,374.4 54.9,382.4 57.6,390.4 60.4,395.3 63.2,394.9" fill="none" stroke="#3fae49" stroke-width="1.7" stroke-linejoin="round"/>
<polyline points="52.1,369.1 54.9,374.4 57.6,384.2 60.4,392.2 63.2,393.5 66.0,398.9 68.7,385.1 71.5,373.5 74.3,375.3 77.0,391.3 79.8,399.3" fill="none" stroke="#d6458c" stroke-width="1.7" stroke-linejoin="round"/>
<rect x="39.30" y="364.30" width="42.50" height="42.20" fill="none" stroke="#3a3a3a" stroke-width="0.9"/>
<text x="60.55" y="361.00" class="gn">ARNTL</text>
<line x1="35.90" x2="39.30" y1="366.00" y2="366.00" stroke="#3a3a3a" stroke-width="0.9"/>
<text x="33.80" y="368.90" class="tk" text-anchor="end">1</text>
<line x1="35.90" x2="39.30" y1="385.53" y2="385.53" stroke="#3a3a3a" stroke-width="0.9"/>
<text x="33.80" y="388.43" class="tk" text-anchor="end">0</text>
<line x1="35.90" x2="39.30" y1="405.07" y2="405.07" stroke="#3a3a3a" stroke-width="0.9"/>
<text x="33.80" y="407.97" class="tk" text-anchor="end">-1</text>
<polygon points="89.0,385.0 89.5,385.2 90.2,385.5 91.0,385.8 91.8,386.0 92.5,386.2 93.2,386.4 93.9,386.5 94.6,386.6 95.3,386.5 95.9,386.4 96.6,386.2 97.3,386.0 98.0,385.8 98.7,385.6 99.4,385.3 100.1,385.0 100.8,384.6 101.5,384.2 102.2,383.7 102.9,383.4 103.6,383.1 104.3,382.9 105.0,382.8 105.6,382.8 106.3,382.9 107.0,383.1 107.7,383.3 108.4,383.6 109.1,384.0 109.8,384.5 110.5,385.0 111.2,385.4 111.9,385.7 112.6,386.0 113.3,386.2 114.0,386.3 114.7,386.2 115.3,385.8 116.0,385.5 116.7,385.4 117.4,385.7 118.1,386.1 118.8,386.6 119.5,386.8 120.2,386.6 120.9,386.2 121.6,385.6 122.3,385.2 123.0,384.7 123.7,384.2 124.3,383.7 125.0,383.4 125.8,383.3 126.6,383.4 127.3,383.6 127.8,383.6 127.8,385.6 127.3,385.5 126.6,385.4 125.8,385.3 125.0,385.4 124.3,385.7 123.7,386.2 123.0,386.7 122.3,387.2 121.6,387.6 120.9,388.1 120.2,388.6 119.5,388.8 118.8,388.6 118.1,388.1 117.4,387.7 116.7,387.4 116.0,387.5 115.3,387.8 114.7,388.2 114.0,388.3 113.3,388.2 112.6,388.0 111.9,387.7 111.2,387.4 110.5,387.0 109.8,386.5 109.1,386.0 108.4,385.6 107.7,385.3 107.0,385.1 106.3,384.9 105.6,384.8 105.0,384.8 104.3,384.9 103.6,385.1 102.9,385.4 102.2,385.7 101.5,386.2 100.8,386.6 100.1,387.0 99.4,387.3 98.7,387.6 98.0,387.8 97.3,388.0 96.6,388.2 95.9,388.4 95.3,388.5 94.6,388.6 93.9,388.5 93.2,388.4 92.5,388.2 91.8,388.0 91.0,387.8 90.2,387.5 89.5,387.2 89.0,387.0" fill="#afbde3"/>
<polyline points="89.0,385.8 91.8,387.1 94.6,387.8 97.3,387.3 100.1,385.8 102.9,384.2 105.6,383.8 108.4,384.6 111.2,386.4" fill="none" stroke="#3fae49" stroke-width="1.7" stroke-linejoin="round"/>
<polyline points="100.1,387.3 102.9,383.3 105.6,383.1 108.4,384.2 111.2,386.4 114.0,387.3 116.7,386.2 119.5,387.9 122.3,386.0 125.0,384.0 127.8,384.6" fill="none" stroke="#d6458c" stroke-width="1.7" stroke-linejoin="round"/>
<rect x="87.30" y="364.30" width="42.50" height="42.20" fill="none" stroke="#3a3a3a" stroke-width="0.9"/>
<text x="108.55" y="361.00" class="gn">MKS1</text>
<polygon points="137.0,386.4 137.5,386.1 138.2,385.7 139.0,385.2 139.8,384.6 140.5,384.1 141.2,383.5 141.9,382.9 142.6,382.4 143.3,382.0 143.9,381.5 144.6,381.2 145.3,380.9 146.0,380.7 146.7,380.6 147.4,380.5 148.1,380.7 148.8,381.0 149.5,381.6 150.2,382.2 150.9,382.9 151.6,383.5 152.3,384.2 153.0,384.9 153.6,385.5 154.3,386.1 155.0,386.7 155.7,387.1 156.4,387.3 157.1,387.2 157.8,386.9 158.5,386.4 159.2,386.0 159.9,385.5 160.6,384.9 161.3,384.3 162.0,383.8 162.7,383.3 163.3,382.8 164.0,382.4 164.7,382.0 165.4,381.7 166.1,381.4 166.8,381.2 167.5,381.1 168.2,381.2 168.9,381.4 169.6,381.7 170.3,382.0 171.0,382.4 171.7,382.8 172.3,383.3 173.0,383.8 173.8,384.2 174.6,384.5 175.3,384.9 175.8,385.1 175.8,387.8 175.3,387.5 174.6,387.2 173.8,386.8 173.0,386.4 172.3,386.0 171.7,385.5 171.0,385.0 170.3,384.6 169.6,384.3 168.9,384.0 168.2,383.8 167.5,383.8 166.8,383.8 166.1,384.0 165.4,384.3 164.7,384.6 164.0,385.0 163.3,385.5 162.7,385.9 162.0,386.4 161.3,387.0 160.6,387.6 159.9,388.1 159.2,388.6 158.5,389.1 157.8,389.6 157.1,389.9 156.4,390.0 155.7,389.8 155.0,389.3 154.3,388.8 153.6,388.2 153.0,387.6 152.3,386.9 151.6,386.2 150.9,385.5 150.2,384.9 149.5,384.2 148.8,383.7 148.1,383.3 147.4,383.2 146.7,383.2 146.0,383.4 145.3,383.6 144.6,383.9 143.9,384.2 143.3,384.6 142.6,385.1 141.9,385.6 141.2,386.2 140.5,386.8 139.8,387.3 139.0,387.8 138.2,388.3 137.5,388.8 137.0,389.1" fill="#afbde3"/>
<polyline points="137.0,387.3 139.8,385.3 142.6,383.3 145.3,381.5 148.1,382.0 150.9,385.5 153.6,387.8 156.4,388.6 159.2,386.9" fill="none" stroke="#3fae49" stroke-width="1.7" stroke-linejoin="round"/>
<polyline points="148.1,378.9 150.9,384.6 153.6,388.2 156.4,390.4 159.2,387.8 162.0,385.1 164.7,384.2 167.5,384.9 170.3,384.2 173.0,385.3 175.8,384.2" fill="none" stroke="#d6458c" stroke-width="1.7" stroke-linejoin="round"/>
<rect x="135.30" y="364.30" width="42.50" height="42.20" fill="none" stroke="#3a3a3a" stroke-width="0.9"/>
<text x="156.55" y="361.00" class="gn">MSRB1</text>
<polygon points="185.0,377.7 185.5,379.7 186.2,382.6 187.0,385.7 187.8,388.3 188.5,390.3 189.2,391.9 189.9,393.2 190.6,394.1 191.3,394.5 191.9,394.5 192.6,394.0 193.3,393.2 194.0,391.8 194.7,390.0 195.4,387.8 196.1,385.6 196.8,383.2 197.5,380.6 198.2,378.0 198.9,375.9 199.6,374.2 200.3,372.7 201.0,371.7 201.6,371.0 202.3,370.8 203.0,370.9 203.7,371.4 204.4,372.3 205.1,373.7 205.8,375.5 206.5,377.5 207.2,379.4 207.9,381.4 208.6,383.5 209.3,385.6 210.0,387.4 210.7,389.2 211.3,391.0 212.0,392.4 212.7,393.2 213.4,393.2 214.1,392.5 214.8,391.4 215.5,390.1 216.2,388.4 216.9,386.3 217.6,384.1 218.3,382.1 219.0,380.3 219.7,378.7 220.3,377.1 221.0,375.9 221.8,374.9 222.6,374.2 223.3,373.6 223.8,373.2 223.8,379.2 223.3,379.6 222.6,380.2 221.8,380.9 221.0,381.9 220.3,383.1 219.7,384.6 219.0,386.3 218.3,388.1 217.6,390.1 216.9,392.3 216.2,394.4 215.5,396.1 214.8,397.4 214.1,398.5 213.4,399.2 212.7,399.2 212.0,398.4 211.3,397.0 210.7,395.2 210.0,393.4 209.3,391.6 208.6,389.5 207.9,387.4 207.2,385.4 206.5,383.4 205.8,381.5 205.1,379.7 204.4,378.3 203.7,377.4 203.0,376.9 202.3,376.7 201.6,377.0 201.0,377.7 200.3,378.7 199.6,380.2 198.9,381.9 198.2,384.0 197.5,386.6 196.8,389.2 196.1,391.6 195.4,393.8 194.7,396.0 194.0,397.8 193.3,399.2 192.6,400.0 191.9,400.5 191.3,400.5 190.6,400.1 189.9,399.2 189.2,397.9 188.5,396.2 187.8,394.3 187.0,391.7 186.2,388.6 185.5,385.7 185.0,383.6" fill="#afbde3"/>
<polyline points="185.0,374.9 187.8,397.1 190.6,399.3 193.3,394.9 196.1,389.5 198.9,376.2 201.6,373.5 204.4,376.2 207.2,386.0" fill="none" stroke="#3fae49" stroke-width="1.7" stroke-linejoin="round"/>
<polyline points="196.1,390.4 198.9,377.1 201.6,375.3 204.4,374.9 207.2,382.4 210.0,392.2 212.7,396.2 215.5,392.2 218.3,386.0 221.0,381.1 223.8,389.1" fill="none" stroke="#d6458c" stroke-width="1.7" stroke-linejoin="round"/>
<rect x="183.30" y="364.30" width="42.50" height="42.20" fill="none" stroke="#3a3a3a" stroke-width="0.9"/>
<text x="204.55" y="361.00" class="gn">NR1D1</text>
<polygon points="233.0,377.2 233.5,378.5 234.2,380.4 235.0,382.5 235.8,384.3 236.5,385.9 237.2,387.5 237.9,388.9 238.6,390.1 239.3,391.0 239.9,391.8 240.6,392.3 241.3,392.3 242.0,391.8 242.7,390.8 243.4,389.4 244.1,387.9 244.8,385.9 245.5,383.6 246.2,381.2 246.9,379.0 247.6,376.8 248.3,374.5 249.0,372.5 249.6,371.0 250.3,370.1 251.0,369.5 251.7,369.4 252.4,369.7 253.1,370.3 253.8,371.3 254.5,372.6 255.2,374.1 255.9,375.7 256.6,377.6 257.3,379.6 258.0,381.6 258.7,383.9 259.3,386.4 260.0,388.7 260.7,390.5 261.4,391.9 262.1,392.9 262.8,393.5 263.5,393.6 264.2,393.3 264.9,392.4 265.6,391.2 266.3,389.6 267.0,387.7 267.7,385.3 268.3,382.9 269.0,380.8 269.8,378.9 270.6,377.1 271.3,375.6 271.8,374.5 271.8,381.4 271.3,382.5 270.6,384.0 269.8,385.8 269.0,387.6 268.3,389.8 267.7,392.2 267.0,394.6 266.3,396.5 265.6,398.0 264.9,399.3 264.2,400.1 263.5,400.5 262.8,400.4 262.1,399.8 261.4,398.8 260.7,397.4 260.0,395.6 259.3,393.2 258.7,390.8 258.0,388.5 257.3,386.5 256.6,384.5 255.9,382.6 255.2,381.0 254.5,379.5 253.8,378.2 253.1,377.2 252.4,376.5 251.7,376.3 251.0,376.4 250.3,376.9 249.6,377.9 249.0,379.4 248.3,381.4 247.6,383.7 246.9,385.9 246.2,388.1 245.5,390.5 244.8,392.8 244.1,394.7 243.4,396.3 242.7,397.7 242.0,398.7 241.3,399.2 240.6,399.2 239.9,398.7 239.3,397.9 238.6,397.0 237.9,395.8 237.2,394.4 236.5,392.8 235.8,391.2 235.0,389.3 234.2,387.3 233.5,385.4 233.0,384.1" fill="#afbde3"/>
<polyline points="233.0,375.3 235.8,392.2 238.6,396.6 241.3,401.1 244.1,399.7 246.9,381.1 249.6,372.7 252.4,373.5 255.2,377.5" fill="none" stroke="#3fae49" stroke-width="1.7" stroke-linejoin="round"/>
<polyline points="244.1,398.4 246.9,380.7 249.6,378.4 252.4,376.2 255.2,380.7 258.0,385.1 260.7,389.5 263.5,392.2 266.3,391.3 269.0,384.2 271.8,384.2" fill="none" stroke="#d6458c" stroke-width="1.7" stroke-linejoin="round"/>
<rect x="231.30" y="364.30" width="42.50" height="42.20" fill="none" stroke="#3a3a3a" stroke-width="0.9"/>
<text x="252.55" y="361.00" class="gn">NR1D2</text>
<polygon points="281.0,374.2 281.5,375.1 282.2,376.5 283.0,378.0 283.8,379.5 284.5,381.1 285.2,382.6 285.9,384.2 286.6,385.8 287.3,387.2 287.9,388.7 288.6,390.0 289.3,391.1 290.0,392.0 290.7,392.8 291.4,393.3 292.1,393.3 292.8,392.7 293.5,391.6 294.2,390.1 294.9,388.4 295.6,386.4 296.3,384.1 297.0,381.7 297.6,379.5 298.3,377.7 299.0,375.9 299.7,374.4 300.4,373.3 301.1,372.8 301.8,372.6 302.5,372.8 303.2,373.3 303.9,374.2 304.6,375.5 305.3,377.1 306.0,378.7 306.7,380.3 307.3,382.2 308.0,384.1 308.7,385.8 309.4,387.3 310.1,388.7 310.8,390.0 311.5,391.1 312.2,392.1 312.9,393.1 313.6,393.7 314.3,393.7 315.0,393.0 315.7,391.8 316.3,390.1 317.0,388.4 317.8,386.4 318.6,384.1 319.3,381.9 319.8,380.4 319.8,384.4 319.3,385.9 318.6,388.1 317.8,390.4 317.0,392.4 316.3,394.1 315.7,395.7 315.0,397.0 314.3,397.7 313.6,397.7 312.9,397.1 312.2,396.1 311.5,395.1 310.8,394.0 310.1,392.7 309.4,391.3 308.7,389.8 308.0,388.1 307.3,386.2 306.7,384.3 306.0,382.6 305.3,381.1 304.6,379.5 303.9,378.2 303.2,377.3 302.5,376.8 301.8,376.6 301.1,376.8 300.4,377.3 299.7,378.4 299.0,379.9 298.3,381.6 297.6,383.5 297.0,385.7 296.3,388.1 295.6,390.4 294.9,392.4 294.2,394.1 293.5,395.6 292.8,396.7 292.1,397.3 291.4,397.3 290.7,396.8 290.0,396.0 289.3,395.1 288.6,394.0 287.9,392.7 287.3,391.2 286.6,389.8 285.9,388.2 285.2,386.6 284.5,385.0 283.8,383.5 283.0,382.0 282.2,380.5 281.5,379.1 281.0,378.2" fill="#afbde3"/>
<polyline points="281.0,384.6 283.8,380.7 286.6,387.8 289.3,393.1 292.1,391.8 294.9,389.1 297.6,381.5 300.4,378.4 303.2,380.2" fill="none" stroke="#3fae49" stroke-width="1.7" stroke-linejoin="round"/>
<polyline points="292.1,396.2 294.9,392.6 297.6,380.7 300.4,372.2 303.2,374.0 306.0,380.7 308.7,387.3 311.5,392.6 314.3,397.5 317.0,389.5 319.8,383.8" fill="none" stroke="#d6458c" stroke-width="1.7" stroke-linejoin="round"/>
<rect x="279.30" y="364.30" width="42.50" height="42.20" fill="none" stroke="#3a3a3a" stroke-width="0.9"/>
<text x="300.55" y="361.00" class="gn">PER2</text>
<polygon points="329.0,374.4 329.5,375.8 330.2,377.7 331.0,379.7 331.8,381.5 332.5,383.0 333.2,384.4 333.9,385.6 334.6,386.9 335.3,388.1 335.9,389.3 336.6,390.4 337.3,391.3 338.0,392.2 338.7,393.0 339.4,393.5 340.1,393.5 340.8,392.9 341.5,391.7 342.2,390.2 342.9,388.6 343.6,386.8 344.3,384.7 345.0,382.5 345.6,380.7 346.3,379.0 347.0,377.6 347.7,376.3 348.4,375.3 349.1,374.5 349.8,373.9 350.5,373.5 351.2,373.5 351.9,374.0 352.6,374.8 353.3,375.9 354.0,377.1 354.7,378.5 355.3,380.0 356.0,381.7 356.7,383.3 357.4,384.9 358.1,386.6 358.8,388.2 359.5,389.5 360.2,390.8 360.9,392.1 361.6,392.9 362.3,393.1 363.0,392.3 363.7,390.8 364.3,388.8 365.0,386.9 365.8,384.6 366.6,382.0 367.3,379.6 367.8,378.0 367.8,381.5 367.3,383.2 366.6,385.6 365.8,388.2 365.0,390.4 364.3,392.4 363.7,394.3 363.0,395.8 362.3,396.6 361.6,396.5 360.9,395.6 360.2,394.4 359.5,393.1 358.8,391.7 358.1,390.1 357.4,388.5 356.7,386.9 356.0,385.3 355.3,383.6 354.7,382.0 354.0,380.7 353.3,379.4 352.6,378.4 351.9,377.5 351.2,377.1 350.5,377.1 349.8,377.4 349.1,378.1 348.4,378.9 347.7,379.9 347.0,381.1 346.3,382.6 345.6,384.2 345.0,386.1 344.3,388.2 343.6,390.4 342.9,392.2 342.2,393.8 341.5,395.3 340.8,396.4 340.1,397.1 339.4,397.1 338.7,396.6 338.0,395.7 337.3,394.9 336.6,393.9 335.9,392.8 335.3,391.6 334.6,390.4 333.9,389.2 333.2,387.9 332.5,386.6 331.8,385.1 331.0,383.3 330.2,381.2 329.5,379.3 329.0,378.0" fill="#afbde3"/>
<polyline points="329.0,381.5 331.8,387.3 334.6,388.6 337.3,392.6 340.1,394.0 342.9,389.5 345.6,379.8 348.4,377.5 351.2,378.0" fill="none" stroke="#3fae49" stroke-width="1.7" stroke-linejoin="round"/>
<polyline points="340.1,396.2 342.9,394.9 345.6,383.3 348.4,376.7 351.2,375.3 354.0,378.9 356.7,383.3 359.5,391.3 362.3,394.0 365.0,386.4 367.8,378.4" fill="none" stroke="#d6458c" stroke-width="1.7" stroke-linejoin="round"/>
<rect x="327.30" y="364.30" width="42.50" height="42.20" fill="none" stroke="#3a3a3a" stroke-width="0.9"/>
<text x="348.55" y="361.00" class="gn">PER3</text>
<polygon points="377.0,382.1 377.5,382.2 378.2,382.4 379.0,382.6 379.8,382.8 380.5,383.0 381.2,383.2 381.9,383.4 382.6,383.7 383.3,384.0 383.9,384.3 384.6,384.6 385.3,384.9 386.0,385.4 386.7,385.9 387.4,386.3 388.1,386.5 388.8,386.4 389.5,386.1 390.2,385.6 390.9,385.2 391.6,384.8 392.3,384.4 393.0,384.0 393.6,383.7 394.3,383.4 395.0,383.1 395.7,382.8 396.4,382.5 397.1,382.2 397.8,381.9 398.5,381.6 399.2,381.4 399.9,381.4 400.6,381.4 401.3,381.6 402.0,381.7 402.7,381.9 403.3,382.0 404.0,382.2 404.7,382.5 405.4,383.1 406.1,383.9 406.8,384.6 407.5,385.2 408.2,385.5 408.9,385.7 409.6,385.8 410.3,385.8 411.0,385.8 411.7,385.7 412.3,385.6 413.0,385.6 413.8,385.8 414.6,386.1 415.3,386.3 415.8,386.5 415.8,389.0 415.3,388.8 414.6,388.5 413.8,388.3 413.0,388.1 412.3,388.1 411.7,388.2 411.0,388.3 410.3,388.3 409.6,388.2 408.9,388.1 408.2,388.0 407.5,387.6 406.8,387.1 406.1,386.3 405.4,385.6 404.7,385.0 404.0,384.6 403.3,384.4 402.7,384.3 402.0,384.2 401.3,384.0 400.6,383.9 399.9,383.8 399.2,383.8 398.5,384.0 397.8,384.3 397.1,384.7 396.4,385.0 395.7,385.3 395.0,385.5 394.3,385.8 393.6,386.1 393.0,386.5 392.3,386.9 391.6,387.3 390.9,387.6 390.2,388.1 389.5,388.5 388.8,388.9 388.1,389.0 387.4,388.8 386.7,388.3 386.0,387.8 385.3,387.4 384.6,387.0 383.9,386.7 383.3,386.4 382.6,386.1 381.9,385.9 381.2,385.7 380.5,385.4 379.8,385.2 379.0,385.0 378.2,384.8 377.5,384.7 377.0,384.5" fill="#afbde3"/>
<polyline points="377.0,384.2 379.8,384.6 382.6,384.6 385.3,386.4 388.1,390.4 390.9,386.0 393.6,384.6 396.4,384.2 399.2,382.9" fill="none" stroke="#3fae49" stroke-width="1.7" stroke-linejoin="round"/>
<polyline points="388.1,386.9 390.9,387.8 393.6,385.1 396.4,383.8 399.2,382.2 402.0,382.9 404.7,383.3 407.5,387.3 410.3,386.9 413.0,386.4 415.8,389.1" fill="none" stroke="#d6458c" stroke-width="1.7" stroke-linejoin="round"/>
<rect x="375.30" y="364.30" width="42.50" height="42.20" fill="none" stroke="#3a3a3a" stroke-width="0.9"/>
<text x="396.55" y="361.00" class="gn">PGM3</text>
<polygon points="425.0,382.8 425.5,383.2 426.2,383.7 427.0,384.3 427.8,384.8 428.5,385.1 429.2,385.3 429.9,385.5 430.6,385.7 431.3,385.9 431.9,386.0 432.6,386.1 433.3,386.2 434.0,386.4 434.7,386.5 435.4,386.6 436.1,386.6 436.8,386.4 437.5,386.1 438.2,385.7 438.9,385.3 439.6,385.0 440.3,384.6 441.0,384.2 441.6,383.8 442.3,383.5 443.0,383.1 443.7,382.8 444.4,382.5 445.1,382.2 445.8,382.0 446.5,381.8 447.2,381.9 447.9,382.2 448.6,382.7 449.3,383.2 450.0,383.6 450.7,383.9 451.3,384.0 452.0,384.1 452.7,384.3 453.4,384.4 454.1,384.5 454.8,384.7 455.5,384.8 456.2,385.0 456.9,385.2 457.6,385.4 458.3,385.5 459.0,385.6 459.7,385.6 460.3,385.7 461.0,385.7 461.8,385.7 462.6,385.8 463.3,385.8 463.8,385.9 463.8,387.9 463.3,387.8 462.6,387.8 461.8,387.7 461.0,387.7 460.3,387.7 459.7,387.6 459.0,387.6 458.3,387.5 457.6,387.4 456.9,387.2 456.2,387.0 455.5,386.8 454.8,386.7 454.1,386.5 453.4,386.4 452.7,386.3 452.0,386.1 451.3,386.0 450.7,385.9 450.0,385.6 449.3,385.2 448.6,384.7 447.9,384.2 447.2,383.9 446.5,383.8 445.8,384.0 445.1,384.2 444.4,384.5 443.7,384.8 443.0,385.1 442.3,385.5 441.6,385.8 441.0,386.2 440.3,386.6 439.6,387.0 438.9,387.3 438.2,387.7 437.5,388.1 436.8,388.4 436.1,388.6 435.4,388.6 434.7,388.5 434.0,388.4 433.3,388.2 432.6,388.1 431.9,388.0 431.3,387.9 430.6,387.7 429.9,387.5 429.2,387.3 428.5,387.1 427.8,386.8 427.0,386.3 426.2,385.7 425.5,385.2 425.0,384.8" fill="#afbde3"/>
<polyline points="425.0,383.1 427.8,386.4 430.6,386.9 433.3,387.3 436.1,387.8 438.9,386.4 441.6,384.6 444.4,383.3 447.2,382.9" fill="none" stroke="#3fae49" stroke-width="1.7" stroke-linejoin="round"/>
<polyline points="436.1,387.8 438.9,386.2 441.6,384.9 444.4,383.5 447.2,382.6 450.0,385.1 452.7,385.3 455.5,385.5 458.3,386.9 461.0,386.7 463.8,386.9" fill="none" stroke="#d6458c" stroke-width="1.7" stroke-linejoin="round"/>
<rect x="423.30" y="364.30" width="42.50" height="42.20" fill="none" stroke="#3a3a3a" stroke-width="0.9"/>
<text x="444.55" y="361.00" class="gn">SORT1</text>
<polygon points="473.0,380.8 473.5,381.3 474.2,382.1 475.0,383.1 475.8,383.9 476.5,384.6 477.2,385.3 477.9,385.9 478.6,386.5 479.3,387.1 479.9,387.6 480.6,388.0 481.3,388.3 482.0,388.4 482.7,388.4 483.4,388.2 484.1,387.9 484.8,387.2 485.5,386.3 486.2,385.3 486.9,384.3 487.6,383.4 488.3,382.5 489.0,381.6 489.6,380.8 490.3,380.0 491.0,379.4 491.7,378.9 492.4,378.5 493.1,378.4 493.8,378.4 494.5,378.6 495.2,379.0 495.9,379.6 496.6,380.3 497.3,381.2 498.0,382.1 498.7,383.1 499.3,384.1 500.0,385.1 500.7,386.1 501.4,387.0 502.1,387.9 502.8,388.7 503.5,389.2 504.2,389.3 504.9,389.1 505.6,388.8 506.3,388.3 507.0,387.7 507.7,387.0 508.3,386.1 509.0,385.2 509.8,384.2 510.6,383.0 511.3,381.9 511.8,381.2 511.8,384.5 511.3,385.3 510.6,386.3 509.8,387.5 509.0,388.5 508.3,389.4 507.7,390.3 507.0,391.0 506.3,391.6 505.6,392.1 504.9,392.5 504.2,392.6 503.5,392.5 502.8,392.1 502.1,391.3 501.4,390.4 500.7,389.4 500.0,388.5 499.3,387.4 498.7,386.4 498.0,385.4 497.3,384.5 496.6,383.6 495.9,382.9 495.2,382.3 494.5,382.0 493.8,381.8 493.1,381.7 492.4,381.9 491.7,382.2 491.0,382.7 490.3,383.4 489.6,384.1 489.0,384.9 488.3,385.8 487.6,386.7 486.9,387.6 486.2,388.6 485.5,389.6 484.8,390.5 484.1,391.2 483.4,391.6 482.7,391.8 482.0,391.8 481.3,391.6 480.6,391.4 479.9,390.9 479.3,390.4 478.6,389.9 477.9,389.3 477.2,388.6 476.5,387.9 475.8,387.2 475.0,386.4 474.2,385.5 473.5,384.7 473.0,384.1" fill="#afbde3"/>
<polyline points="473.0,380.7 475.8,391.3 478.6,387.3 481.3,390.0 484.1,392.2 486.9,384.2 489.6,381.1 492.4,379.8 495.2,380.7" fill="none" stroke="#3fae49" stroke-width="1.7" stroke-linejoin="round"/>
<polyline points="484.1,392.6 486.9,386.9 489.6,382.9 492.4,380.7 495.2,382.0 498.0,384.2 500.7,386.4 503.5,389.1 506.3,385.5 509.0,388.2 511.8,382.9" fill="none" stroke="#d6458c" stroke-width="1.7" stroke-linejoin="round"/>
<rect x="471.30" y="364.30" width="42.50" height="42.20" fill="none" stroke="#3a3a3a" stroke-width="0.9"/>
<text x="492.55" y="361.00" class="gn">TTC33</text>
<polygon points="41.0,452.9 41.5,452.3 42.2,451.5 43.0,450.7 43.8,450.2 44.5,450.0 45.2,449.9 45.9,450.0 46.6,450.2 47.3,450.6 47.9,451.1 48.6,451.7 49.3,452.4 50.0,453.2 50.7,454.2 51.4,455.1 52.1,456.0 52.8,456.8 53.5,457.5 54.2,458.2 54.9,458.6 55.6,459.0 56.3,459.2 57.0,459.2 57.6,459.1 58.3,458.7 59.0,458.2 59.7,457.5 60.4,456.9 61.1,456.2 61.8,455.4 62.5,454.6 63.2,453.8 63.9,452.9 64.6,452.1 65.3,451.3 66.0,450.7 66.7,450.1 67.3,449.7 68.0,449.4 68.7,449.3 69.4,449.5 70.1,449.9 70.8,450.5 71.5,451.1 72.2,451.9 72.9,452.8 73.6,453.8 74.3,454.6 75.0,455.4 75.7,456.2 76.3,456.8 77.0,457.3 77.8,457.6 78.6,457.7 79.3,457.7 79.8,457.8 79.8,461.8 79.3,461.7 78.6,461.7 77.8,461.6 77.0,461.3 76.3,460.8 75.7,460.2 75.0,459.4 74.3,458.6 73.6,457.8 72.9,456.8 72.2,455.9 71.5,455.1 70.8,454.5 70.1,453.9 69.4,453.5 68.7,453.3 68.0,453.4 67.3,453.7 66.7,454.1 66.0,454.6 65.3,455.3 64.6,456.1 63.9,456.9 63.2,457.8 62.5,458.6 61.8,459.4 61.1,460.2 60.4,460.9 59.7,461.5 59.0,462.2 58.3,462.7 57.6,463.1 57.0,463.2 56.3,463.2 55.6,463.0 54.9,462.6 54.2,462.2 53.5,461.5 52.8,460.8 52.1,460.0 51.4,459.1 50.7,458.2 50.0,457.2 49.3,456.4 48.6,455.7 47.9,455.1 47.3,454.6 46.6,454.2 45.9,454.0 45.2,453.9 44.5,454.0 43.8,454.2 43.0,454.7 42.2,455.5 41.5,456.3 41.0,456.9" fill="#afbde3"/>
<polyline points="41.0,455.3 43.8,452.7 46.6,452.2 49.3,454.0 52.1,457.1 54.9,460.2 57.6,461.5 60.4,460.6 63.2,462.0" fill="none" stroke="#3fae49" stroke-width="1.7" stroke-linejoin="round"/>
<polyline points="52.1,457.5 54.9,459.8 57.6,454.9 60.4,456.2 63.2,455.3 66.0,454.0 68.7,450.9 71.5,452.7 74.3,460.6 77.0,467.3 79.8,461.1" fill="none" stroke="#d6458c" stroke-width="1.7" stroke-linejoin="round"/>
<rect x="39.30" y="436.30" width="42.50" height="42.20" fill="none" stroke="#3a3a3a" stroke-width="0.9"/>
<text x="60.55" y="433.00" class="gn">ADCY3</text>
<line x1="35.90" x2="39.30" y1="438.00" y2="438.00" stroke="#3a3a3a" stroke-width="0.9"/>
<text x="33.80" y="440.90" class="tk" text-anchor="end">1</text>
<line x1="35.90" x2="39.30" y1="457.53" y2="457.53" stroke="#3a3a3a" stroke-width="0.9"/>
<text x="33.80" y="460.43" class="tk" text-anchor="end">0</text>
<line x1="35.90" x2="39.30" y1="477.07" y2="477.07" stroke="#3a3a3a" stroke-width="0.9"/>
<text x="33.80" y="479.97" class="tk" text-anchor="end">-1</text>
<line x1="41.02" x2="41.02" y1="478.50" y2="481.50" stroke="#3a3a3a" stroke-width="0.9"/>
<text x="41.02" y="491.20" class="tk" text-anchor="middle">0</text>
<line x1="52.10" x2="52.10" y1="478.50" y2="481.50" stroke="#3a3a3a" stroke-width="0.9"/>
<text x="52.10" y="491.20" class="tk" text-anchor="middle">12</text>
<line x1="63.19" x2="63.19" y1="478.50" y2="481.50" stroke="#3a3a3a" stroke-width="0.9"/>
<text x="63.19" y="491.20" class="tk" text-anchor="middle">24</text>
<line x1="74.27" x2="74.27" y1="478.50" y2="481.50" stroke="#3a3a3a" stroke-width="0.9"/>
<text x="74.27" y="491.20" class="tk" text-anchor="middle">36</text>
<polygon points="89.0,454.0 89.5,454.5 90.2,455.3 91.0,456.0 91.8,456.4 92.5,456.1 93.2,455.5 93.9,454.8 94.6,454.4 95.3,454.3 95.9,454.4 96.6,454.6 97.3,454.9 98.0,455.2 98.7,455.6 99.4,456.0 100.1,456.4 100.8,456.8 101.5,457.2 102.2,457.6 102.9,458.0 103.6,458.4 104.3,458.7 105.0,459.0 105.6,459.1 106.3,459.0 107.0,458.7 107.7,458.3 108.4,457.8 109.1,457.3 109.8,456.6 110.5,456.0 111.2,455.5 111.9,455.1 112.6,454.9 113.3,454.7 114.0,454.4 114.7,454.1 115.3,453.8 116.0,453.6 116.7,453.5 117.4,453.8 118.1,454.3 118.8,454.9 119.5,455.3 120.2,455.6 120.9,455.9 121.6,456.1 122.3,456.4 123.0,456.6 123.7,456.9 124.3,457.1 125.0,457.4 125.8,457.8 126.6,458.3 127.3,458.7 127.8,459.0 127.8,460.8 127.3,460.5 126.6,460.1 125.8,459.6 125.0,459.2 124.3,458.9 123.7,458.7 123.0,458.4 122.3,458.2 121.6,457.9 120.9,457.7 120.2,457.4 119.5,457.1 118.8,456.6 118.1,456.1 117.4,455.6 116.7,455.3 116.0,455.3 115.3,455.6 114.7,455.9 114.0,456.2 113.3,456.4 112.6,456.6 111.9,456.9 111.2,457.3 110.5,457.8 109.8,458.4 109.1,459.0 108.4,459.6 107.7,460.0 107.0,460.5 106.3,460.8 105.6,460.9 105.0,460.8 104.3,460.5 103.6,460.1 102.9,459.8 102.2,459.4 101.5,459.0 100.8,458.6 100.1,458.2 99.4,457.7 98.7,457.3 98.0,456.9 97.3,456.6 96.6,456.4 95.9,456.2 95.3,456.1 94.6,456.2 93.9,456.6 93.2,457.3 92.5,457.9 91.8,458.2 91.0,457.8 90.2,457.1 89.5,456.3 89.0,455.8" fill="#afbde3"/>
<polyline points="89.0,454.4 91.8,459.8 94.6,454.9 97.3,455.3 100.1,457.3 102.9,458.9 105.6,460.2 108.4,458.9 111.2,456.6" fill="none" stroke="#3fae49" stroke-width="1.7" stroke-linejoin="round"/>
<polyline points="100.1,457.3 102.9,458.9 105.6,460.2 108.4,458.4 111.2,456.2 114.0,455.3 116.7,454.2 119.5,456.2 122.3,457.3 125.0,458.2 127.8,460.2" fill="none" stroke="#d6458c" stroke-width="1.7" stroke-linejoin="round"/>
<rect x="87.30" y="436.30" width="42.50" height="42.20" fill="none" stroke="#3a3a3a" stroke-width="0.9"/>
<text x="108.55" y="433.00" class="gn">AP3M1</text>
<line x1="89.02" x2="89.02" y1="478.50" y2="481.50" stroke="#3a3a3a" stroke-width="0.9"/>
<text x="89.02" y="491.20" class="tk" text-anchor="middle">0</text>
<line x1="100.10" x2="100.10" y1="478.50" y2="481.50" stroke="#3a3a3a" stroke-width="0.9"/>
<text x="100.10" y="491.20" class="tk" text-anchor="middle">12</text>
<line x1="111.19" x2="111.19" y1="478.50" y2="481.50" stroke="#3a3a3a" stroke-width="0.9"/>
<text x="111.19" y="491.20" class="tk" text-anchor="middle">24</text>
<line x1="122.27" x2="122.27" y1="478.50" y2="481.50" stroke="#3a3a3a" stroke-width="0.9"/>
<text x="122.27" y="491.20" class="tk" text-anchor="middle">36</text>
<polygon points="137.0,452.0 137.5,451.1 138.2,449.8 139.0,448.5 139.8,447.5 140.5,447.1 141.2,446.8 141.9,446.8 142.6,447.1 143.3,447.6 143.9,448.5 144.6,449.5 145.3,450.7 146.0,452.1 146.7,453.7 147.4,455.4 148.1,456.9 148.8,458.2 149.5,459.5 150.2,460.6 150.9,461.3 151.6,461.6 152.3,461.6 153.0,461.3 153.6,460.9 154.3,460.2 155.0,459.4 155.7,458.4 156.4,457.3 157.1,456.2 157.8,454.9 158.5,453.6 159.2,452.4 159.9,451.3 160.6,450.2 161.3,449.3 162.0,448.4 162.7,447.7 163.3,447.2 164.0,446.8 164.7,446.7 165.4,446.8 166.1,447.1 166.8,447.7 167.5,448.4 168.2,449.5 168.9,450.9 169.6,452.4 170.3,453.8 171.0,455.1 171.7,456.4 172.3,457.6 173.0,458.6 173.8,459.4 174.6,460.1 175.3,460.5 175.8,460.9 175.8,465.7 175.3,465.4 174.6,464.9 173.8,464.3 173.0,463.5 172.3,462.5 171.7,461.3 171.0,460.0 170.3,458.6 169.6,457.3 168.9,455.8 168.2,454.4 167.5,453.3 166.8,452.5 166.1,452.0 165.4,451.7 164.7,451.5 164.0,451.7 163.3,452.1 162.7,452.6 162.0,453.3 161.3,454.1 160.6,455.1 159.9,456.2 159.2,457.3 158.5,458.5 157.8,459.8 157.1,461.0 156.4,462.2 155.7,463.3 155.0,464.3 154.3,465.1 153.6,465.7 153.0,466.2 152.3,466.5 151.6,466.5 150.9,466.2 150.2,465.5 149.5,464.4 148.8,463.1 148.1,461.8 147.4,460.3 146.7,458.6 146.0,456.9 145.3,455.5 144.6,454.4 143.9,453.3 143.3,452.5 142.6,452.0 141.9,451.7 141.2,451.7 140.5,451.9 139.8,452.4 139.0,453.4 138.2,454.7 137.5,456.0 137.0,456.9" fill="#afbde3"/>
<polyline points="137.0,457.5 139.8,447.8 142.6,447.3 145.3,450.0 148.1,458.9 150.9,463.3 153.6,462.9 156.4,464.2 159.2,465.1" fill="none" stroke="#3fae49" stroke-width="1.7" stroke-linejoin="round"/>
<polyline points="148.1,459.8 150.9,464.6 153.6,453.5 156.4,457.5 159.2,454.0 162.0,452.2 164.7,450.9 167.5,452.2 170.3,458.4 173.0,464.6 175.8,465.1" fill="none" stroke="#d6458c" stroke-width="1.7" stroke-linejoin="round"/>
<rect x="135.30" y="436.30" width="42.50" height="42.20" fill="none" stroke="#3a3a3a" stroke-width="0.9"/>
<text x="156.55" y="433.00" class="gn">CDC25A</text>
<line x1="137.02" x2="137.02" y1="478.50" y2="481.50" stroke="#3a3a3a" stroke-width="0.9"/>
<text x="137.02" y="491.20" class="tk" text-anchor="middle">0</text>
<line x1="148.10" x2="148.10" y1="478.50" y2="481.50" stroke="#3a3a3a" stroke-width="0.9"/>
<text x="148.10" y="491.20" class="tk" text-anchor="middle">12</text>
<line x1="159.19" x2="159.19" y1="478.50" y2="481.50" stroke="#3a3a3a" stroke-width="0.9"/>
<text x="159.19" y="491.20" class="tk" text-anchor="middle">24</text>
<line x1="170.27" x2="170.27" y1="478.50" y2="481.50" stroke="#3a3a3a" stroke-width="0.9"/>
<text x="170.27" y="491.20" class="tk" text-anchor="middle">36</text>
<polygon points="185.0,455.8 185.5,455.7 186.2,455.6 187.0,455.4 187.8,455.1 188.5,454.8 189.2,454.5 189.9,454.2 190.6,454.1 191.3,454.2 191.9,454.4 192.6,454.7 193.3,455.0 194.0,455.2 194.7,455.4 195.4,455.6 196.1,456.0 196.8,456.7 197.5,457.7 198.2,458.5 198.9,459.0 199.6,459.1 200.3,458.8 201.0,458.4 201.6,458.2 202.3,458.3 203.0,458.5 203.7,458.7 204.4,458.5 205.1,457.8 205.8,456.7 206.5,455.6 207.2,454.9 207.9,454.6 208.6,454.7 209.3,454.8 210.0,454.8 210.7,454.5 211.3,454.2 212.0,453.8 212.7,453.5 213.4,453.2 214.1,452.9 214.8,452.7 215.5,452.8 216.2,453.3 216.9,454.1 217.6,454.9 218.3,455.7 219.0,456.3 219.7,456.9 220.3,457.5 221.0,458.0 221.8,458.4 222.6,458.7 223.3,459.0 223.8,459.1 223.8,460.9 223.3,460.7 222.6,460.5 221.8,460.2 221.0,459.8 220.3,459.3 219.7,458.7 219.0,458.1 218.3,457.4 217.6,456.7 216.9,455.8 216.2,455.1 215.5,454.6 214.8,454.5 214.1,454.7 213.4,455.0 212.7,455.3 212.0,455.6 211.3,456.0 210.7,456.3 210.0,456.6 209.3,456.6 208.6,456.5 207.9,456.4 207.2,456.6 206.5,457.4 205.8,458.5 205.1,459.6 204.4,460.3 203.7,460.5 203.0,460.3 202.3,460.0 201.6,459.9 201.0,460.2 200.3,460.5 199.6,460.8 198.9,460.8 198.2,460.3 197.5,459.4 196.8,458.5 196.1,457.8 195.4,457.4 194.7,457.1 194.0,456.9 193.3,456.7 192.6,456.5 191.9,456.2 191.3,455.9 190.6,455.8 189.9,456.0 189.2,456.3 188.5,456.6 187.8,456.9 187.0,457.1 186.2,457.3 185.5,457.5 185.0,457.6" fill="#afbde3"/>
<polyline points="185.0,456.9 187.8,456.2 190.6,454.6 193.3,455.8 196.1,456.6 198.9,459.8 201.6,459.3 204.4,459.3 207.2,458.4" fill="none" stroke="#3fae49" stroke-width="1.7" stroke-linejoin="round"/>
<polyline points="196.1,456.9 198.9,460.5 201.6,458.7 204.4,459.8 207.2,455.3 210.0,455.8 212.7,454.2 215.5,453.4 218.3,456.6 221.0,458.9 223.8,460.2" fill="none" stroke="#d6458c" stroke-width="1.7" stroke-linejoin="round"/>
<rect x="183.30" y="436.30" width="42.50" height="42.20" fill="none" stroke="#3a3a3a" stroke-width="0.9"/>
<text x="204.55" y="433.00" class="gn">CNBP</text>
<line x1="185.02" x2="185.02" y1="478.50" y2="481.50" stroke="#3a3a3a" stroke-width="0.9"/>
<text x="185.02" y="491.20" class="tk" text-anchor="middle">0</text>
<line x1="196.10" x2="196.10" y1="478.50" y2="481.50" stroke="#3a3a3a" stroke-width="0.9"/>
<text x="196.10" y="491.20" class="tk" text-anchor="middle">12</text>
<line x1="207.19" x2="207.19" y1="478.50" y2="481.50" stroke="#3a3a3a" stroke-width="0.9"/>
<text x="207.19" y="491.20" class="tk" text-anchor="middle">24</text>
<line x1="218.27" x2="218.27" y1="478.50" y2="481.50" stroke="#3a3a3a" stroke-width="0.9"/>
<text x="218.27" y="491.20" class="tk" text-anchor="middle">36</text>
<polygon points="233.0,455.6 233.5,455.4 234.2,455.1 235.0,454.7 235.8,454.5 236.5,454.4 237.2,454.3 237.9,454.3 238.6,454.3 239.3,454.3 239.9,454.4 240.6,454.5 241.3,454.6 242.0,454.6 242.7,454.7 243.4,454.8 244.1,455.0 244.8,455.4 245.5,455.9 246.2,456.4 246.9,457.0 247.6,457.5 248.3,458.1 249.0,458.6 249.6,459.0 250.3,459.3 251.0,459.6 251.7,459.6 252.4,459.5 253.1,458.8 253.8,457.9 254.5,456.9 255.2,456.3 255.9,456.1 256.6,456.2 257.3,456.3 258.0,456.3 258.7,455.9 259.3,455.4 260.0,454.9 260.7,454.5 261.4,454.3 262.1,454.2 262.8,454.2 263.5,454.3 264.2,454.6 264.9,455.1 265.6,455.5 266.3,455.9 267.0,456.1 267.7,456.2 268.3,456.4 269.0,456.6 269.8,457.1 270.6,457.8 271.3,458.5 271.8,458.9 271.8,460.9 271.3,460.5 270.6,459.8 269.8,459.1 269.0,458.6 268.3,458.4 267.7,458.2 267.0,458.1 266.3,457.9 265.6,457.5 264.9,457.1 264.2,456.6 263.5,456.3 262.8,456.2 262.1,456.2 261.4,456.3 260.7,456.5 260.0,456.9 259.3,457.4 258.7,457.9 258.0,458.3 257.3,458.3 256.6,458.2 255.9,458.1 255.2,458.3 254.5,458.9 253.8,459.9 253.1,460.8 252.4,461.5 251.7,461.6 251.0,461.6 250.3,461.3 249.6,461.0 249.0,460.6 248.3,460.1 247.6,459.5 246.9,459.0 246.2,458.4 245.5,457.9 244.8,457.4 244.1,457.0 243.4,456.8 242.7,456.7 242.0,456.6 241.3,456.6 240.6,456.5 239.9,456.4 239.3,456.3 238.6,456.3 237.9,456.3 237.2,456.3 236.5,456.4 235.8,456.5 235.0,456.7 234.2,457.1 233.5,457.4 233.0,457.6" fill="#afbde3"/>
<polyline points="233.0,456.2 235.8,455.3 238.6,455.3 241.3,455.5 244.1,456.0 246.9,458.0 249.6,460.2 252.4,460.6 255.2,459.3" fill="none" stroke="#3fae49" stroke-width="1.7" stroke-linejoin="round"/>
<polyline points="244.1,453.5 246.9,458.0 249.6,459.9 252.4,460.2 255.2,456.9 258.0,457.5 260.7,455.3 263.5,455.3 266.3,456.9 269.0,457.5 271.8,460.2" fill="none" stroke="#d6458c" stroke-width="1.7" stroke-linejoin="round"/>
<rect x="231.30" y="436.30" width="42.50" height="42.20" fill="none" stroke="#3a3a3a" stroke-width="0.9"/>
<text x="252.55" y="433.00" class="gn">DIAPH1</text>
<line x1="233.02" x2="233.02" y1="478.50" y2="481.50" stroke="#3a3a3a" stroke-width="0.9"/>
<text x="233.02" y="491.20" class="tk" text-anchor="middle">0</text>
<line x1="244.10" x2="244.10" y1="478.50" y2="481.50" stroke="#3a3a3a" stroke-width="0.9"/>
<text x="244.10" y="491.20" class="tk" text-anchor="middle">12</text>
<line x1="255.19" x2="255.19" y1="478.50" y2="481.50" stroke="#3a3a3a" stroke-width="0.9"/>
<text x="255.19" y="491.20" class="tk" text-anchor="middle">24</text>
<line x1="266.27" x2="266.27" y1="478.50" y2="481.50" stroke="#3a3a3a" stroke-width="0.9"/>
<text x="266.27" y="491.20" class="tk" text-anchor="middle">36</text>
<polygon points="281.0,455.8 281.5,455.4 282.2,454.9 283.0,454.3 283.8,453.8 284.5,453.4 285.2,452.9 285.9,452.5 286.6,452.4 287.3,452.6 287.9,453.1 288.6,453.7 289.3,454.2 290.0,454.7 290.7,455.1 291.4,455.6 292.1,456.2 292.8,456.9 293.5,457.8 294.2,458.7 294.9,459.4 295.6,459.7 296.3,460.0 297.0,460.1 297.6,460.0 298.3,459.7 299.0,459.3 299.7,458.8 300.4,458.2 301.1,457.5 301.8,456.6 302.5,455.7 303.2,455.1 303.9,454.7 304.6,454.5 305.3,454.4 306.0,454.2 306.7,454.0 307.3,453.7 308.0,453.5 308.7,453.5 309.4,453.8 310.1,454.2 310.8,454.7 311.5,455.1 312.2,455.3 312.9,455.5 313.6,455.6 314.3,455.8 315.0,456.1 315.7,456.4 316.3,456.7 317.0,457.0 317.8,457.5 318.6,457.9 319.3,458.3 319.8,458.6 319.8,460.9 319.3,460.6 318.6,460.1 317.8,459.7 317.0,459.3 316.3,458.9 315.7,458.6 315.0,458.3 314.3,458.0 313.6,457.8 312.9,457.7 312.2,457.5 311.5,457.3 310.8,456.9 310.1,456.4 309.4,456.0 308.7,455.7 308.0,455.7 307.3,455.9 306.7,456.2 306.0,456.4 305.3,456.6 304.6,456.7 303.9,456.9 303.2,457.3 302.5,458.0 301.8,458.8 301.1,459.7 300.4,460.4 299.7,461.0 299.0,461.5 298.3,462.0 297.6,462.2 297.0,462.3 296.3,462.2 295.6,462.0 294.9,461.6 294.2,460.9 293.5,460.1 292.8,459.2 292.1,458.4 291.4,457.8 290.7,457.3 290.0,456.9 289.3,456.4 288.6,455.9 287.9,455.3 287.3,454.9 286.6,454.6 285.9,454.8 285.2,455.1 284.5,455.6 283.8,456.1 283.0,456.6 282.2,457.1 281.5,457.7 281.0,458.0" fill="#afbde3"/>
<polyline points="281.0,457.1 283.8,454.9 286.6,453.1 289.3,455.3 292.1,457.1 294.9,459.8 297.6,460.2 300.4,459.3 303.2,456.2" fill="none" stroke="#3fae49" stroke-width="1.7" stroke-linejoin="round"/>
<polyline points="292.1,455.3 294.9,461.1 297.6,462.2 300.4,459.3 303.2,456.0 306.0,455.3 308.7,454.9 311.5,456.6 314.3,456.4 317.0,457.3 319.8,458.2" fill="none" stroke="#d6458c" stroke-width="1.7" stroke-linejoin="round"/>
<rect x="279.30" y="436.30" width="42.50" height="42.20" fill="none" stroke="#3a3a3a" stroke-width="0.9"/>
<text x="300.55" y="433.00" class="gn">NIPA2</text>
<line x1="281.02" x2="281.02" y1="478.50" y2="481.50" stroke="#3a3a3a" stroke-width="0.9"/>
<text x="281.02" y="491.20" class="tk" text-anchor="middle">0</text>
<line x1="292.10" x2="292.10" y1="478.50" y2="481.50" stroke="#3a3a3a" stroke-width="0.9"/>
<text x="292.10" y="491.20" class="tk" text-anchor="middle">12</text>
<line x1="303.19" x2="303.19" y1="478.50" y2="481.50" stroke="#3a3a3a" stroke-width="0.9"/>
<text x="303.19" y="491.20" class="tk" text-anchor="middle">24</text>
<line x1="314.27" x2="314.27" y1="478.50" y2="481.50" stroke="#3a3a3a" stroke-width="0.9"/>
<text x="314.27" y="491.20" class="tk" text-anchor="middle">36</text>
<polygon points="329.0,456.2 329.5,455.9 330.2,455.4 331.0,454.9 331.8,454.4 332.5,454.0 333.2,453.5 333.9,453.1 334.6,453.1 335.3,453.5 335.9,454.2 336.6,455.1 337.3,455.8 338.0,456.2 338.7,456.6 339.4,457.0 340.1,457.3 340.8,457.5 341.5,457.8 342.2,458.0 342.9,458.2 343.6,458.3 344.3,458.4 345.0,458.5 345.6,458.4 346.3,458.2 347.0,457.8 347.7,457.4 348.4,456.9 349.1,456.4 349.8,455.8 350.5,455.3 351.2,454.9 351.9,454.7 352.6,454.6 353.3,454.5 354.0,454.4 354.7,454.2 355.3,453.9 356.0,453.7 356.7,453.7 357.4,454.0 358.1,454.5 358.8,455.0 359.5,455.5 360.2,455.8 360.9,456.2 361.6,456.4 362.3,456.7 363.0,457.0 363.7,457.3 364.3,457.5 365.0,457.8 365.8,458.1 366.6,458.5 367.3,458.8 367.8,459.0 367.8,460.8 367.3,460.6 366.6,460.3 365.8,459.9 365.0,459.6 364.3,459.3 363.7,459.0 363.0,458.8 362.3,458.5 361.6,458.2 360.9,457.9 360.2,457.6 359.5,457.3 358.8,456.8 358.1,456.3 357.4,455.8 356.7,455.5 356.0,455.5 355.3,455.7 354.7,456.0 354.0,456.2 353.3,456.3 352.6,456.3 351.9,456.4 351.2,456.6 350.5,457.1 349.8,457.6 349.1,458.2 348.4,458.7 347.7,459.1 347.0,459.6 346.3,460.0 345.6,460.2 345.0,460.3 344.3,460.2 343.6,460.1 342.9,459.9 342.2,459.8 341.5,459.6 340.8,459.3 340.1,459.0 339.4,458.7 338.7,458.4 338.0,458.0 337.3,457.5 336.6,456.9 335.9,456.0 335.3,455.3 334.6,454.9 333.9,454.9 333.2,455.3 332.5,455.7 331.8,456.2 331.0,456.7 330.2,457.2 329.5,457.6 329.0,458.0" fill="#afbde3"/>
<polyline points="329.0,457.3 331.8,455.3 334.6,453.4 337.3,456.6 340.1,458.4 342.9,459.3 345.6,458.0 348.4,457.3 351.2,459.8" fill="none" stroke="#3fae49" stroke-width="1.7" stroke-linejoin="round"/>
<polyline points="340.1,457.5 342.9,458.9 345.6,459.9 348.4,458.0 351.2,455.5 354.0,455.3 356.7,454.4 359.5,456.4 362.3,457.5 365.0,458.7 367.8,459.9" fill="none" stroke="#d6458c" stroke-width="1.7" stroke-linejoin="round"/>
<rect x="327.30" y="436.30" width="42.50" height="42.20" fill="none" stroke="#3a3a3a" stroke-width="0.9"/>
<text x="348.55" y="433.00" class="gn">NKFR</text>
<line x1="329.02" x2="329.02" y1="478.50" y2="481.50" stroke="#3a3a3a" stroke-width="0.9"/>
<text x="329.02" y="491.20" class="tk" text-anchor="middle">0</text>
<line x1="340.10" x2="340.10" y1="478.50" y2="481.50" stroke="#3a3a3a" stroke-width="0.9"/>
<text x="340.10" y="491.20" class="tk" text-anchor="middle">12</text>
<line x1="351.19" x2="351.19" y1="478.50" y2="481.50" stroke="#3a3a3a" stroke-width="0.9"/>
<text x="351.19" y="491.20" class="tk" text-anchor="middle">24</text>
<line x1="362.27" x2="362.27" y1="478.50" y2="481.50" stroke="#3a3a3a" stroke-width="0.9"/>
<text x="362.27" y="491.20" class="tk" text-anchor="middle">36</text>
<polygon points="377.0,454.4 377.5,454.3 378.2,454.1 379.0,453.8 379.8,453.5 380.5,453.1 381.2,452.4 381.9,451.9 382.6,451.8 383.3,452.1 383.9,452.8 384.6,453.6 385.3,454.4 386.0,455.3 386.7,456.3 387.4,457.3 388.1,458.0 388.8,458.4 389.5,458.6 390.2,458.6 390.9,458.6 391.6,458.6 392.3,458.4 393.0,458.2 393.6,458.0 394.3,457.6 395.0,457.1 395.7,456.6 396.4,456.2 397.1,455.8 397.8,455.5 398.5,455.2 399.2,454.9 399.9,454.5 400.6,454.2 401.3,453.9 402.0,453.6 402.7,453.4 403.3,453.1 404.0,452.9 404.7,452.9 405.4,453.1 406.1,453.5 406.8,453.9 407.5,454.4 408.2,454.9 408.9,455.5 409.6,456.1 410.3,456.6 411.0,457.1 411.7,457.6 412.3,458.1 413.0,458.4 413.8,458.7 414.6,458.9 415.3,459.0 415.8,459.1 415.8,461.8 415.3,461.7 414.6,461.6 413.8,461.4 413.0,461.1 412.3,460.7 411.7,460.3 411.0,459.8 410.3,459.3 409.6,458.8 408.9,458.2 408.2,457.6 407.5,457.1 406.8,456.6 406.1,456.2 405.4,455.8 404.7,455.6 404.0,455.6 403.3,455.8 402.7,456.0 402.0,456.3 401.3,456.6 400.6,456.9 399.9,457.2 399.2,457.5 398.5,457.9 397.8,458.2 397.1,458.5 396.4,458.9 395.7,459.3 395.0,459.8 394.3,460.3 393.6,460.6 393.0,460.9 392.3,461.1 391.6,461.2 390.9,461.3 390.2,461.3 389.5,461.2 388.8,461.0 388.1,460.6 387.4,459.9 386.7,459.0 386.0,458.0 385.3,457.1 384.6,456.3 383.9,455.4 383.3,454.8 382.6,454.4 381.9,454.6 381.2,455.1 380.5,455.7 379.8,456.2 379.0,456.5 378.2,456.8 377.5,457.0 377.0,457.1" fill="#afbde3"/>
<polyline points="377.0,457.5 379.8,456.2 382.6,450.0 385.3,455.3 388.1,459.3 390.9,459.8 393.6,459.9 396.4,459.3 399.2,456.6" fill="none" stroke="#3fae49" stroke-width="1.7" stroke-linejoin="round"/>
<polyline points="388.1,459.3 390.9,460.2 393.6,455.1 396.4,456.6 399.2,456.2 402.0,454.9 404.7,454.2 407.5,455.8 410.3,458.0 413.0,459.8 415.8,460.5" fill="none" stroke="#d6458c" stroke-width="1.7" stroke-linejoin="round"/>
<rect x="375.30" y="436.30" width="42.50" height="42.20" fill="none" stroke="#3a3a3a" stroke-width="0.9"/>
<text x="396.55" y="433.00" class="gn">NUP153</text>
<line x1="377.02" x2="377.02" y1="478.50" y2="481.50" stroke="#3a3a3a" stroke-width="0.9"/>
<text x="377.02" y="491.20" class="tk" text-anchor="middle">0</text>
<line x1="388.10" x2="388.10" y1="478.50" y2="481.50" stroke="#3a3a3a" stroke-width="0.9"/>
<text x="388.10" y="491.20" class="tk" text-anchor="middle">12</text>
<line x1="399.19" x2="399.19" y1="478.50" y2="481.50" stroke="#3a3a3a" stroke-width="0.9"/>
<text x="399.19" y="491.20" class="tk" text-anchor="middle">24</text>
<line x1="410.27" x2="410.27" y1="478.50" y2="481.50" stroke="#3a3a3a" stroke-width="0.9"/>
<text x="410.27" y="491.20" class="tk" text-anchor="middle">36</text>
<polygon points="425.0,454.2 425.5,453.7 426.2,453.0 427.0,452.2 427.8,451.5 428.5,450.9 429.2,450.2 429.9,449.8 430.6,449.8 431.3,450.3 431.9,451.4 432.6,452.6 433.3,453.8 434.0,454.9 434.7,456.1 435.4,457.3 436.1,458.2 436.8,458.9 437.5,459.4 438.2,459.8 438.9,460.0 439.6,459.9 440.3,459.6 441.0,459.1 441.6,458.6 442.3,458.1 443.0,457.4 443.7,456.7 444.4,456.2 445.1,455.8 445.8,455.6 446.5,455.4 447.2,455.1 447.9,454.5 448.6,453.8 449.3,453.1 450.0,452.6 450.7,452.3 451.3,452.2 452.0,452.2 452.7,452.3 453.4,452.4 454.1,452.6 454.8,453.0 455.5,453.5 456.2,454.3 456.9,455.3 457.6,456.3 458.3,457.3 459.0,458.3 459.7,459.2 460.3,460.0 461.0,460.4 461.8,460.2 462.6,459.5 463.3,458.7 463.8,458.2 463.8,460.4 463.3,460.9 462.6,461.7 461.8,462.4 461.0,462.6 460.3,462.3 459.7,461.5 459.0,460.5 458.3,459.5 457.6,458.6 456.9,457.5 456.2,456.5 455.5,455.7 454.8,455.2 454.1,454.8 453.4,454.6 452.7,454.5 452.0,454.4 451.3,454.4 450.7,454.5 450.0,454.8 449.3,455.3 448.6,456.0 447.9,456.7 447.2,457.3 446.5,457.6 445.8,457.8 445.1,458.0 444.4,458.4 443.7,458.9 443.0,459.6 442.3,460.3 441.6,460.9 441.0,461.4 440.3,461.8 439.6,462.1 438.9,462.2 438.2,462.0 437.5,461.7 436.8,461.1 436.1,460.4 435.4,459.5 434.7,458.3 434.0,457.1 433.3,456.0 432.6,454.8 431.9,453.6 431.3,452.6 430.6,452.0 429.9,452.0 429.2,452.5 428.5,453.1 427.8,453.8 427.0,454.4 426.2,455.2 425.5,455.9 425.0,456.4" fill="#afbde3"/>
<polyline points="425.0,455.8 427.8,453.1 430.6,448.2 433.3,454.4 436.1,459.3 438.9,460.2 441.6,461.1 444.4,462.4 447.2,461.1" fill="none" stroke="#3fae49" stroke-width="1.7" stroke-linejoin="round"/>
<polyline points="436.1,459.8 438.9,461.5 441.6,457.1 444.4,455.3 447.2,456.6 450.0,453.5 452.7,453.5 455.5,454.4 458.3,458.4 461.0,462.9 463.8,458.9" fill="none" stroke="#d6458c" stroke-width="1.7" stroke-linejoin="round"/>
<rect x="423.30" y="436.30" width="42.50" height="42.20" fill="none" stroke="#3a3a3a" stroke-width="0.9"/>
<text x="444.55" y="433.00" class="gn">SCML2</text>
<line x1="425.02" x2="425.02" y1="478.50" y2="481.50" stroke="#3a3a3a" stroke-width="0.9"/>
<text x="425.02" y="491.20" class="tk" text-anchor="middle">0</text>
<line x1="436.10" x2="436.10" y1="478.50" y2="481.50" stroke="#3a3a3a" stroke-width="0.9"/>
<text x="436.10" y="491.20" class="tk" text-anchor="middle">12</text>
<line x1="447.19" x2="447.19" y1="478.50" y2="481.50" stroke="#3a3a3a" stroke-width="0.9"/>
<text x="447.19" y="491.20" class="tk" text-anchor="middle">24</text>
<line x1="458.27" x2="458.27" y1="478.50" y2="481.50" stroke="#3a3a3a" stroke-width="0.9"/>
<text x="458.27" y="491.20" class="tk" text-anchor="middle">36</text>
<polygon points="473.0,455.3 473.5,454.7 474.2,453.8 475.0,452.8 475.8,451.9 476.5,451.1 477.2,450.3 477.9,449.7 478.6,449.5 479.3,450.1 479.9,451.2 480.6,452.5 481.3,453.5 482.0,454.4 482.7,455.2 483.4,455.9 484.1,456.6 484.8,457.4 485.5,458.1 486.2,458.8 486.9,459.3 487.6,459.7 488.3,460.0 489.0,460.2 489.6,460.2 490.3,460.0 491.0,459.5 491.7,459.0 492.4,458.4 493.1,457.8 493.8,457.1 494.5,456.4 495.2,455.8 495.9,455.4 496.6,455.1 497.3,454.8 498.0,454.4 498.7,453.9 499.3,453.2 500.0,452.5 500.7,452.2 501.4,452.2 502.1,452.5 502.8,452.9 503.5,453.4 504.2,454.0 504.9,454.8 505.6,455.6 506.3,456.4 507.0,457.2 507.7,458.0 508.3,458.8 509.0,459.3 509.8,459.6 510.6,459.7 511.3,459.7 511.8,459.8 511.8,461.5 511.3,461.5 510.6,461.5 509.8,461.4 509.0,461.1 508.3,460.5 507.7,459.8 507.0,459.0 506.3,458.2 505.6,457.4 504.9,456.5 504.2,455.8 503.5,455.1 502.8,454.6 502.1,454.2 501.4,454.0 500.7,454.0 500.0,454.3 499.3,454.9 498.7,455.6 498.0,456.2 497.3,456.6 496.6,456.8 495.9,457.1 495.2,457.5 494.5,458.1 493.8,458.8 493.1,459.6 492.4,460.2 491.7,460.8 491.0,461.3 490.3,461.7 489.6,462.0 489.0,462.0 488.3,461.8 487.6,461.5 486.9,461.1 486.2,460.6 485.5,459.9 484.8,459.2 484.1,458.4 483.4,457.7 482.7,457.0 482.0,456.2 481.3,455.3 480.6,454.2 479.9,453.0 479.3,451.9 478.6,451.3 477.9,451.4 477.2,452.1 476.5,452.9 475.8,453.7 475.0,454.6 474.2,455.6 473.5,456.5 473.0,457.1" fill="#afbde3"/>
<polyline points="473.0,456.6 475.8,453.1 478.6,449.3 481.3,454.4 484.1,457.5 486.9,460.6 489.6,462.0 492.4,461.5 495.2,459.8" fill="none" stroke="#3fae49" stroke-width="1.7" stroke-linejoin="round"/>
<polyline points="484.1,456.2 486.9,458.9 489.6,461.1 492.4,458.0 495.2,456.2 498.0,456.0 500.7,452.7 503.5,454.0 506.3,457.1 509.0,460.5 511.8,460.6" fill="none" stroke="#d6458c" stroke-width="1.7" stroke-linejoin="round"/>
<rect x="471.30" y="436.30" width="42.50" height="42.20" fill="none" stroke="#3a3a3a" stroke-width="0.9"/>
<text x="492.55" y="433.00" class="gn">TMEM33</text>
<line x1="473.02" x2="473.02" y1="478.50" y2="481.50" stroke="#3a3a3a" stroke-width="0.9"/>
<text x="473.02" y="491.20" class="tk" text-anchor="middle">0</text>
<line x1="484.10" x2="484.10" y1="478.50" y2="481.50" stroke="#3a3a3a" stroke-width="0.9"/>
<text x="484.10" y="491.20" class="tk" text-anchor="middle">12</text>
<line x1="495.19" x2="495.19" y1="478.50" y2="481.50" stroke="#3a3a3a" stroke-width="0.9"/>
<text x="495.19" y="491.20" class="tk" text-anchor="middle">24</text>
<line x1="506.27" x2="506.27" y1="478.50" y2="481.50" stroke="#3a3a3a" stroke-width="0.9"/>
<text x="506.27" y="491.20" class="tk" text-anchor="middle">36</text>
</svg>
</body></html>
